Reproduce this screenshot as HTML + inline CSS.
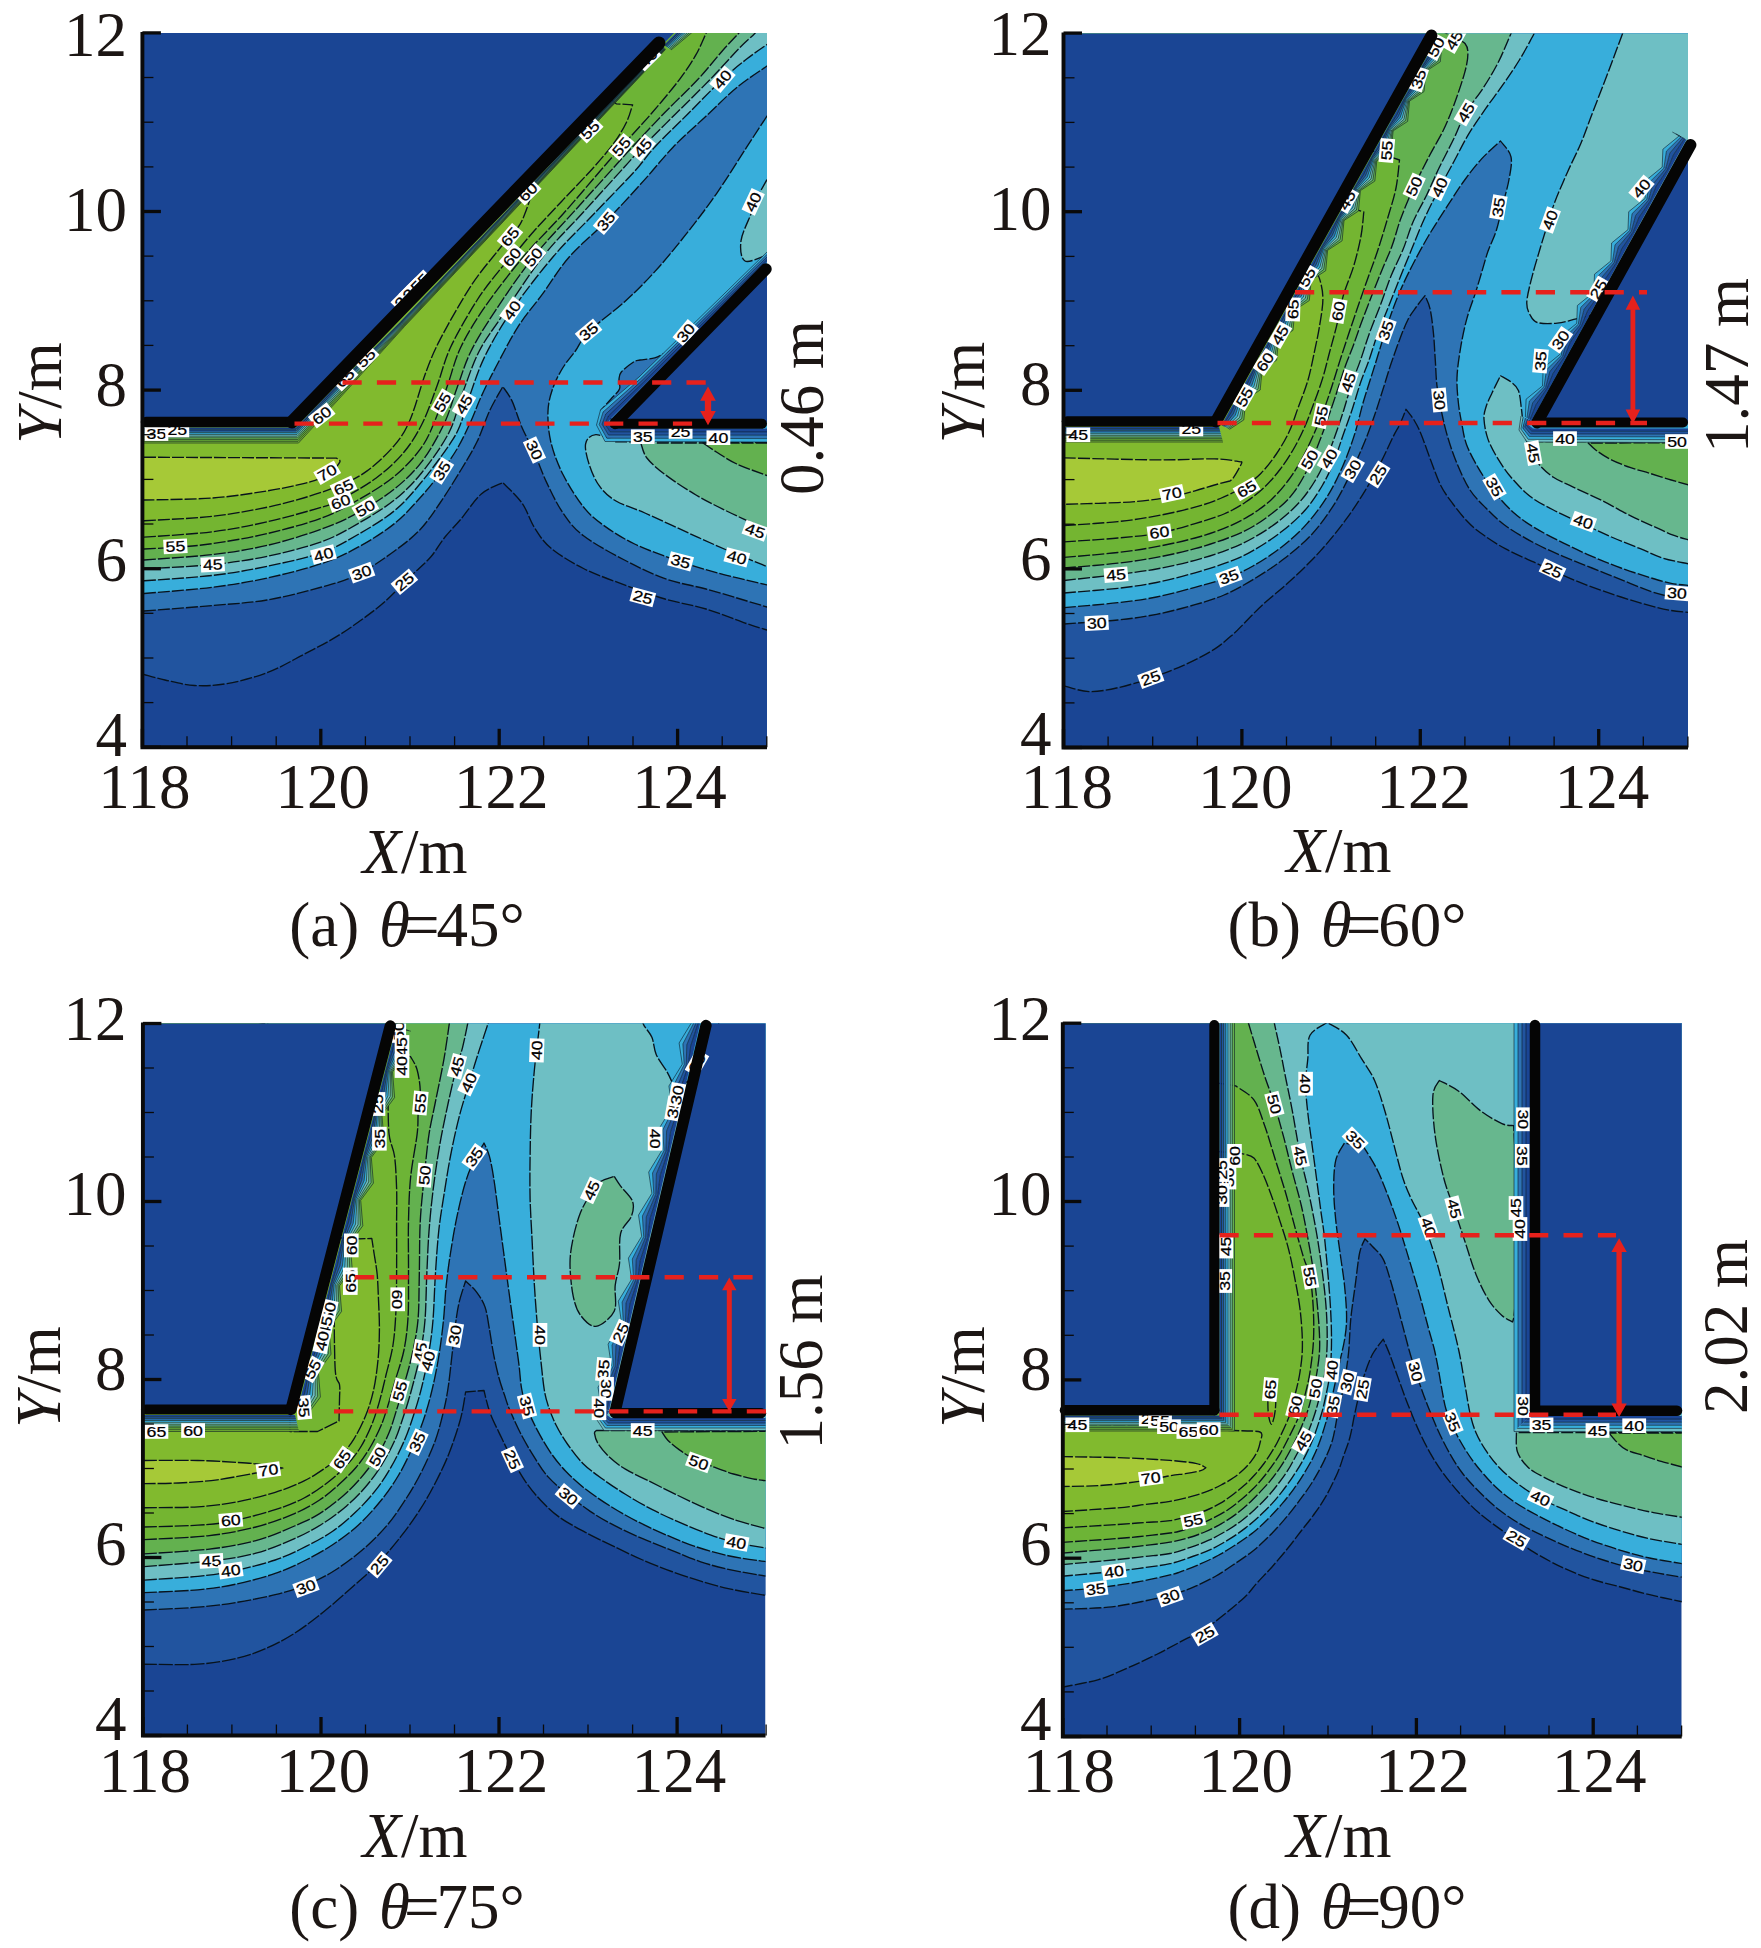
<!DOCTYPE html>
<html lang="zh"><head><meta charset="utf-8"><title>Figure</title>
<style>html,body{margin:0;padding:0;background:#fff}svg{display:block}</style></head>
<body>
<svg width="1761" height="1948" viewBox="0 0 1761 1948">
<rect width="1761" height="1948" fill="#fff"/>
<!-- panel pa -->
<clipPath id="clip0"><rect x="144" y="33" width="623" height="714"/></clipPath>
<g clip-path="url(#clip0)">
<rect x="144" y="33" width="623" height="714" fill="#1a4594"/>
<path d="M144 674.5 C147.5 675.4 156.6 678.2 165 680 C173.4 681.8 184.2 684.9 194.5 685.5 C204.8 686.1 214.9 685.7 227 683.6 C239.1 681.5 254.2 677.6 267 672.7 C279.8 667.9 291.4 660.9 303.6 654.5 C315.8 648.1 327.9 642.1 340 634.5 C352.1 626.9 366.9 616 376 609 C385.1 602 388.3 598.4 394.4 592.6 C400.5 586.8 406.6 580.3 412.6 574.4 C418.7 568.5 425.3 563.2 430.7 557 C436.1 550.8 439.9 543.3 445 537 C450.1 530.7 454.9 526.2 461 519 C467.1 511.8 474.3 500.1 481.3 494 C488.3 487.9 499.2 484.5 502.8 482.6 L502.8 482.6 C506 486 516.7 495.5 522 503 C527.3 510.5 529.7 520.1 534.5 527.6 C539.3 535.1 542.6 541.2 550.8 548 C559 554.8 571.2 562.4 583.5 568.5 C595.8 574.6 610.8 579.8 624.4 584.9 C638 590 651.4 595 665 599 C678.6 603 692.3 604.9 706 609 C719.7 613.1 736.8 620.2 747 623.7 C757.2 627.2 763.7 629 767 630 L820 630 C820 523.3 940 96.7 820 -10 C700 -116.7 220 -124.1 100 -10 C-20 104.1 100 560.4 100 674.5 Z" fill="#21549f" stroke="#08131c" stroke-width="1.35" stroke-linejoin="round" stroke-dasharray="12 2"/>
<path d="M144 611 C155.4 610.1 192.2 607.3 212.7 605.5 C233.2 603.7 248.8 603.1 267 600 C285.2 596.9 306.6 591.2 321.8 587 C337 582.8 345.9 580.5 358 574.5 C370.1 568.5 384.2 558.5 394.5 551 C404.8 543.5 412.4 537.7 420 529.7 C427.6 521.7 433.2 513 440 503 C446.8 493.1 454.7 480.2 460.9 470 C467.1 459.8 472.2 451.6 477 441.8 C481.8 432 485.2 420.2 489.5 411 C493.8 401.8 500.6 390.7 502.8 386.6 L502.8 386.6 C504.3 389 508.8 394.1 512 400.9 C515.2 407.7 518.3 419 522 427.5 C525.7 436 529.9 442.8 534 452 C538.1 461.2 541.9 472.4 546.7 482.6 C551.5 492.8 556.9 504.1 563 513 C569.1 521.9 573.3 528 583.5 535.8 C593.7 543.6 610.8 552.9 624.4 560 C638 567.1 651.4 573.9 665 578.7 C678.6 583.5 692.3 585.3 706 589 C719.7 592.7 736.8 598 747 601 C757.2 604 763.7 606 767 607 L820 607 C820 504.2 940 92.8 820 -10 C700 -112.8 220 -113.5 100 -10 C-20 93.5 100 507.5 100 611 Z" fill="#2e74b5" stroke="#08131c" stroke-width="1.35" stroke-linejoin="round" stroke-dasharray="12 2"/>
<path d="M144 593.5 C155.4 592.5 192.2 589.8 212.7 587.2 C233.2 584.6 249 582 267.2 578 C285.4 574 306.6 568.6 321.7 563.5 C336.8 558.4 345.9 553.9 358 547.2 C370.1 540.6 383.8 532.1 394.4 523.6 C405 515.1 414.1 504.4 421.7 496 C429.3 487.6 434.1 481.3 440 473.5 C445.9 465.7 451.8 457.8 457 449 C462.2 440.2 467 429.7 471 421 C475 412.3 476.9 405.9 481 397 C485.1 388.1 489.4 379.2 495.6 367.5 C501.8 355.8 510.3 338.9 518.1 326.6 C525.9 314.3 534.1 305.5 542.6 293.9 C551.1 282.3 558.6 269.1 569.2 257 C579.8 244.9 593.4 234.3 606 221.4 C618.6 208.5 633.6 191.9 644.9 179.4 C656.1 166.9 663.3 157.3 673.5 146.7 C683.7 136.1 695.7 125.9 706.2 116 C716.8 106.1 726.7 95.8 736.8 87.5 C746.9 79.2 762 69.6 767 66 L820 66 C820 53.3 940 2.7 820 -10 C700 -22.7 220 -110.6 100 -10 C-20 90.6 100 492.9 100 593.5 Z" fill="#38aedb" stroke="#08131c" stroke-width="1.35" stroke-linejoin="round" stroke-dasharray="12 2"/>
<path d="M767 116 C763.7 121.1 755.4 133.7 747 146.7 C738.6 159.7 726.6 179.1 716.4 193.8 C706.2 208.5 695.9 221.8 685.7 234.7 C675.5 247.6 665.2 260.2 655 271.4 C644.8 282.6 635.5 291.9 624.4 302 C613.3 312.1 596.8 323.5 588.6 331.7 C580.4 339.9 579.7 345 575.4 351 C571.1 357 566.8 361.3 563 367.5 C559.2 373.7 555.4 380.8 552.9 388 C550.4 395.2 548.4 402 548 411 C547.6 420 548.3 431.2 550.8 441.8 C553.3 452.4 557.5 463.6 563 474.5 C568.5 485.4 576.7 498.5 583.5 507 C590.3 515.5 595.5 519.4 604 525.6 C612.5 531.8 622.7 538.3 634.6 544 C646.5 549.7 661.9 555.2 675.5 560 C689.1 564.8 701.1 568.5 716.4 572.6 C731.6 576.8 758.6 582.9 767 584.9 L820 584.9 L820 116 Z" fill="#38aedb" stroke="#08131c" stroke-width="1.35" stroke-linejoin="round" stroke-dasharray="12 2"/>
<path d="M694 331 C692.3 333 688.5 339.3 683.7 343 C678.9 346.7 669.8 350.5 665 353 C660.2 355.5 658.9 356.7 654.7 357.9 C650.5 359.1 643.6 359.3 640 360 C636.4 360.7 636.3 360.2 633.2 362.2 C630.1 364.2 623.7 369.1 621.3 372 C618.9 374.9 619.3 376.7 619 379.5 C618.7 382.3 620.8 385.8 619.5 389 C618.2 392.2 614.1 395.5 611 399 C607.9 402.5 602.7 408.2 601 410 L612 420 L702 340 Z" fill="#2e74b5" stroke="#08131c" stroke-width="1.35" stroke-linejoin="round" stroke-dasharray="12 2"/>
<path d="M144 580.8 C155.4 579.9 192.2 577.8 212.7 575.4 C233.2 573 249 570.1 267.2 566.3 C285.4 562.5 306.6 557.9 321.7 552.6 C336.8 547.3 345.9 541.5 358 534.5 C370.1 527.5 383.8 519.6 394.4 510.8 C405 502 412.6 492.7 421.7 481.8 C430.8 470.9 442.5 454.8 448.9 445.4 C455.3 436 456.5 433.8 460 425.4 C463.5 417 465.8 406.7 470 395 C474.2 383.3 478.4 369.3 485.4 355.2 C492.4 341.1 500.8 326.7 512 310.3 C523.2 293.9 539.3 273.1 552.9 257 C566.5 240.9 580.2 228.3 593.8 214 C607.4 199.7 624.4 182.5 634.6 171.3 C644.8 160.1 646.2 156.2 655.1 146.7 C664 137.1 676.6 125.2 687.8 114 C699 102.8 712.6 88.5 722.5 79.3 C732.4 70.1 739.6 64.6 747 58.8 C754.4 53 763.7 46.9 767 44.5 L820 44.5 C820 35.4 940 -0.9 820 -10 C700 -19.1 220 -108.5 100 -10 C-20 88.5 100 482.3 100 580.8 Z" fill="#6ebfc4" stroke="#08131c" stroke-width="1.35" stroke-linejoin="round" stroke-dasharray="12 2"/>
<path d="M767 179.5 C765.3 182.6 759.7 192.2 757 198 C754.3 203.8 753.7 206.9 751 214 C748.3 221.1 742 233 741 240.8 C740 248.6 740.7 258.6 745 261 C749.3 263.4 763.3 256 767 255 L820 255 L820 179.5 Z" fill="#6ebfc4" stroke="#08131c" stroke-width="1.35" stroke-linejoin="round" stroke-dasharray="12 2"/>
<path d="M767 442 L616 441.8 L616 441.8 C612.6 440.6 600.9 434.3 595.8 434.6 C590.7 434.9 586.6 438.6 585.6 443.8 C584.6 449 587.3 458.9 589.7 466 C592.1 473.1 595.5 480.9 599.9 486.7 C604.3 492.5 608.5 496.6 616 501 C623.5 505.4 633.3 507.9 644.9 513 C656.5 518.1 672.1 525.5 685.7 531.7 C699.3 537.9 713.1 544.2 726.6 550 C740.1 555.8 760.3 563.8 767 566.5 L820 566.5 L820 442 Z" fill="#6ebfc4" stroke="#08131c" stroke-width="1.35" stroke-linejoin="round" stroke-dasharray="12 2"/>
<path d="M144 569 C155.4 568.2 192.2 566.6 212.7 564.5 C233.2 562.4 249 560.1 267.2 556.3 C285.4 552.5 306.6 547.2 321.7 541.7 C336.8 536.2 345.9 530.6 358 523.6 C370.1 516.6 383.8 508.5 394.4 500 C405 491.5 412.6 483.9 421.7 472.7 C430.8 461.5 442 446.1 448.9 432.7 C455.8 419.2 457.9 405.6 463 392 C468.1 378.4 472.8 363.6 479.3 351 C485.8 338.4 491.2 332.1 501.8 316.4 C512.4 300.7 529 274.4 542.6 257 C556.2 239.6 569.9 227 583.5 212 C597.1 197 614.5 177.9 624.4 167 C634.3 156.1 634.3 155.5 642.8 146.7 C651.3 137.9 664.2 125.2 675.5 114 C686.8 102.8 699.7 90.2 710.3 79.3 C720.9 68.4 731.4 56.3 738.9 48.6 C746.4 40.9 751.7 36.9 755.2 33 C758.7 29.1 759.2 26.3 760 25 L100 -10 L100 569 Z" fill="#67b78e" stroke="#08131c" stroke-width="1.35" stroke-linejoin="round" stroke-dasharray="12 2"/>
<path d="M640.8 443 C641.8 445.5 642.9 452.8 646.9 458 C650.9 463.2 656.8 468.3 665 474.5 C673.2 480.7 685.7 488.9 696 495 C706.3 501.1 714.8 505.2 726.6 511 C738.4 516.8 760.3 526.6 767 529.7 L820 529.7 L820 443 Z" fill="#67b78e" stroke="#08131c" stroke-width="1.35" stroke-linejoin="round" stroke-dasharray="12 2"/>
<path d="M144 560 C155.4 559.1 192.2 556.9 212.7 554.5 C233.2 552.1 249 549.6 267.2 545.4 C285.4 541.1 306.6 534.5 321.7 529 C336.8 523.5 345.9 519.4 358 512.7 C370.1 506 383.8 497.5 394.4 489 C405 480.5 413.4 472.6 421.7 461.8 C430 451 438.1 436.3 444 424 C449.9 411.7 452.5 400.2 457 388 C461.5 375.8 464.7 363.9 471.1 351 C477.5 338.1 485.2 326 495.6 310.3 C506 294.6 520.2 273.7 533.5 257 C546.8 240.3 561.9 225 575.4 210 C588.9 195 604.7 177.6 614.2 167 C623.7 156.4 624.1 155.9 632.6 146.7 C641.1 137.5 654.4 123.2 665.3 112 C676.2 100.8 688.5 89.5 698 79.3 C707.5 69.1 715.7 58.4 722.5 50.7 C729.3 43 735.1 37.3 738.9 33 C742.6 28.7 744 26.3 745 25 L100 -10 L100 560 Z" fill="#63b14f" stroke="#08131c" stroke-width="1.35" stroke-linejoin="round" stroke-dasharray="12 2"/>
<path d="M703 443 C705.2 444.5 710.8 448.5 716.4 452 C722 455.5 728.4 460.1 736.8 464 C745.2 467.9 762 473.6 767 475.5 L820 475.5 L820 443 Z" fill="#63b14f" stroke="#08131c" stroke-width="1.35" stroke-linejoin="round" stroke-dasharray="12 2"/>
<path d="M144 549 C149.4 548.7 164.9 548.1 176.3 547.2 C187.8 546.3 197.5 545.9 212.7 543.6 C227.8 541.3 249 537.9 267.2 533.6 C285.4 529.3 306.6 523.6 321.7 518 C336.8 512.4 345.9 506.9 358 500 C370.1 493.1 383.8 485.1 394.4 476.3 C405 467.5 414.8 456.9 421.7 447.2 C428.6 437.5 431.6 428.5 436 418 C440.4 407.5 443.9 395.8 448 384 C452.1 372.2 454.7 360 460.9 347 C467.1 334 475 321.2 485.4 306.2 C495.8 291.2 510.3 272.4 523.2 257 C536.1 241.6 550.2 228.3 563 214 C575.8 199.7 590.2 182.5 599.9 171.3 C609.6 160.1 612.9 156.2 621.4 146.7 C629.9 137.1 641.3 125.2 651 114 C660.7 102.8 672.1 89.2 679.6 79.3 C687.1 69.4 691.6 62.4 696 54.7 C700.4 47 703.7 38 706.2 33 C708.7 28.1 710.2 26.3 711 25 L100 -10 L100 549 Z" fill="#6db436" stroke="#08131c" stroke-width="1.35" stroke-linejoin="round" stroke-dasharray="12 2"/>
<path d="M144 537.2 C155.4 536.3 192.2 534.3 212.7 531.7 C233.2 529.1 249 525.9 267.2 521.8 C285.4 517.7 309.6 510.8 321.7 507.2 C333.8 503.6 330.8 504.9 339.9 500 C349 495.1 365.6 485.9 376.2 478 C386.8 470.1 395.9 461.7 403.5 452.7 C411.1 443.7 416.4 435.1 422 424 C427.6 412.9 432.2 398.8 437 386 C441.8 373.2 444 361.3 450.7 347 C457.4 332.7 468.7 313.3 477.2 300 C485.7 286.7 496 274.5 501.8 267.3 C507.6 260.1 506.6 263.1 512 257 C517.5 250.9 526 240 534.5 230.5 C543 221 553.1 210.5 563 199.9 C572.9 189.3 585.3 176.8 593.8 167.2 C602.3 157.6 608.8 150.1 614.2 142.6 C619.7 135.1 623.4 128.5 626.5 122.2 C629.6 115.9 631.6 107.7 632.6 104.8 L616.2 103.8 L600 90 L100 90 L100 537.2 Z" fill="#74b531" stroke="#08131c" stroke-width="1.35" stroke-linejoin="round" stroke-dasharray="12 2"/>
<path d="M144 520.8 C155.4 520 192.2 518.6 212.7 516.3 C233.2 514 252.1 510.2 267.2 507.2 C282.3 504.1 291.4 501.6 303.5 498 C315.6 494.4 329.3 489.9 339.9 485.4 C350.5 480.9 358 477.6 367.1 470.9 C376.2 464.2 387.2 453.9 394.4 445.4 C401.5 436.9 404.7 432.2 410 420 C415.3 407.8 420.9 385.5 426 372 C431.1 358.5 432.9 353.3 440.4 338.9 C447.9 324.5 461.6 300.3 471.1 285.7 C480.7 271.1 491.2 259.2 497.7 251 C504.2 242.8 506.3 241.1 510 236.7 C513.7 232.3 517.3 228.8 520 224.4 C522.7 220 524.6 214.4 526.3 210 C528 205.6 529.7 199.8 530.4 197.8 L522 190 L500 180 L100 180 L100 520.8 Z" fill="#81ba2e" stroke="#08131c" stroke-width="1.35" stroke-linejoin="round" stroke-dasharray="12 2"/>
<path d="M144 457.2 L336.3 458.1 L336.3 458.1 C336.9 458.7 340.6 459.5 339.9 461.8 C339.2 464.1 333.3 470.3 332 472 L332 472 C330.3 473 326.4 476.1 321.7 478 C316.9 479.9 312.6 481.5 303.5 483.6 C294.4 485.8 282.3 488.5 267.2 490.9 C252.1 493.3 233.2 496.5 212.7 498 C192.2 499.5 155.4 499.7 144 500 L100 500 L100 457.2 Z" fill="#a6c937" stroke="#08131c" stroke-width="1.35" stroke-linejoin="round" stroke-dasharray="12 2"/>
<polygon points="144,427.5 296,427.5 296.3,429.2 144,429.2" fill="#1a4594"/>
<polygon points="144,429.2 296.3,429.2 296.6,430.9 144,430.9" fill="#21549f"/>
<polygon points="144,430.9 296.6,430.9 296.8,432.7 144,432.7" fill="#2e74b5"/>
<polygon points="144,432.7 296.8,432.7 297.1,434.4 144,434.4" fill="#38aedb"/>
<polygon points="144,434.4 297.1,434.4 297.4,436.1 144,436.1" fill="#6ebfc4"/>
<polygon points="144,436.1 297.4,436.1 297.7,437.8 144,437.8" fill="#67b78e"/>
<polygon points="144,437.8 297.7,437.8 297.9,439.6 144,439.6" fill="#63b14f"/>
<polygon points="144,439.6 297.9,439.6 298.2,441.3 144,441.3" fill="#6db436"/>
<polygon points="144,441.3 298.2,441.3 298.5,443 144,443" fill="#74b531"/>
<polyline points="144,429.2 296.3,429.2" fill="none" stroke="#0b1a26" stroke-width="0.7" stroke-opacity="0.85"/>
<polyline points="144,430.9 296.6,430.9" fill="none" stroke="#0b1a26" stroke-width="0.7" stroke-opacity="0.85"/>
<polyline points="144,432.7 296.8,432.7" fill="none" stroke="#0b1a26" stroke-width="0.7" stroke-opacity="0.85"/>
<polyline points="144,434.4 297.1,434.4" fill="none" stroke="#0b1a26" stroke-width="0.7" stroke-opacity="0.85"/>
<polyline points="144,436.1 297.4,436.1" fill="none" stroke="#0b1a26" stroke-width="0.7" stroke-opacity="0.85"/>
<polyline points="144,437.8 297.7,437.8" fill="none" stroke="#0b1a26" stroke-width="0.7" stroke-opacity="0.85"/>
<polyline points="144,439.6 297.9,439.6" fill="none" stroke="#0b1a26" stroke-width="0.7" stroke-opacity="0.85"/>
<polyline points="144,441.3 298.2,441.3" fill="none" stroke="#0b1a26" stroke-width="0.7" stroke-opacity="0.85"/>
<polyline points="144,443 298.5,443" fill="none" stroke="#0b1a26" stroke-width="0.7" stroke-opacity="0.85"/>
<polygon points="296,427.5 334,388 400,322 663,47 663.3,47.3 400.5,322.5 334.4,389.3 296.3,429.2" fill="#1a4594"/>
<polygon points="296.3,429.2 334.4,389.3 400.5,322.5 663.3,47.3 663.6,47.6 401,323 334.9,390.7 296.6,430.9" fill="#21549f"/>
<polygon points="296.6,430.9 334.9,390.7 401,323 663.6,47.6 663.8,47.8 401.5,323.5 335.3,392 296.8,432.7" fill="#2e74b5"/>
<polygon points="296.8,432.7 335.3,392 401.5,323.5 663.8,47.8 664.1,48.1 402,324 335.8,393.3 297.1,434.4" fill="#38aedb"/>
<polygon points="297.1,434.4 335.8,393.3 402,324 664.1,48.1 664.4,48.4 402.5,324.5 336.2,394.7 297.4,436.1" fill="#6ebfc4"/>
<polygon points="297.4,436.1 336.2,394.7 402.5,324.5 664.4,48.4 664.7,48.7 403,325 336.7,396 297.7,437.8" fill="#67b78e"/>
<polygon points="297.7,437.8 336.7,396 403,325 664.7,48.7 664.9,48.9 403.5,325.5 337.1,397.3 297.9,439.6" fill="#63b14f"/>
<polygon points="297.9,439.6 337.1,397.3 403.5,325.5 664.9,48.9 665.2,49.2 404,326 337.6,398.7 298.2,441.3" fill="#6db436"/>
<polygon points="298.2,441.3 337.6,398.7 404,326 665.2,49.2 665.5,49.5 404.5,326.5 338,400 298.5,443" fill="#74b531"/>
<polyline points="296.3,429.2 334.4,389.3 400.5,322.5 663.3,47.3" fill="none" stroke="#0b1a26" stroke-width="0.7" stroke-opacity="0.85"/>
<polyline points="296.6,430.9 334.9,390.7 401,323 663.6,47.6" fill="none" stroke="#0b1a26" stroke-width="0.7" stroke-opacity="0.85"/>
<polyline points="296.8,432.7 335.3,392 401.5,323.5 663.8,47.8" fill="none" stroke="#0b1a26" stroke-width="0.7" stroke-opacity="0.85"/>
<polyline points="297.1,434.4 335.8,393.3 402,324 664.1,48.1" fill="none" stroke="#0b1a26" stroke-width="0.7" stroke-opacity="0.85"/>
<polyline points="297.4,436.1 336.2,394.7 402.5,324.5 664.4,48.4" fill="none" stroke="#0b1a26" stroke-width="0.7" stroke-opacity="0.85"/>
<polyline points="297.7,437.8 336.7,396 403,325 664.7,48.7" fill="none" stroke="#0b1a26" stroke-width="0.7" stroke-opacity="0.85"/>
<polyline points="297.9,439.6 337.1,397.3 403.5,325.5 664.9,48.9" fill="none" stroke="#0b1a26" stroke-width="0.7" stroke-opacity="0.85"/>
<polyline points="298.2,441.3 337.6,398.7 404,326 665.2,49.2" fill="none" stroke="#0b1a26" stroke-width="0.7" stroke-opacity="0.85"/>
<polyline points="298.5,443 338,400 404.5,326.5 665.5,49.5" fill="none" stroke="#0b1a26" stroke-width="0.7" stroke-opacity="0.85"/>
<polygon points="664,45 679,30 681.3,30 665,45.7" fill="#1a4594"/>
<polygon points="665,45.7 681.3,30 683.6,30 666,46.4" fill="#21549f"/>
<polygon points="666,46.4 683.6,30 685.9,30 667,47.1" fill="#2e74b5"/>
<polygon points="667,47.1 685.9,30 688.1,30 668,47.9" fill="#38aedb"/>
<polygon points="668,47.9 688.1,30 690.4,30 669,48.6" fill="#6ebfc4"/>
<polygon points="669,48.6 690.4,30 692.7,30 670,49.3" fill="#67b78e"/>
<polygon points="670,49.3 692.7,30 695,30 671,50" fill="#63b14f"/>
<polyline points="665,45.7 681.3,30" fill="none" stroke="#0b1a26" stroke-width="0.7" stroke-opacity="0.85"/>
<polyline points="666,46.4 683.6,30" fill="none" stroke="#0b1a26" stroke-width="0.7" stroke-opacity="0.85"/>
<polyline points="667,47.1 685.9,30" fill="none" stroke="#0b1a26" stroke-width="0.7" stroke-opacity="0.85"/>
<polyline points="668,47.9 688.1,30" fill="none" stroke="#0b1a26" stroke-width="0.7" stroke-opacity="0.85"/>
<polyline points="669,48.6 690.4,30" fill="none" stroke="#0b1a26" stroke-width="0.7" stroke-opacity="0.85"/>
<polyline points="670,49.3 692.7,30" fill="none" stroke="#0b1a26" stroke-width="0.7" stroke-opacity="0.85"/>
<polyline points="671,50 695,30" fill="none" stroke="#0b1a26" stroke-width="0.7" stroke-opacity="0.85"/>
<polygon points="768,261 645,384 611,418 607.5,423.5 612,428.5 768,428.5 768,431.9 610.2,431.8 604.8,423.9 608.4,416 643.5,382.2 768,258.5" fill="#1a4594"/>
<polygon points="768,258.5 643.5,382.2 608.4,416 604.8,423.9 610.2,431.8 768,431.9 768,435.2 608.5,435 602,424.2 605.8,414 642,380.5 768,256" fill="#21549f"/>
<polygon points="768,256 642,380.5 605.8,414 602,424.2 608.5,435 768,435.2 768,438.6 606.8,438.2 599.2,424.6 603.1,412 640.5,378.8 768,253.5" fill="#2e74b5"/>
<polygon points="768,253.5 640.5,378.8 603.1,412 599.2,424.6 606.8,438.2 768,438.6 768,442 605,441.5 596.5,425 600.5,410 639,377 768,251" fill="#38aedb"/>
<polyline points="768,258.5 643.5,382.2 608.4,416 604.8,423.9 610.2,431.8 768,431.9" fill="none" stroke="#0b1a26" stroke-width="0.7" stroke-opacity="0.85"/>
<polyline points="768,256 642,380.5 605.8,414 602,424.2 608.5,435 768,435.2" fill="none" stroke="#0b1a26" stroke-width="0.7" stroke-opacity="0.85"/>
<polyline points="768,253.5 640.5,378.8 603.1,412 599.2,424.6 606.8,438.2 768,438.6" fill="none" stroke="#0b1a26" stroke-width="0.7" stroke-opacity="0.85"/>
<polyline points="768,251 639,377 600.5,410 596.5,425 605,441.5 768,442" fill="none" stroke="#0b1a26" stroke-width="0.7" stroke-opacity="0.85"/>
<polygon points="140,30 677,30 292,422 140,422" fill="#1a4594"/>
<polygon points="614,422 770,266 770,422" fill="#1a4594"/>
<g transform="translate(321.7 415.4) rotate(-38)"><rect x="-11.9" y="-7.3" width="23.8" height="14.6" fill="#fff"/><text transform="scale(1.2 1)" x="0" y="5.3" text-anchor="middle" font-family='"Liberation Sans", sans-serif' font-size="14.8" fill="#000" stroke="#000" stroke-width="0.25">60</text></g>
<g transform="translate(156.4 433.6) rotate(0)"><rect x="-11.9" y="-7.3" width="23.8" height="14.6" fill="#fff"/><text transform="scale(1.2 1)" x="0" y="5.3" text-anchor="middle" font-family='"Liberation Sans", sans-serif' font-size="14.8" fill="#000" stroke="#000" stroke-width="0.25">35</text></g>
<g transform="translate(177.3 430) rotate(0)"><rect x="-11.9" y="-7.3" width="23.8" height="14.6" fill="#fff"/><text transform="scale(1.2 1)" x="0" y="5.3" text-anchor="middle" font-family='"Liberation Sans", sans-serif' font-size="14.8" fill="#000" stroke="#000" stroke-width="0.25">25</text></g>
<g transform="translate(327.2 472.7) rotate(-30)"><rect x="-11.9" y="-7.3" width="23.8" height="14.6" fill="#fff"/><text transform="scale(1.2 1)" x="0" y="5.3" text-anchor="middle" font-family='"Liberation Sans", sans-serif' font-size="14.8" fill="#000" stroke="#000" stroke-width="0.25">70</text></g>
<g transform="translate(343.5 487.2) rotate(-25)"><rect x="-11.9" y="-7.3" width="23.8" height="14.6" fill="#fff"/><text transform="scale(1.2 1)" x="0" y="5.3" text-anchor="middle" font-family='"Liberation Sans", sans-serif' font-size="14.8" fill="#000" stroke="#000" stroke-width="0.25">65</text></g>
<g transform="translate(340.8 501.8) rotate(-20)"><rect x="-11.9" y="-7.3" width="23.8" height="14.6" fill="#fff"/><text transform="scale(1.2 1)" x="0" y="5.3" text-anchor="middle" font-family='"Liberation Sans", sans-serif' font-size="14.8" fill="#000" stroke="#000" stroke-width="0.25">60</text></g>
<g transform="translate(365.3 508.1) rotate(-30)"><rect x="-11.9" y="-7.3" width="23.8" height="14.6" fill="#fff"/><text transform="scale(1.2 1)" x="0" y="5.3" text-anchor="middle" font-family='"Liberation Sans", sans-serif' font-size="14.8" fill="#000" stroke="#000" stroke-width="0.25">50</text></g>
<g transform="translate(175.4 546.3) rotate(-3)"><rect x="-11.9" y="-7.3" width="23.8" height="14.6" fill="#fff"/><text transform="scale(1.2 1)" x="0" y="5.3" text-anchor="middle" font-family='"Liberation Sans", sans-serif' font-size="14.8" fill="#000" stroke="#000" stroke-width="0.25">55</text></g>
<g transform="translate(212.7 564.5) rotate(-3)"><rect x="-11.9" y="-7.3" width="23.8" height="14.6" fill="#fff"/><text transform="scale(1.2 1)" x="0" y="5.3" text-anchor="middle" font-family='"Liberation Sans", sans-serif' font-size="14.8" fill="#000" stroke="#000" stroke-width="0.25">45</text></g>
<g transform="translate(323.5 554.5) rotate(-15)"><rect x="-11.9" y="-7.3" width="23.8" height="14.6" fill="#fff"/><text transform="scale(1.2 1)" x="0" y="5.3" text-anchor="middle" font-family='"Liberation Sans", sans-serif' font-size="14.8" fill="#000" stroke="#000" stroke-width="0.25">40</text></g>
<g transform="translate(361.7 572.6) rotate(-20)"><rect x="-11.9" y="-7.3" width="23.8" height="14.6" fill="#fff"/><text transform="scale(1.2 1)" x="0" y="5.3" text-anchor="middle" font-family='"Liberation Sans", sans-serif' font-size="14.8" fill="#000" stroke="#000" stroke-width="0.25">30</text></g>
<g transform="translate(404.4 581.7) rotate(-40)"><rect x="-11.9" y="-7.3" width="23.8" height="14.6" fill="#fff"/><text transform="scale(1.2 1)" x="0" y="5.3" text-anchor="middle" font-family='"Liberation Sans", sans-serif' font-size="14.8" fill="#000" stroke="#000" stroke-width="0.25">25</text></g>
<g transform="translate(441.7 470.9) rotate(-58)"><rect x="-11.9" y="-7.3" width="23.8" height="14.6" fill="#fff"/><text transform="scale(1.2 1)" x="0" y="5.3" text-anchor="middle" font-family='"Liberation Sans", sans-serif' font-size="14.8" fill="#000" stroke="#000" stroke-width="0.25">35</text></g>
<g transform="translate(722.5 79.3) rotate(-50)"><rect x="-11.9" y="-7.3" width="23.8" height="14.6" fill="#fff"/><text transform="scale(1.2 1)" x="0" y="5.3" text-anchor="middle" font-family='"Liberation Sans", sans-serif' font-size="14.8" fill="#000" stroke="#000" stroke-width="0.25">40</text></g>
<g transform="translate(621.4 146.7) rotate(-50)"><rect x="-11.9" y="-7.3" width="23.8" height="14.6" fill="#fff"/><text transform="scale(1.2 1)" x="0" y="5.3" text-anchor="middle" font-family='"Liberation Sans", sans-serif' font-size="14.8" fill="#000" stroke="#000" stroke-width="0.25">55</text></g>
<g transform="translate(642.8 147.8) rotate(-50)"><rect x="-11.9" y="-7.3" width="23.8" height="14.6" fill="#fff"/><text transform="scale(1.2 1)" x="0" y="5.3" text-anchor="middle" font-family='"Liberation Sans", sans-serif' font-size="14.8" fill="#000" stroke="#000" stroke-width="0.25">45</text></g>
<g transform="translate(606 221.3) rotate(-50)"><rect x="-11.9" y="-7.3" width="23.8" height="14.6" fill="#fff"/><text transform="scale(1.2 1)" x="0" y="5.3" text-anchor="middle" font-family='"Liberation Sans", sans-serif' font-size="14.8" fill="#000" stroke="#000" stroke-width="0.25">35</text></g>
<g transform="translate(510 236.7) rotate(-50)"><rect x="-11.9" y="-7.3" width="23.8" height="14.6" fill="#fff"/><text transform="scale(1.2 1)" x="0" y="5.3" text-anchor="middle" font-family='"Liberation Sans", sans-serif' font-size="14.8" fill="#000" stroke="#000" stroke-width="0.25">65</text></g>
<g transform="translate(512 257.1) rotate(-50)"><rect x="-11.9" y="-7.3" width="23.8" height="14.6" fill="#fff"/><text transform="scale(1.2 1)" x="0" y="5.3" text-anchor="middle" font-family='"Liberation Sans", sans-serif' font-size="14.8" fill="#000" stroke="#000" stroke-width="0.25">60</text></g>
<g transform="translate(533.5 257.1) rotate(-50)"><rect x="-11.9" y="-7.3" width="23.8" height="14.6" fill="#fff"/><text transform="scale(1.2 1)" x="0" y="5.3" text-anchor="middle" font-family='"Liberation Sans", sans-serif' font-size="14.8" fill="#000" stroke="#000" stroke-width="0.25">50</text></g>
<g transform="translate(512 310.3) rotate(-55)"><rect x="-11.9" y="-7.3" width="23.8" height="14.6" fill="#fff"/><text transform="scale(1.2 1)" x="0" y="5.3" text-anchor="middle" font-family='"Liberation Sans", sans-serif' font-size="14.8" fill="#000" stroke="#000" stroke-width="0.25">40</text></g>
<g transform="translate(588.6 331.7) rotate(-40)"><rect x="-11.9" y="-7.3" width="23.8" height="14.6" fill="#fff"/><text transform="scale(1.2 1)" x="0" y="5.3" text-anchor="middle" font-family='"Liberation Sans", sans-serif' font-size="14.8" fill="#000" stroke="#000" stroke-width="0.25">35</text></g>
<g transform="translate(685.7 332.8) rotate(-50)"><rect x="-11.9" y="-7.3" width="23.8" height="14.6" fill="#fff"/><text transform="scale(1.2 1)" x="0" y="5.3" text-anchor="middle" font-family='"Liberation Sans", sans-serif' font-size="14.8" fill="#000" stroke="#000" stroke-width="0.25">30</text></g>
<g transform="translate(753.2 201.9) rotate(-65)"><rect x="-11.9" y="-7.3" width="23.8" height="14.6" fill="#fff"/><text transform="scale(1.2 1)" x="0" y="5.3" text-anchor="middle" font-family='"Liberation Sans", sans-serif' font-size="14.8" fill="#000" stroke="#000" stroke-width="0.25">40</text></g>
<g transform="translate(442.5 402.3) rotate(-60)"><rect x="-11.9" y="-7.3" width="23.8" height="14.6" fill="#fff"/><text transform="scale(1.2 1)" x="0" y="5.3" text-anchor="middle" font-family='"Liberation Sans", sans-serif' font-size="14.8" fill="#000" stroke="#000" stroke-width="0.25">55</text></g>
<g transform="translate(464 404.3) rotate(-60)"><rect x="-11.9" y="-7.3" width="23.8" height="14.6" fill="#fff"/><text transform="scale(1.2 1)" x="0" y="5.3" text-anchor="middle" font-family='"Liberation Sans", sans-serif' font-size="14.8" fill="#000" stroke="#000" stroke-width="0.25">45</text></g>
<g transform="translate(534.5 450) rotate(65)"><rect x="-11.9" y="-7.3" width="23.8" height="14.6" fill="#fff"/><text transform="scale(1.2 1)" x="0" y="5.3" text-anchor="middle" font-family='"Liberation Sans", sans-serif' font-size="14.8" fill="#000" stroke="#000" stroke-width="0.25">30</text></g>
<g transform="translate(642.8 436.7) rotate(0)"><rect x="-11.9" y="-7.3" width="23.8" height="14.6" fill="#fff"/><text transform="scale(1.2 1)" x="0" y="5.3" text-anchor="middle" font-family='"Liberation Sans", sans-serif' font-size="14.8" fill="#000" stroke="#000" stroke-width="0.25">35</text></g>
<g transform="translate(680.6 431.5) rotate(0)"><rect x="-11.9" y="-7.3" width="23.8" height="14.6" fill="#fff"/><text transform="scale(1.2 1)" x="0" y="5.3" text-anchor="middle" font-family='"Liberation Sans", sans-serif' font-size="14.8" fill="#000" stroke="#000" stroke-width="0.25">25</text></g>
<g transform="translate(718.4 437.7) rotate(0)"><rect x="-11.9" y="-7.3" width="23.8" height="14.6" fill="#fff"/><text transform="scale(1.2 1)" x="0" y="5.3" text-anchor="middle" font-family='"Liberation Sans", sans-serif' font-size="14.8" fill="#000" stroke="#000" stroke-width="0.25">40</text></g>
<g transform="translate(755.2 530.7) rotate(20)"><rect x="-11.9" y="-7.3" width="23.8" height="14.6" fill="#fff"/><text transform="scale(1.2 1)" x="0" y="5.3" text-anchor="middle" font-family='"Liberation Sans", sans-serif' font-size="14.8" fill="#000" stroke="#000" stroke-width="0.25">45</text></g>
<g transform="translate(736.8 557.3) rotate(15)"><rect x="-11.9" y="-7.3" width="23.8" height="14.6" fill="#fff"/><text transform="scale(1.2 1)" x="0" y="5.3" text-anchor="middle" font-family='"Liberation Sans", sans-serif' font-size="14.8" fill="#000" stroke="#000" stroke-width="0.25">40</text></g>
<g transform="translate(680.6 561.3) rotate(15)"><rect x="-11.9" y="-7.3" width="23.8" height="14.6" fill="#fff"/><text transform="scale(1.2 1)" x="0" y="5.3" text-anchor="middle" font-family='"Liberation Sans", sans-serif' font-size="14.8" fill="#000" stroke="#000" stroke-width="0.25">35</text></g>
<g transform="translate(642.8 597.1) rotate(15)"><rect x="-11.9" y="-7.3" width="23.8" height="14.6" fill="#fff"/><text transform="scale(1.2 1)" x="0" y="5.3" text-anchor="middle" font-family='"Liberation Sans", sans-serif' font-size="14.8" fill="#000" stroke="#000" stroke-width="0.25">25</text></g>
<g transform="translate(404 299) rotate(-45)"><rect x="-11.9" y="-7.3" width="23.8" height="14.6" fill="#fff"/><text transform="scale(1.2 1)" x="0" y="5.3" text-anchor="middle" font-family='"Liberation Sans", sans-serif' font-size="14.8" fill="#000" stroke="#000" stroke-width="0.25">35</text></g>
<g transform="translate(412 291) rotate(-45)"><rect x="-11.9" y="-7.3" width="23.8" height="14.6" fill="#fff"/><text transform="scale(1.2 1)" x="0" y="5.3" text-anchor="middle" font-family='"Liberation Sans", sans-serif' font-size="14.8" fill="#000" stroke="#000" stroke-width="0.25">25</text></g>
<g transform="translate(420 283) rotate(-45)"><rect x="-11.9" y="-7.3" width="23.8" height="14.6" fill="#fff"/><text transform="scale(1.2 1)" x="0" y="5.3" text-anchor="middle" font-family='"Liberation Sans", sans-serif' font-size="14.8" fill="#000" stroke="#000" stroke-width="0.25">55</text></g>
<g transform="translate(590 130) rotate(-45)"><rect x="-11.9" y="-7.3" width="23.8" height="14.6" fill="#fff"/><text transform="scale(1.2 1)" x="0" y="5.3" text-anchor="middle" font-family='"Liberation Sans", sans-serif' font-size="14.8" fill="#000" stroke="#000" stroke-width="0.25">55</text></g>
<g transform="translate(528 192) rotate(-45)"><rect x="-11.9" y="-7.3" width="23.8" height="14.6" fill="#fff"/><text transform="scale(1.2 1)" x="0" y="5.3" text-anchor="middle" font-family='"Liberation Sans", sans-serif' font-size="14.8" fill="#000" stroke="#000" stroke-width="0.25">60</text></g>
<g transform="translate(366 358) rotate(-45)"><rect x="-11.9" y="-7.3" width="23.8" height="14.6" fill="#fff"/><text transform="scale(1.2 1)" x="0" y="5.3" text-anchor="middle" font-family='"Liberation Sans", sans-serif' font-size="14.8" fill="#000" stroke="#000" stroke-width="0.25">55</text></g>
<g transform="translate(345 378) rotate(-45)"><rect x="-11.9" y="-7.3" width="23.8" height="14.6" fill="#fff"/><text transform="scale(1.2 1)" x="0" y="5.3" text-anchor="middle" font-family='"Liberation Sans", sans-serif' font-size="14.8" fill="#000" stroke="#000" stroke-width="0.25">65</text></g>
<g transform="translate(648 58) rotate(-45)"><rect x="-11.9" y="-7.3" width="23.8" height="14.6" fill="#fff"/><text transform="scale(1.2 1)" x="0" y="5.3" text-anchor="middle" font-family='"Liberation Sans", sans-serif' font-size="14.8" fill="#000" stroke="#000" stroke-width="0.25">40</text></g>
</g>
<polyline points="146,422 292,422" fill="none" stroke="#050505" stroke-width="10.5" stroke-linecap="round" stroke-linejoin="round"/>
<polyline points="292,422 659,43" fill="none" stroke="#050505" stroke-width="13" stroke-linecap="round" stroke-linejoin="round"/>
<polyline points="762,423.8 615,423.8" fill="none" stroke="#050505" stroke-width="10" stroke-linecap="round" stroke-linejoin="round"/>
<polyline points="615,423.5 766,269" fill="none" stroke="#050505" stroke-width="11.5" stroke-linecap="round" stroke-linejoin="round"/>
<g stroke="#0a0a0a" fill="none">
<path d="M142.4 32V747.3H767" stroke-width="3.9" stroke-linejoin="miter"/>
<path d="M142.4 747.3v-18.5" stroke-width="3.3"/>
<path d="M187 747.3v-11" stroke-width="1.3"/>
<path d="M231.6 747.3v-11" stroke-width="1.3"/>
<path d="M276.2 747.3v-11" stroke-width="1.3"/>
<path d="M320.8 747.3v-18.5" stroke-width="3.3"/>
<path d="M365.4 747.3v-11" stroke-width="1.3"/>
<path d="M410 747.3v-11" stroke-width="1.3"/>
<path d="M454.6 747.3v-11" stroke-width="1.3"/>
<path d="M499.2 747.3v-18.5" stroke-width="3.3"/>
<path d="M543.8 747.3v-11" stroke-width="1.3"/>
<path d="M588.4 747.3v-11" stroke-width="1.3"/>
<path d="M633 747.3v-11" stroke-width="1.3"/>
<path d="M677.6 747.3v-18.5" stroke-width="3.3"/>
<path d="M722.2 747.3v-11" stroke-width="1.3"/>
<path d="M766.8 747.3v-11" stroke-width="1.3"/>
<path d="M142.4 747.3h18.5" stroke-width="3.3"/>
<path d="M142.4 702.6h11" stroke-width="1.3"/>
<path d="M142.4 658h11" stroke-width="1.3"/>
<path d="M142.4 613.3h11" stroke-width="1.3"/>
<path d="M142.4 568.7h18.5" stroke-width="3.3"/>
<path d="M142.4 524h11" stroke-width="1.3"/>
<path d="M142.4 479.4h11" stroke-width="1.3"/>
<path d="M142.4 434.7h11" stroke-width="1.3"/>
<path d="M142.4 390.1h18.5" stroke-width="3.3"/>
<path d="M142.4 345.4h11" stroke-width="1.3"/>
<path d="M142.4 300.8h11" stroke-width="1.3"/>
<path d="M142.4 256.1h11" stroke-width="1.3"/>
<path d="M142.4 211.5h18.5" stroke-width="3.3"/>
<path d="M142.4 166.9h11" stroke-width="1.3"/>
<path d="M142.4 122.2h11" stroke-width="1.3"/>
<path d="M142.4 77.5h11" stroke-width="1.3"/>
<path d="M142.4 32.9h18.5" stroke-width="3.3"/>
</g>
<g stroke="#e6211c" stroke-width="4.4" fill="none" stroke-dasharray="19.2 15.2">
<path d="M342.5 382.5H707.2"/>
<path d="M294.5 423.6H694"/>
</g>
<path d="M708 399.7V412.1" stroke="#e6211c" stroke-width="6.3"/>
<path d="M708 386.5l7.8 14.2h-15.6z M708 425.3l7.8 -14.2h-15.6z" fill="#e6211c"/>
<g font-family='"Liberation Serif", "Noto Serif CJK SC", serif' fill="#1c1614" font-size="63">
<text x="127" y="55.5" text-anchor="end">12</text>
<text x="127" y="230.5" text-anchor="end">10</text>
<text x="127" y="405.5" text-anchor="end">8</text>
<text x="127" y="580.5" text-anchor="end">6</text>
<text x="127" y="755.5" text-anchor="end">4</text>
<text x="144.4" y="808" text-anchor="middle">118</text>
<text x="322.8" y="808" text-anchor="middle">120</text>
<text x="501.2" y="808" text-anchor="middle">122</text>
<text x="679.6" y="808" text-anchor="middle">124</text>
<text x="415" y="872.5" text-anchor="middle"><tspan font-style="italic">X</tspan>/m</text>
<text transform="translate(60.5 393) rotate(-90)" text-anchor="middle"><tspan font-style="italic">Y</tspan>/m</text>
<text transform="translate(823 407.5) rotate(-90)" text-anchor="middle">0.46 m</text>
<text x="407" y="946" text-anchor="middle" font-size="63">(a) <tspan font-style="italic" dx="4">θ</tspan><tspan dx="-6">=</tspan><tspan dx="-3">45°</tspan></text>
</g>
<!-- panel pb -->
<clipPath id="clip1"><rect x="1064.5" y="33.5" width="623.5" height="713.5"/></clipPath>
<g clip-path="url(#clip1)">
<rect x="1064.5" y="33.5" width="623.5" height="713.5" fill="#1a4594"/>
<path d="M1064 685.8 C1068.2 686.8 1080 691.3 1089 691.6 C1098 691.9 1107.6 690 1117.9 687.7 C1128.2 685.4 1139.5 681.9 1150.8 678 C1162.1 674.1 1174.9 669.3 1185.5 664.5 C1196.1 659.7 1206.5 654.2 1214.5 649.1 C1222.5 644 1228.6 638.1 1233.8 633.6 C1239 629.1 1240.6 626.8 1245.4 622 C1250.2 617.2 1255 611.8 1262.7 604.7 C1270.4 597.6 1282 588.6 1291.7 579.6 C1301.4 570.6 1311.7 560.6 1320.7 550.6 C1329.7 540.6 1338.4 529.7 1345.8 519.7 C1353.2 509.7 1359.3 500.1 1365 490.8 C1370.7 481.5 1375.3 473 1380 464 C1384.7 455 1389.7 443.7 1393 437 C1396.3 430.3 1397.8 428.6 1400 424 C1402.2 419.4 1405 411.8 1406 409.3 L1406 409.3 C1407.3 411.1 1411.5 415.9 1414 420 C1416.5 424.1 1418.2 427.2 1421 434 C1423.8 440.8 1427.7 452.3 1431 461 C1434.3 469.7 1437.3 478.8 1441 486 C1444.7 493.2 1448.8 498.3 1453 504 C1457.2 509.7 1461.5 515.2 1466 520 C1470.5 524.8 1473.5 527.7 1480 532.5 C1486.5 537.3 1496.2 543.8 1505.2 548.7 C1514.2 553.7 1526.4 558.7 1534.1 562.2 C1541.8 565.8 1543.5 566.5 1551.5 570 C1559.5 573.5 1570.8 578.9 1582.4 583.4 C1594 587.9 1609.7 593.3 1621 597 C1632.3 600.7 1641.6 603.4 1650 605.6 C1658.4 607.9 1664.7 609.4 1671.2 610.5 C1677.7 611.6 1686 612.1 1689 612.4 L1740 612.4 C1740 508.7 1860 93.7 1740 -10 C1620 -113.7 1140 -126 1020 -10 C900 106 1020 569.8 1020 685.8 Z" fill="#21549f" stroke="#08131c" stroke-width="1.35" stroke-linejoin="round" stroke-dasharray="12 2.2"/>
<path d="M1064 624 C1073 623.3 1102.5 621.6 1117.9 620 C1133.3 618.4 1143.7 616.8 1156.5 614.3 C1169.3 611.8 1183.8 607.9 1195 604.7 C1206.2 601.5 1214.3 599.2 1224 595 C1233.7 590.8 1243.3 585.4 1253 579.6 C1262.7 573.8 1272.3 567.7 1282 560.3 C1291.7 552.9 1302.3 544.5 1311 535.2 C1319.7 525.9 1327.4 514.9 1334.2 504.3 C1341 493.7 1346.5 481.9 1351.6 471.4 C1356.7 460.8 1361.1 450.6 1365 441 C1368.9 431.4 1372 422.6 1375 414 C1378 405.4 1380.3 397.7 1383 389.3 C1385.7 380.9 1388.2 372 1391 363.8 C1393.8 355.6 1396.7 347.3 1399.5 339.9 C1402.3 332.5 1405.2 325.1 1408 319.5 C1410.8 313.9 1413.8 310.5 1416.6 306.5 C1419.4 302.5 1423.6 297.4 1425 295.6 L1425 295.6 C1425.9 297.9 1428.8 302.8 1430.2 309.3 C1431.6 315.8 1432.8 326.3 1433.6 334.8 C1434.4 343.3 1434.7 351.9 1435.3 360.4 C1435.9 368.9 1435.9 377 1437 385.9 C1438.1 394.8 1440.2 405.3 1442 414 C1443.8 422.7 1445.5 429.7 1448 438 C1450.5 446.3 1453.5 455.3 1457.2 464 C1460.9 472.7 1465.2 482.7 1470 490 C1474.8 497.3 1480 502.1 1485.9 508 C1491.8 513.9 1497.2 519.7 1505.2 525.5 C1513.2 531.3 1524.4 537.8 1534.1 542.9 C1543.8 548 1553.4 552.2 1563.1 556.4 C1572.8 560.6 1582.3 564.1 1592 568 C1601.7 571.9 1611.3 575.7 1621 579.6 C1630.7 583.5 1641.6 588.3 1650 591.2 C1658.4 594.1 1664.7 595.4 1671.2 597 C1677.7 598.6 1686 600.2 1689 600.8 L1740 600.8 C1740 499 1860 91.8 1740 -10 C1620 -111.8 1140 -115.7 1020 -10 C900 95.7 1020 518.3 1020 624 Z" fill="#2e74b5" stroke="#08131c" stroke-width="1.35" stroke-linejoin="round" stroke-dasharray="12 2.2"/>
<path d="M1064 607.6 C1073 606.8 1102.5 604.5 1117.9 602.7 C1133.3 600.9 1143.7 599.6 1156.5 597 C1169.3 594.4 1183.1 590.5 1195 587.3 C1206.9 584.1 1218.3 581.1 1228 577.6 C1237.7 574.1 1244 571.1 1253 566 C1262 560.9 1273 553.8 1282 546.7 C1291 539.6 1299.3 532.3 1307 523.6 C1314.7 514.9 1322.3 504.6 1328.4 494.6 C1334.5 484.6 1339.4 474 1343.8 463.7 C1348.2 453.4 1351.8 443.1 1355 433 C1358.2 422.9 1360.3 412.3 1363 403 C1365.7 393.7 1368.3 385.9 1371 377.4 C1373.7 368.9 1376.2 360.9 1379 351.8 C1381.8 342.7 1384.7 332.6 1388 323 C1391.3 313.4 1394.6 304 1398.6 294.5 C1402.6 285 1406.9 275.9 1412 266 C1417.1 256.1 1423 245.1 1429 235 C1435 224.9 1442 214.4 1447.9 205.2 C1453.9 196 1459.1 187.7 1464.7 180 C1470.3 172.3 1475.6 165.4 1481.6 158.9 C1487.6 152.4 1497.3 144 1500.5 141 L1500.5 141 C1502.2 143.6 1509.6 150.3 1511 156.8 C1512.4 163.3 1510.3 171.9 1508.9 180 C1507.5 188.1 1504.7 196.8 1502.6 205.2 C1500.5 213.6 1498.8 222.8 1496.3 230.5 C1493.8 238.2 1490.4 244.5 1487.9 251.5 C1485.5 258.5 1483.7 265.6 1481.6 272.6 C1479.5 279.6 1477.7 285.9 1475.2 293.6 C1472.7 301.3 1469.2 309.8 1466.8 318.9 C1464.3 328 1462.1 338.6 1460.5 348.4 C1458.9 358.2 1457.3 368.7 1457 377.8 C1456.7 386.9 1457.6 395.4 1458.4 403 C1459.2 410.6 1460.4 416.3 1461.7 423.2 C1463 430.1 1463.8 437 1466.5 444.4 C1469.2 451.8 1473.6 459.9 1478.1 467.6 C1482.6 475.3 1487.8 483.4 1493.6 490.8 C1499.4 498.2 1506.2 505.9 1512.9 512 C1519.7 518.1 1525.7 522.2 1534.1 527.4 C1542.5 532.5 1553.4 538.1 1563.1 542.9 C1572.8 547.7 1582.3 552.2 1592 556.4 C1601.7 560.6 1611.3 564.5 1621 568 C1630.7 571.5 1641.6 575 1650 577.6 C1658.4 580.2 1664.7 582.1 1671.2 583.4 C1677.7 584.7 1686 585.1 1689 585.4 L1740 585.4 C1740 486.2 1860 89.2 1740 -10 C1620 -109.2 1140 -112.9 1020 -10 C900 92.9 1020 504.7 1020 607.6 Z" fill="#38aedb" stroke="#08131c" stroke-width="1.35" stroke-linejoin="round" stroke-dasharray="12 2.2"/>
<path d="M1064 593 C1073 592.2 1102.5 590 1117.9 588.3 C1133.3 586.5 1143.7 585.1 1156.5 582.5 C1169.3 579.9 1183.1 576.2 1195 572.8 C1206.9 569.4 1218.3 565.9 1228 562.2 C1237.7 558.5 1244 555.8 1253 550.6 C1262 545.5 1273.3 538.1 1282 531.3 C1290.7 524.5 1298.4 517.7 1305.2 510 C1312 502.3 1317.8 493.2 1322.6 485 C1327.4 476.8 1330.5 469.7 1334 461 C1337.5 452.3 1340.8 441.5 1343.8 433 C1346.8 424.5 1349.2 418.3 1352 410 C1354.8 401.7 1357.6 391.3 1360.4 383 C1363.2 374.7 1366 368.7 1368.9 360.4 C1371.8 352.1 1374.8 341.7 1378 333 C1381.2 324.3 1384.4 317 1388 308 C1391.6 299 1395.6 288.7 1399.5 279 C1403.4 269.3 1407.3 259.8 1411.5 249.6 C1415.7 239.4 1420 228.2 1424.7 218 C1429.4 207.8 1434.5 197.9 1439.4 188.4 C1444.3 178.9 1449.3 170.1 1454.2 161 C1459.1 151.9 1463.6 142.5 1468.9 133.7 C1474.2 124.9 1480.2 116.5 1485.8 108.4 C1491.4 100.3 1497 93.3 1502.6 85.2 C1508.2 77.1 1514.1 68.6 1519.4 60 C1524.7 51.4 1530.8 39.5 1534.2 33.5 C1537.6 27.5 1539 25.6 1540 24 L1020 -10 L1020 593 Z" fill="#6ebfc4" stroke="#08131c" stroke-width="1.35" stroke-linejoin="round" stroke-dasharray="12 2.2"/>
<path d="M1622.6 33.5 C1620.8 38.2 1615.5 52.7 1612 62 C1608.5 71.3 1605 80.4 1601.5 89.5 C1598 98.6 1594.5 107.7 1591 116.8 C1587.5 125.9 1584.4 135.1 1580.5 144.2 C1576.6 153.3 1572 162 1567.8 171.5 C1563.6 181 1558.3 192.9 1555.2 201 C1552.1 209.1 1551.4 212.3 1548.9 220 C1546.5 227.7 1543.3 237.8 1540.5 247.3 C1537.7 256.8 1534.3 267.7 1532 276.8 C1529.7 285.9 1527.1 295.7 1526.8 302 C1526.5 308.3 1528.2 311.3 1530 314.7 C1531.8 318.1 1532.8 321.1 1537.3 322.5 C1541.8 323.9 1550.8 323.7 1557.3 323.1 C1563.8 322.5 1569.8 320.4 1576.3 318.9 C1582.8 317.4 1592.7 314.8 1596 314 L1740 314 C1740 260 1759.6 44 1740 -10 C1720.4 -64 1642.2 -10 1622.6 -10 Z" fill="#6ebfc4" stroke="#08131c" stroke-width="1.35" stroke-linejoin="round" stroke-dasharray="12 2.2"/>
<path d="M1689 564 C1684.8 563 1671.6 560.8 1663.5 558.3 C1655.4 555.8 1649 552.2 1640.3 548.7 C1631.6 545.2 1621.1 541.2 1611.4 537 C1601.8 532.8 1592.1 528.1 1582.4 523.6 C1572.7 519.1 1562.1 514.5 1553.4 510 C1544.7 505.5 1537.4 502 1530.3 496.5 C1523.2 491 1516.5 483.6 1511 477.2 C1505.5 470.8 1501.3 464.3 1497.4 457.9 C1493.5 451.5 1490 445 1487.8 438.6 C1485.6 432.2 1484.3 424.6 1484 419.3 C1483.7 414 1484.7 411.4 1486 407 C1487.3 402.6 1489.6 398.2 1492 393 C1494.4 387.8 1499.1 378.6 1500.5 375.7 L1500.5 375.7 C1502.2 376.8 1508 379.5 1511 382 C1514 384.5 1516.7 385.9 1518.4 390.5 C1520.2 395.1 1520.6 402.8 1521.5 409.4 C1522.4 415.9 1522.7 424.4 1523.6 429.8 C1524.5 435.2 1526.4 440 1527 442 L1740 442 L1740 564 Z" fill="#6ebfc4" stroke="#08131c" stroke-width="1.35" stroke-linejoin="round" stroke-dasharray="12 2.2"/>
<path d="M1064 580.5 C1072.7 579.5 1100.6 576.6 1116 574.7 C1131.4 572.8 1143.3 571.4 1156.5 569 C1169.7 566.6 1183.1 563.5 1195 560.3 C1206.9 557.1 1218.3 553.3 1228 549.6 C1237.7 545.9 1244.6 542.7 1253 538 C1261.4 533.3 1270.5 527.6 1278.2 521.6 C1285.9 515.6 1293.3 509.1 1299.4 502.3 C1305.5 495.5 1310.4 488.4 1314.9 481 C1319.4 473.6 1323.2 465.5 1326.5 458 C1329.8 450.5 1332.2 443.8 1335 436 C1337.8 428.2 1340.5 420.2 1343.3 411.5 C1346.1 402.8 1348.9 392 1351.8 383.5 C1354.7 375 1357.5 368.8 1360.4 360.4 C1363.4 352 1366.1 342.4 1369.5 333 C1372.9 323.6 1377.2 313.5 1380.8 304 C1384.4 294.5 1387.3 285.1 1391 276 C1394.7 266.9 1399.3 258.6 1403 249.6 C1406.7 240.6 1409 231.2 1413 222 C1417 212.8 1422.4 203.8 1426.8 194.7 C1431.2 185.6 1434.8 176.8 1439.4 167.3 C1444 157.8 1449.8 147 1454.2 137.9 C1458.6 128.8 1460.9 121 1465.8 112.6 C1470.7 104.2 1478.2 95.8 1483.6 87.4 C1489 79 1493.8 71 1498.4 62 C1503 53 1508.2 39.8 1511 33.5 C1513.8 27.2 1514.3 25.6 1515 24 L1020 -10 L1020 580.5 Z" fill="#67b78e" stroke="#08131c" stroke-width="1.35" stroke-linejoin="round" stroke-dasharray="12 2.2"/>
<path d="M1530.3 441.5 C1530.8 443.6 1531.6 450 1533.2 454 C1534.8 458 1536.6 461.7 1540 465.6 C1543.4 469.5 1548 473.6 1553.4 477.2 C1558.9 480.8 1564.7 483 1572.7 486.9 C1580.8 490.8 1592 495.6 1601.7 500.4 C1611.4 505.2 1621.7 511.4 1630.7 515.9 C1639.7 520.4 1648.7 524.2 1655.8 527.4 C1662.9 530.6 1667.7 533.1 1673.2 535.2 C1678.7 537.3 1686.4 539.2 1689 540 L1740 540 L1740 442 Z" fill="#67b78e" stroke="#08131c" stroke-width="1.35" stroke-linejoin="round" stroke-dasharray="12 2.2"/>
<path d="M1064 568 C1073 567.2 1102.5 565 1117.9 563.2 C1133.3 561.4 1143.7 559.8 1156.5 557.4 C1169.3 555 1183.1 551.9 1195 548.7 C1206.9 545.5 1218.3 541.7 1228 538 C1237.7 534.3 1245 531.2 1253 526.5 C1261 521.8 1269.5 515.6 1276.3 510 C1283.1 504.4 1288.1 499.9 1293.6 492.7 C1299 485.4 1304.6 475.3 1309 466.5 C1313.4 457.7 1316.8 448.1 1320 440 C1323.2 431.9 1325.2 425.8 1328 418 C1330.8 410.2 1333.7 401.5 1336.5 393 C1339.3 384.5 1342.2 375 1345 367 C1347.8 359 1350.7 352.7 1353.5 345 C1356.3 337.3 1358.9 329.3 1362 321 C1365.1 312.7 1368.7 303.5 1372 295 C1375.3 286.5 1378.7 278.2 1382 270 C1385.3 261.8 1388.8 254.7 1392 246 C1395.2 237.3 1397.3 227.9 1401 218 C1404.7 208.1 1409.5 196.5 1414.2 186.3 C1418.9 176.1 1424 166.3 1428.9 156.8 C1433.8 147.3 1439.5 138.3 1443.7 129.5 C1447.9 120.7 1450.7 113.7 1454.2 104.2 C1457.7 94.7 1462.4 81 1464.7 72.6 C1467 64.2 1467.9 58.6 1467.9 53.7 C1468 48.9 1467.2 46.1 1465 43.5 C1462.8 40.9 1456.7 38.9 1455 38 L1440 30 C1370 30 1090 -59.7 1020 30 C950 119.7 1020 478.3 1020 568 Z" fill="#63b14f" stroke="#08131c" stroke-width="1.35" stroke-linejoin="round" stroke-dasharray="12 2.2"/>
<path d="M1588.2 443 C1589.5 444.2 1592.1 447.4 1596 450.2 C1599.9 453 1605.6 457 1611.4 459.9 C1617.2 462.8 1624.3 465.4 1630.7 467.6 C1637.1 469.9 1643.2 471.3 1650 473.4 C1656.8 475.5 1664.7 478.1 1671.2 480 C1677.7 481.9 1686 484.2 1689 485 L1740 485 L1740 442.8 Z" fill="#63b14f" stroke="#08131c" stroke-width="1.35" stroke-linejoin="round" stroke-dasharray="12 2.2"/>
<path d="M1064 557.4 C1073 556.6 1102.5 554.3 1117.9 552.5 C1133.3 550.7 1143.7 549.1 1156.5 546.7 C1169.3 544.3 1183.8 541 1195 538 C1206.2 535 1215 532.1 1224 528.4 C1233 524.7 1241.5 520.6 1249.2 515.9 C1257 511.2 1264.1 506.2 1270.5 500.4 C1276.9 494.6 1282.6 487.8 1287.8 481 C1293 474.2 1297.2 467.4 1301.4 459.9 C1305.6 452.4 1309.4 444 1313 436 C1316.6 428 1319.8 420.3 1323 412 C1326.2 403.7 1329.2 394.6 1332 386 C1334.8 377.4 1337.3 368.9 1340 360.4 C1342.7 351.9 1345.6 343.3 1348.4 334.8 C1351.2 326.3 1353.9 318.4 1357 309.3 C1360.1 300.2 1363.8 289.6 1367.2 280 C1370.6 270.4 1373.9 262 1377.4 251.5 C1380.9 241 1384.9 227.6 1388 217 C1391.1 206.4 1394.1 197.5 1396 188 C1397.9 178.5 1398.9 164.7 1399.5 160 L1370 150 C1311.7 150 1078.3 82.1 1020 150 C961.7 217.9 1020 489.5 1020 557.4 Z" fill="#6db436" stroke="#08131c" stroke-width="1.35" stroke-linejoin="round" stroke-dasharray="12 2.2"/>
<path d="M1064 541.9 C1073 541.2 1102.2 539.5 1117.9 538 C1133.7 536.5 1145.7 535.6 1158.5 533.2 C1171.3 530.8 1184.1 526.8 1195 523.6 C1205.9 520.4 1215.6 517.5 1224 514 C1232.4 510.4 1238.6 506.8 1245.4 502.3 C1252.2 497.8 1258.9 492.4 1264.7 486.9 C1270.5 481.4 1275.3 475.6 1280 469.5 C1284.7 463.4 1289 456.8 1293 450 C1297 443.2 1300.5 436.3 1304 428.5 C1307.5 420.7 1310.8 411.5 1314 403 C1317.2 394.5 1320.3 385.9 1322.9 377.4 C1325.5 368.9 1327.4 360.3 1329.7 351.8 C1332 343.3 1334.2 335.7 1336.5 326.3 C1338.8 316.9 1340.5 305.5 1343.3 295.6 C1346.1 285.7 1350.5 276.6 1353.5 266.7 C1356.5 256.8 1359.3 245.1 1361 236 C1362.7 226.9 1363.3 216 1363.8 212 L1340 205 C1286.7 205 1073.3 148.8 1020 205 C966.7 261.1 1020 485.8 1020 541.9 Z" fill="#74b531" stroke="#08131c" stroke-width="1.35" stroke-linejoin="round" stroke-dasharray="12 2.2"/>
<path d="M1064 525.5 C1073 524.9 1102.5 523.2 1117.9 521.6 C1133.3 520 1143.7 518.3 1156.5 515.9 C1169.3 513.5 1184.4 510.1 1195 507.2 C1205.6 504.3 1212.2 501.9 1220.3 498.5 C1228.4 495.1 1236.7 491.1 1243.4 486.9 C1250.2 482.7 1255.4 478.8 1260.8 473.4 C1266.2 468 1271.3 461.4 1276 454.5 C1280.7 447.6 1285.3 439.8 1289 432 C1292.7 424.2 1294.8 416.7 1298 408 C1301.2 399.3 1305.3 389.4 1308 380 C1310.7 370.6 1312.5 360.8 1314.4 351.8 C1316.3 342.9 1318.1 335.1 1319.5 326.3 C1320.9 317.5 1322.9 306.9 1322.9 299 C1322.9 291.1 1321.3 284.3 1319.5 278.6 C1317.7 272.9 1313.1 267.3 1311.8 265 L1290 260 C1245 260 1065 215.8 1020 260 C975 304.2 1020 481.2 1020 525.5 Z" fill="#81ba2e" stroke="#08131c" stroke-width="1.35" stroke-linejoin="round" stroke-dasharray="12 2.2"/>
<path d="M1064 457.9 C1079.4 458.2 1131.4 459.7 1156.5 459.9 C1181.6 460.1 1200.5 458.6 1214.5 458.9 C1228.5 459.2 1236.2 461.3 1240.5 461.8 L1240.5 461.8 C1240.7 462.1 1242.6 460.9 1241.5 463.5 C1240.4 466.1 1235.7 474.3 1233.8 477.2 C1231.9 480.1 1230.6 480.4 1229.9 481 L1229.9 481 C1227.3 481.7 1220.3 483.4 1214.5 485 C1208.7 486.6 1202.1 488.9 1195 490.8 C1187.9 492.7 1181.6 494.7 1172 496.5 C1162.4 498.3 1149.4 500.3 1137.2 501.4 C1125 502.5 1110.8 502.8 1098.6 503.3 C1086.4 503.8 1069.8 504.1 1064 504.3 L1020 504.3 L1020 457.9 Z" fill="#a6c937" stroke="#08131c" stroke-width="1.35" stroke-linejoin="round" stroke-dasharray="12 2.2"/>
<polygon points="1064,427 1219,427 1219.4,428.7 1064,428.7" fill="#1a4594"/>
<polygon points="1064,428.7 1219.4,428.7 1219.9,430.3 1064,430.3" fill="#21549f"/>
<polygon points="1064,430.3 1219.9,430.3 1220.3,432 1064,432" fill="#2e74b5"/>
<polygon points="1064,432 1220.3,432 1220.8,433.7 1064,433.7" fill="#38aedb"/>
<polygon points="1064,433.7 1220.8,433.7 1221.2,435.3 1064,435.3" fill="#6ebfc4"/>
<polygon points="1064,435.3 1221.2,435.3 1221.7,437 1064,437" fill="#67b78e"/>
<polygon points="1064,437 1221.7,437 1222.1,438.7 1064,438.7" fill="#63b14f"/>
<polygon points="1064,438.7 1222.1,438.7 1222.6,440.3 1064,440.3" fill="#6db436"/>
<polygon points="1064,440.3 1222.6,440.3 1223,442 1064,442" fill="#74b531"/>
<polyline points="1064,428.7 1219.4,428.7" fill="none" stroke="#0b1a26" stroke-width="0.7" stroke-opacity="0.85"/>
<polyline points="1064,430.3 1219.9,430.3" fill="none" stroke="#0b1a26" stroke-width="0.7" stroke-opacity="0.85"/>
<polyline points="1064,432 1220.3,432" fill="none" stroke="#0b1a26" stroke-width="0.7" stroke-opacity="0.85"/>
<polyline points="1064,433.7 1220.8,433.7" fill="none" stroke="#0b1a26" stroke-width="0.7" stroke-opacity="0.85"/>
<polyline points="1064,435.3 1221.2,435.3" fill="none" stroke="#0b1a26" stroke-width="0.7" stroke-opacity="0.85"/>
<polyline points="1064,437 1221.7,437" fill="none" stroke="#0b1a26" stroke-width="0.7" stroke-opacity="0.85"/>
<polyline points="1064,438.7 1222.1,438.7" fill="none" stroke="#0b1a26" stroke-width="0.7" stroke-opacity="0.85"/>
<polyline points="1064,440.3 1222.6,440.3" fill="none" stroke="#0b1a26" stroke-width="0.7" stroke-opacity="0.85"/>
<polyline points="1064,442 1223,442" fill="none" stroke="#0b1a26" stroke-width="0.7" stroke-opacity="0.85"/>
<polygon points="1221.5,425 1229,411.6 1238.1,395.3 1245.5,381.9 1254.7,365.5 1262.1,352.2 1271.2,335.8 1278.7,322.4 1287.8,306.1 1295.3,292.7 1304.4,276.3 1311.8,263 1321,246.6 1328.4,233.2 1337.5,216.9 1345,203.5 1354.1,187.2 1361.6,173.8 1370.7,157.4 1378.2,144 1387.3,127.7 1394.7,114.3 1403.8,98 1411.3,84.6 1420.4,68.2 1427.9,54.9 1437,38.5 1437,38.5 1438.8,39.5 1437.8,38.9 1429.7,55.8 1421.2,68.7 1413.1,85.6 1404.7,98.4 1396.6,115.3 1388.1,128.2 1380,145.1 1371.6,157.9 1363.5,174.8 1355,187.6 1346.9,204.6 1338.5,217.4 1330.4,234.3 1321.9,247.1 1313.8,264.1 1305.4,276.9 1297.3,293.8 1288.8,306.6 1280.7,323.6 1272.3,336.4 1264.2,353.3 1255.7,366.1 1247.6,383.1 1239.2,395.9 1231.1,412.8 1222.6,425.6" fill="#1a4594"/>
<polygon points="1222.6,425.6 1231.1,412.8 1239.2,395.9 1247.6,383.1 1255.7,366.1 1264.2,353.3 1272.3,336.4 1280.7,323.6 1288.8,306.6 1297.3,293.8 1305.4,276.9 1313.8,264.1 1321.9,247.1 1330.4,234.3 1338.5,217.4 1346.9,204.6 1355,187.6 1363.5,174.8 1371.6,157.9 1380,145.1 1388.1,128.2 1396.6,115.3 1404.7,98.4 1413.1,85.6 1421.2,68.7 1429.7,55.8 1437.8,38.9 1438.8,39.5 1440.5,40.4 1438.5,39.3 1431.4,56.8 1422,69.1 1414.9,86.6 1405.5,98.9 1398.4,116.3 1388.9,128.6 1381.9,146.1 1372.4,158.4 1365.4,175.9 1355.9,188.1 1348.8,205.6 1339.4,217.9 1332.3,235.4 1322.9,247.7 1315.8,265.2 1306.3,277.4 1299.3,294.9 1289.8,307.2 1282.8,324.7 1273.3,337 1266.2,354.5 1256.8,366.7 1249.7,384.2 1240.3,396.5 1233.2,414 1223.8,426.2" fill="#21549f"/>
<polygon points="1223.8,426.2 1233.2,414 1240.3,396.5 1249.7,384.2 1256.8,366.7 1266.2,354.5 1273.3,337 1282.8,324.7 1289.8,307.2 1299.3,294.9 1306.3,277.4 1315.8,265.2 1322.9,247.7 1332.3,235.4 1339.4,217.9 1348.8,205.6 1355.9,188.1 1365.4,175.9 1372.4,158.4 1381.9,146.1 1388.9,128.6 1398.4,116.3 1405.5,98.9 1414.9,86.6 1422,69.1 1431.4,56.8 1438.5,39.3 1440.5,40.4 1442.2,41.4 1439.2,39.7 1433.2,57.8 1422.8,69.5 1416.7,87.6 1406.3,99.3 1400.2,117.4 1389.8,129.1 1383.7,147.1 1373.3,158.9 1367.3,176.9 1356.8,188.6 1350.8,206.7 1340.3,218.4 1334.3,236.5 1323.8,248.2 1317.8,266.3 1307.3,278 1301.3,296 1290.8,307.8 1284.8,325.8 1274.3,337.5 1268.3,355.6 1257.9,367.3 1251.8,385.4 1241.4,397.1 1235.3,415.2 1224.9,426.9" fill="#2e74b5"/>
<polygon points="1224.9,426.9 1235.3,415.2 1241.4,397.1 1251.8,385.4 1257.9,367.3 1268.3,355.6 1274.3,337.5 1284.8,325.8 1290.8,307.8 1301.3,296 1307.3,278 1317.8,266.3 1323.8,248.2 1334.3,236.5 1340.3,218.4 1350.8,206.7 1356.8,188.6 1367.3,176.9 1373.3,158.9 1383.7,147.1 1389.8,129.1 1400.2,117.4 1406.3,99.3 1416.7,87.6 1422.8,69.5 1433.2,57.8 1439.2,39.7 1442.2,41.4 1444,42.4 1440,40.2 1435,58.8 1423.5,70 1418.5,88.6 1407.1,99.8 1402.1,118.4 1390.6,129.5 1385.6,148.2 1374.2,159.3 1369.2,178 1357.7,189.1 1352.7,207.8 1341.2,218.9 1336.2,237.6 1324.8,248.7 1319.8,267.4 1308.3,278.5 1303.3,297.2 1291.8,308.3 1286.8,326.9 1275.4,338.1 1270.4,356.7 1258.9,367.9 1253.9,386.5 1242.5,397.7 1237.5,416.3 1226,427.5" fill="#38aedb"/>
<polygon points="1226,427.5 1237.5,416.3 1242.5,397.7 1253.9,386.5 1258.9,367.9 1270.4,356.7 1275.4,338.1 1286.8,326.9 1291.8,308.3 1303.3,297.2 1308.3,278.5 1319.8,267.4 1324.8,248.7 1336.2,237.6 1341.2,218.9 1352.7,207.8 1357.7,189.1 1369.2,178 1374.2,159.3 1385.6,148.2 1390.6,129.5 1402.1,118.4 1407.1,99.8 1418.5,88.6 1423.5,70 1435,58.8 1440,40.2 1444,42.4 1445.8,43.4 1440.8,40.6 1436.8,59.8 1424.3,70.4 1420.3,89.6 1407.9,100.2 1403.9,119.4 1391.5,130 1387.5,149.2 1375,159.8 1371,179 1358.6,189.6 1354.6,208.8 1342.2,219.4 1338.2,238.6 1325.7,249.3 1321.7,268.5 1309.3,279.1 1305.3,298.3 1292.9,308.9 1288.9,328.1 1276.4,338.7 1272.4,357.9 1260,368.5 1256,387.7 1243.6,398.3 1239.6,417.5 1227.1,428.1" fill="#6ebfc4"/>
<polygon points="1227.1,428.1 1239.6,417.5 1243.6,398.3 1256,387.7 1260,368.5 1272.4,357.9 1276.4,338.7 1288.9,328.1 1292.9,308.9 1305.3,298.3 1309.3,279.1 1321.7,268.5 1325.7,249.3 1338.2,238.6 1342.2,219.4 1354.6,208.8 1358.6,189.6 1371,179 1375,159.8 1387.5,149.2 1391.5,130 1403.9,119.4 1407.9,100.2 1420.3,89.6 1424.3,70.4 1436.8,59.8 1440.8,40.6 1445.8,43.4 1447.5,44.3 1441.5,41 1438.6,60.8 1425.1,70.8 1422.2,90.6 1408.7,100.6 1405.7,120.4 1392.3,130.5 1389.3,150.2 1375.9,160.3 1372.9,180.1 1359.5,190.1 1356.5,209.9 1343.1,220 1340.1,239.7 1326.7,249.8 1323.7,269.6 1310.3,279.6 1307.3,299.4 1293.9,309.4 1290.9,329.2 1277.5,339.3 1274.5,359 1261.1,369.1 1258.1,388.9 1244.7,398.9 1241.7,418.7 1228.2,428.7" fill="#67b78e"/>
<polygon points="1228.2,428.7 1241.7,418.7 1244.7,398.9 1258.1,388.9 1261.1,369.1 1274.5,359 1277.5,339.3 1290.9,329.2 1293.9,309.4 1307.3,299.4 1310.3,279.6 1323.7,269.6 1326.7,249.8 1340.1,239.7 1343.1,220 1356.5,209.9 1359.5,190.1 1372.9,180.1 1375.9,160.3 1389.3,150.2 1392.3,130.5 1405.7,120.4 1408.7,100.6 1422.2,90.6 1425.1,70.8 1438.6,60.8 1441.5,41 1447.5,44.3 1449.2,45.3 1442.2,41.4 1440.3,61.8 1425.9,71.3 1424,91.6 1409.5,101.1 1407.6,121.4 1393.1,130.9 1391.2,151.3 1376.8,160.8 1374.8,181.1 1360.4,190.6 1358.5,211 1344,220.5 1342.1,240.8 1327.6,250.3 1325.7,270.7 1311.2,280.2 1309.3,300.5 1294.9,310 1293,330.3 1278.5,339.8 1276.6,360.2 1262.1,369.7 1260.2,390 1245.8,399.5 1243.8,419.9 1229.4,429.4" fill="#63b14f"/>
<polyline points="1222.6,425.6 1231.1,412.8 1239.2,395.9 1247.6,383.1 1255.7,366.1 1264.2,353.3 1272.3,336.4 1280.7,323.6 1288.8,306.6 1297.3,293.8 1305.4,276.9 1313.8,264.1 1321.9,247.1 1330.4,234.3 1338.5,217.4 1346.9,204.6 1355,187.6 1363.5,174.8 1371.6,157.9 1380,145.1 1388.1,128.2 1396.6,115.3 1404.7,98.4 1413.1,85.6 1421.2,68.7 1429.7,55.8 1437.8,38.9 1438.8,39.5" fill="none" stroke="#0b1a26" stroke-width="0.7" stroke-opacity="0.85"/>
<polyline points="1223.8,426.2 1233.2,414 1240.3,396.5 1249.7,384.2 1256.8,366.7 1266.2,354.5 1273.3,337 1282.8,324.7 1289.8,307.2 1299.3,294.9 1306.3,277.4 1315.8,265.2 1322.9,247.7 1332.3,235.4 1339.4,217.9 1348.8,205.6 1355.9,188.1 1365.4,175.9 1372.4,158.4 1381.9,146.1 1388.9,128.6 1398.4,116.3 1405.5,98.9 1414.9,86.6 1422,69.1 1431.4,56.8 1438.5,39.3 1440.5,40.4" fill="none" stroke="#0b1a26" stroke-width="0.7" stroke-opacity="0.85"/>
<polyline points="1224.9,426.9 1235.3,415.2 1241.4,397.1 1251.8,385.4 1257.9,367.3 1268.3,355.6 1274.3,337.5 1284.8,325.8 1290.8,307.8 1301.3,296 1307.3,278 1317.8,266.3 1323.8,248.2 1334.3,236.5 1340.3,218.4 1350.8,206.7 1356.8,188.6 1367.3,176.9 1373.3,158.9 1383.7,147.1 1389.8,129.1 1400.2,117.4 1406.3,99.3 1416.7,87.6 1422.8,69.5 1433.2,57.8 1439.2,39.7 1442.2,41.4" fill="none" stroke="#0b1a26" stroke-width="0.7" stroke-opacity="0.85"/>
<polyline points="1226,427.5 1237.5,416.3 1242.5,397.7 1253.9,386.5 1258.9,367.9 1270.4,356.7 1275.4,338.1 1286.8,326.9 1291.8,308.3 1303.3,297.2 1308.3,278.5 1319.8,267.4 1324.8,248.7 1336.2,237.6 1341.2,218.9 1352.7,207.8 1357.7,189.1 1369.2,178 1374.2,159.3 1385.6,148.2 1390.6,129.5 1402.1,118.4 1407.1,99.8 1418.5,88.6 1423.5,70 1435,58.8 1440,40.2 1444,42.4" fill="none" stroke="#0b1a26" stroke-width="0.7" stroke-opacity="0.85"/>
<polyline points="1227.1,428.1 1239.6,417.5 1243.6,398.3 1256,387.7 1260,368.5 1272.4,357.9 1276.4,338.7 1288.9,328.1 1292.9,308.9 1305.3,298.3 1309.3,279.1 1321.7,268.5 1325.7,249.3 1338.2,238.6 1342.2,219.4 1354.6,208.8 1358.6,189.6 1371,179 1375,159.8 1387.5,149.2 1391.5,130 1403.9,119.4 1407.9,100.2 1420.3,89.6 1424.3,70.4 1436.8,59.8 1440.8,40.6 1445.8,43.4" fill="none" stroke="#0b1a26" stroke-width="0.7" stroke-opacity="0.85"/>
<polyline points="1228.2,428.7 1241.7,418.7 1244.7,398.9 1258.1,388.9 1261.1,369.1 1274.5,359 1277.5,339.3 1290.9,329.2 1293.9,309.4 1307.3,299.4 1310.3,279.6 1323.7,269.6 1326.7,249.8 1340.1,239.7 1343.1,220 1356.5,209.9 1359.5,190.1 1372.9,180.1 1375.9,160.3 1389.3,150.2 1392.3,130.5 1405.7,120.4 1408.7,100.6 1422.2,90.6 1425.1,70.8 1438.6,60.8 1441.5,41 1447.5,44.3" fill="none" stroke="#0b1a26" stroke-width="0.7" stroke-opacity="0.85"/>
<polyline points="1229.4,429.4 1243.8,419.9 1245.8,399.5 1260.2,390 1262.1,369.7 1276.6,360.2 1278.5,339.8 1293,330.3 1294.9,310 1309.3,300.5 1311.2,280.2 1325.7,270.7 1327.6,250.3 1342.1,240.8 1344,220.5 1358.5,211 1360.4,190.6 1374.8,181.1 1376.8,160.8 1391.2,151.3 1393.1,130.9 1407.6,121.4 1409.5,101.1 1424,91.6 1425.9,71.3 1440.3,61.8 1442.2,41.4 1449.2,45.3" fill="none" stroke="#0b1a26" stroke-width="0.7" stroke-opacity="0.85"/>
<polygon points="1531.5,420.5 1539.2,406.5 1548.7,389.3 1556.4,375.3 1565.9,358.1 1573.6,344.1 1583.1,326.9 1590.8,312.9 1600.3,295.7 1608,281.7 1617.5,264.5 1625.2,250.5 1634.7,233.3 1642.4,219.3 1651.9,202.1 1659.6,188.1 1669.1,170.9 1676.8,156.9 1686.3,139.7 1686.3,139.7 1682.8,137.8 1684.5,138.7 1673.4,154.9 1667.4,169.9 1656.2,186.2 1650.2,201.2 1639,217.4 1633,232.4 1621.8,248.6 1615.8,263.6 1604.7,279.8 1598.7,294.8 1587.5,311 1581.5,326 1570.3,342.2 1564.3,357.2 1553.1,373.4 1547.1,388.4 1536,404.7 1530,419.7" fill="#1a4594"/>
<polygon points="1530,419.7 1536,404.7 1547.1,388.4 1553.1,373.4 1564.3,357.2 1570.3,342.2 1581.5,326 1587.5,311 1598.7,294.8 1604.7,279.8 1615.8,263.6 1621.8,248.6 1633,232.4 1639,217.4 1650.2,201.2 1656.2,186.2 1667.4,169.9 1673.4,154.9 1684.5,138.7 1682.8,137.8 1679.3,135.8 1682.8,137.8 1669.9,153 1665.6,169 1652.7,184.3 1648.5,200.2 1635.6,215.5 1631.3,231.5 1618.4,246.7 1614.2,262.7 1601.3,277.9 1597,293.9 1584.1,309.2 1579.9,325.1 1567,340.4 1562.7,356.4 1549.8,371.6 1545.6,387.6 1532.7,402.8 1528.4,418.8" fill="#21549f"/>
<polygon points="1528.4,418.8 1532.7,402.8 1545.6,387.6 1549.8,371.6 1562.7,356.4 1567,340.4 1579.9,325.1 1584.1,309.2 1597,293.9 1601.3,277.9 1614.2,262.7 1618.4,246.7 1631.3,231.5 1635.6,215.5 1648.5,200.2 1652.7,184.3 1665.6,169 1669.9,153 1682.8,137.8 1679.3,135.8 1675.8,133.9 1681,136.8 1666.4,151.1 1663.9,168 1649.3,182.4 1646.8,199.3 1632.1,213.6 1629.7,230.5 1615,244.8 1612.5,261.8 1597.9,276.1 1595.4,293 1580.8,307.3 1578.3,324.2 1563.6,338.6 1561.2,355.5 1546.5,369.8 1544,386.7 1529.4,401 1526.9,418" fill="#2e74b5"/>
<polygon points="1526.9,418 1529.4,401 1544,386.7 1546.5,369.8 1561.2,355.5 1563.6,338.6 1578.3,324.2 1580.8,307.3 1595.4,293 1597.9,276.1 1612.5,261.8 1615,244.8 1629.7,230.5 1632.1,213.6 1646.8,199.3 1649.3,182.4 1663.9,168 1666.4,151.1 1681,136.8 1675.8,133.9 1672.3,132 1679.3,135.8 1662.9,149.2 1662.2,167.1 1645.8,180.5 1645.1,198.4 1628.7,211.7 1628,229.6 1611.6,243 1610.9,260.9 1594.5,274.2 1593.8,292.1 1577.4,305.5 1576.7,323.4 1560.3,336.7 1559.6,354.6 1543.2,368 1542.5,385.9 1526.1,399.2 1525.4,417.1" fill="#38aedb"/>
<polyline points="1530,419.7 1536,404.7 1547.1,388.4 1553.1,373.4 1564.3,357.2 1570.3,342.2 1581.5,326 1587.5,311 1598.7,294.8 1604.7,279.8 1615.8,263.6 1621.8,248.6 1633,232.4 1639,217.4 1650.2,201.2 1656.2,186.2 1667.4,169.9 1673.4,154.9 1684.5,138.7 1682.8,137.8" fill="none" stroke="#0b1a26" stroke-width="0.7" stroke-opacity="0.85"/>
<polyline points="1528.4,418.8 1532.7,402.8 1545.6,387.6 1549.8,371.6 1562.7,356.4 1567,340.4 1579.9,325.1 1584.1,309.2 1597,293.9 1601.3,277.9 1614.2,262.7 1618.4,246.7 1631.3,231.5 1635.6,215.5 1648.5,200.2 1652.7,184.3 1665.6,169 1669.9,153 1682.8,137.8 1679.3,135.8" fill="none" stroke="#0b1a26" stroke-width="0.7" stroke-opacity="0.85"/>
<polyline points="1526.9,418 1529.4,401 1544,386.7 1546.5,369.8 1561.2,355.5 1563.6,338.6 1578.3,324.2 1580.8,307.3 1595.4,293 1597.9,276.1 1612.5,261.8 1615,244.8 1629.7,230.5 1632.1,213.6 1646.8,199.3 1649.3,182.4 1663.9,168 1666.4,151.1 1681,136.8 1675.8,133.9" fill="none" stroke="#0b1a26" stroke-width="0.7" stroke-opacity="0.85"/>
<polyline points="1525.4,417.1 1526.1,399.2 1542.5,385.9 1543.2,368 1559.6,354.6 1560.3,336.7 1576.7,323.4 1577.4,305.5 1593.8,292.1 1594.5,274.2 1610.9,260.9 1611.6,243 1628,229.6 1628.7,211.7 1645.1,198.4 1645.8,180.5 1662.2,167.1 1662.9,149.2 1679.3,135.8 1672.3,132" fill="none" stroke="#0b1a26" stroke-width="0.7" stroke-opacity="0.85"/>
<polygon points="1532,421 1528.5,425 1533,428.5 1689,428.5 1689,431.3 1531.8,431.2 1526.6,426 1529.8,420" fill="#1a4594"/>
<polygon points="1529.8,420 1526.6,426 1531.8,431.2 1689,431.3 1689,434.1 1530.6,433.9 1524.7,427 1527.6,419" fill="#21549f"/>
<polygon points="1527.6,419 1524.7,427 1530.6,433.9 1689,434.1 1689,436.9 1529.4,436.6 1522.8,428 1525.4,418" fill="#2e74b5"/>
<polygon points="1525.4,418 1522.8,428 1529.4,436.6 1689,436.9 1689,439.7 1528.2,439.3 1520.9,429 1523.2,417" fill="#38aedb"/>
<polygon points="1523.2,417 1520.9,429 1528.2,439.3 1689,439.7 1689,442.5 1527,442 1519,430 1521,416" fill="#6ebfc4"/>
<polyline points="1529.8,420 1526.6,426 1531.8,431.2 1689,431.3" fill="none" stroke="#0b1a26" stroke-width="0.7" stroke-opacity="0.85"/>
<polyline points="1527.6,419 1524.7,427 1530.6,433.9 1689,434.1" fill="none" stroke="#0b1a26" stroke-width="0.7" stroke-opacity="0.85"/>
<polyline points="1525.4,418 1522.8,428 1529.4,436.6 1689,436.9" fill="none" stroke="#0b1a26" stroke-width="0.7" stroke-opacity="0.85"/>
<polyline points="1523.2,417 1520.9,429 1528.2,439.3 1689,439.7" fill="none" stroke="#0b1a26" stroke-width="0.7" stroke-opacity="0.85"/>
<polyline points="1521,416 1519,430 1527,442 1689,442.5" fill="none" stroke="#0b1a26" stroke-width="0.7" stroke-opacity="0.85"/>
<polygon points="1060,30 1436.5,30 1216,422 1060,422" fill="#1a4594"/>
<polygon points="1536,423 1694,139 1694,423" fill="#1a4594"/>
<g transform="translate(1454.2 40) rotate(-60)"><rect x="-11.9" y="-7.3" width="23.8" height="14.6" fill="#fff"/><text transform="scale(1.2 1)" x="0" y="5.3" text-anchor="middle" font-family='"Liberation Sans", sans-serif' font-size="14.8" fill="#000" stroke="#000" stroke-width="0.25">45</text></g>
<g transform="translate(1436 47) rotate(-62)"><rect x="-11.9" y="-7.3" width="23.8" height="14.6" fill="#fff"/><text transform="scale(1.2 1)" x="0" y="5.3" text-anchor="middle" font-family='"Liberation Sans", sans-serif' font-size="14.8" fill="#000" stroke="#000" stroke-width="0.25">50</text></g>
<g transform="translate(1418.4 79) rotate(-72)"><rect x="-11.9" y="-7.3" width="23.8" height="14.6" fill="#fff"/><text transform="scale(1.2 1)" x="0" y="5.3" text-anchor="middle" font-family='"Liberation Sans", sans-serif' font-size="14.8" fill="#000" stroke="#000" stroke-width="0.25">35</text></g>
<g transform="translate(1465.8 112.6) rotate(-60)"><rect x="-11.9" y="-7.3" width="23.8" height="14.6" fill="#fff"/><text transform="scale(1.2 1)" x="0" y="5.3" text-anchor="middle" font-family='"Liberation Sans", sans-serif' font-size="14.8" fill="#000" stroke="#000" stroke-width="0.25">45</text></g>
<g transform="translate(1386.8 150.5) rotate(-85)"><rect x="-11.9" y="-7.3" width="23.8" height="14.6" fill="#fff"/><text transform="scale(1.2 1)" x="0" y="5.3" text-anchor="middle" font-family='"Liberation Sans", sans-serif' font-size="14.8" fill="#000" stroke="#000" stroke-width="0.25">55</text></g>
<g transform="translate(1414.2 186.3) rotate(-65)"><rect x="-11.9" y="-7.3" width="23.8" height="14.6" fill="#fff"/><text transform="scale(1.2 1)" x="0" y="5.3" text-anchor="middle" font-family='"Liberation Sans", sans-serif' font-size="14.8" fill="#000" stroke="#000" stroke-width="0.25">50</text></g>
<g transform="translate(1439.5 187.3) rotate(-65)"><rect x="-11.9" y="-7.3" width="23.8" height="14.6" fill="#fff"/><text transform="scale(1.2 1)" x="0" y="5.3" text-anchor="middle" font-family='"Liberation Sans", sans-serif' font-size="14.8" fill="#000" stroke="#000" stroke-width="0.25">40</text></g>
<g transform="translate(1498.4 207.3) rotate(-80)"><rect x="-11.9" y="-7.3" width="23.8" height="14.6" fill="#fff"/><text transform="scale(1.2 1)" x="0" y="5.3" text-anchor="middle" font-family='"Liberation Sans", sans-serif' font-size="14.8" fill="#000" stroke="#000" stroke-width="0.25">35</text></g>
<g transform="translate(1550 220) rotate(-70)"><rect x="-11.9" y="-7.3" width="23.8" height="14.6" fill="#fff"/><text transform="scale(1.2 1)" x="0" y="5.3" text-anchor="middle" font-family='"Liberation Sans", sans-serif' font-size="14.8" fill="#000" stroke="#000" stroke-width="0.25">40</text></g>
<g transform="translate(1641.5 188.4) rotate(-50)"><rect x="-11.9" y="-7.3" width="23.8" height="14.6" fill="#fff"/><text transform="scale(1.2 1)" x="0" y="5.3" text-anchor="middle" font-family='"Liberation Sans", sans-serif' font-size="14.8" fill="#000" stroke="#000" stroke-width="0.25">40</text></g>
<g transform="translate(1338.3 311) rotate(-80)"><rect x="-11.9" y="-7.3" width="23.8" height="14.6" fill="#fff"/><text transform="scale(1.2 1)" x="0" y="5.3" text-anchor="middle" font-family='"Liberation Sans", sans-serif' font-size="14.8" fill="#000" stroke="#000" stroke-width="0.25">60</text></g>
<g transform="translate(1385.8 330.5) rotate(-70)"><rect x="-11.9" y="-7.3" width="23.8" height="14.6" fill="#fff"/><text transform="scale(1.2 1)" x="0" y="5.3" text-anchor="middle" font-family='"Liberation Sans", sans-serif' font-size="14.8" fill="#000" stroke="#000" stroke-width="0.25">35</text></g>
<g transform="translate(1348.2 382.3) rotate(-72)"><rect x="-11.9" y="-7.3" width="23.8" height="14.6" fill="#fff"/><text transform="scale(1.2 1)" x="0" y="5.3" text-anchor="middle" font-family='"Liberation Sans", sans-serif' font-size="14.8" fill="#000" stroke="#000" stroke-width="0.25">45</text></g>
<g transform="translate(1439.5 400) rotate(85)"><rect x="-11.9" y="-7.3" width="23.8" height="14.6" fill="#fff"/><text transform="scale(1.2 1)" x="0" y="5.3" text-anchor="middle" font-family='"Liberation Sans", sans-serif' font-size="14.8" fill="#000" stroke="#000" stroke-width="0.25">30</text></g>
<g transform="translate(1560.5 339.9) rotate(-55)"><rect x="-11.9" y="-7.3" width="23.8" height="14.6" fill="#fff"/><text transform="scale(1.2 1)" x="0" y="5.3" text-anchor="middle" font-family='"Liberation Sans", sans-serif' font-size="14.8" fill="#000" stroke="#000" stroke-width="0.25">30</text></g>
<g transform="translate(1540.5 361) rotate(-85)"><rect x="-11.9" y="-7.3" width="23.8" height="14.6" fill="#fff"/><text transform="scale(1.2 1)" x="0" y="5.3" text-anchor="middle" font-family='"Liberation Sans", sans-serif' font-size="14.8" fill="#000" stroke="#000" stroke-width="0.25">35</text></g>
<g transform="translate(1598.4 289.4) rotate(-60)"><rect x="-11.9" y="-7.3" width="23.8" height="14.6" fill="#fff"/><text transform="scale(1.2 1)" x="0" y="5.3" text-anchor="middle" font-family='"Liberation Sans", sans-serif' font-size="14.8" fill="#000" stroke="#000" stroke-width="0.25">25</text></g>
<g transform="translate(1293 309.3) rotate(-88)"><rect x="-11.9" y="-7.3" width="23.8" height="14.6" fill="#fff"/><text transform="scale(1.2 1)" x="0" y="5.3" text-anchor="middle" font-family='"Liberation Sans", sans-serif' font-size="14.8" fill="#000" stroke="#000" stroke-width="0.25">65</text></g>
<g transform="translate(1265 362) rotate(-55)"><rect x="-11.9" y="-7.3" width="23.8" height="14.6" fill="#fff"/><text transform="scale(1.2 1)" x="0" y="5.3" text-anchor="middle" font-family='"Liberation Sans", sans-serif' font-size="14.8" fill="#000" stroke="#000" stroke-width="0.25">60</text></g>
<g transform="translate(1244.5 397) rotate(-60)"><rect x="-11.9" y="-7.3" width="23.8" height="14.6" fill="#fff"/><text transform="scale(1.2 1)" x="0" y="5.3" text-anchor="middle" font-family='"Liberation Sans", sans-serif' font-size="14.8" fill="#000" stroke="#000" stroke-width="0.25">55</text></g>
<g transform="translate(1321 416) rotate(-78)"><rect x="-11.9" y="-7.3" width="23.8" height="14.6" fill="#fff"/><text transform="scale(1.2 1)" x="0" y="5.3" text-anchor="middle" font-family='"Liberation Sans", sans-serif' font-size="14.8" fill="#000" stroke="#000" stroke-width="0.25">55</text></g>
<g transform="translate(1309.6 459.5) rotate(-60)"><rect x="-11.9" y="-7.3" width="23.8" height="14.6" fill="#fff"/><text transform="scale(1.2 1)" x="0" y="5.3" text-anchor="middle" font-family='"Liberation Sans", sans-serif' font-size="14.8" fill="#000" stroke="#000" stroke-width="0.25">50</text></g>
<g transform="translate(1329 458.5) rotate(-60)"><rect x="-11.9" y="-7.3" width="23.8" height="14.6" fill="#fff"/><text transform="scale(1.2 1)" x="0" y="5.3" text-anchor="middle" font-family='"Liberation Sans", sans-serif' font-size="14.8" fill="#000" stroke="#000" stroke-width="0.25">40</text></g>
<g transform="translate(1352.7 469.4) rotate(-60)"><rect x="-11.9" y="-7.3" width="23.8" height="14.6" fill="#fff"/><text transform="scale(1.2 1)" x="0" y="5.3" text-anchor="middle" font-family='"Liberation Sans", sans-serif' font-size="14.8" fill="#000" stroke="#000" stroke-width="0.25">30</text></g>
<g transform="translate(1378 474.5) rotate(-58)"><rect x="-11.9" y="-7.3" width="23.8" height="14.6" fill="#fff"/><text transform="scale(1.2 1)" x="0" y="5.3" text-anchor="middle" font-family='"Liberation Sans", sans-serif' font-size="14.8" fill="#000" stroke="#000" stroke-width="0.25">25</text></g>
<g transform="translate(1246.6 488.9) rotate(-30)"><rect x="-11.9" y="-7.3" width="23.8" height="14.6" fill="#fff"/><text transform="scale(1.2 1)" x="0" y="5.3" text-anchor="middle" font-family='"Liberation Sans", sans-serif' font-size="14.8" fill="#000" stroke="#000" stroke-width="0.25">65</text></g>
<g transform="translate(1078.3 434.8) rotate(0)"><rect x="-11.9" y="-7.3" width="23.8" height="14.6" fill="#fff"/><text transform="scale(1.2 1)" x="0" y="5.3" text-anchor="middle" font-family='"Liberation Sans", sans-serif' font-size="14.8" fill="#000" stroke="#000" stroke-width="0.25">45</text></g>
<g transform="translate(1191.3 429) rotate(0)"><rect x="-11.9" y="-7.3" width="23.8" height="14.6" fill="#fff"/><text transform="scale(1.2 1)" x="0" y="5.3" text-anchor="middle" font-family='"Liberation Sans", sans-serif' font-size="14.8" fill="#000" stroke="#000" stroke-width="0.25">25</text></g>
<g transform="translate(1172 493.6) rotate(-12)"><rect x="-11.9" y="-7.3" width="23.8" height="14.6" fill="#fff"/><text transform="scale(1.2 1)" x="0" y="5.3" text-anchor="middle" font-family='"Liberation Sans", sans-serif' font-size="14.8" fill="#000" stroke="#000" stroke-width="0.25">70</text></g>
<g transform="translate(1159.4 532.3) rotate(-8)"><rect x="-11.9" y="-7.3" width="23.8" height="14.6" fill="#fff"/><text transform="scale(1.2 1)" x="0" y="5.3" text-anchor="middle" font-family='"Liberation Sans", sans-serif' font-size="14.8" fill="#000" stroke="#000" stroke-width="0.25">60</text></g>
<g transform="translate(1116 574.7) rotate(-5)"><rect x="-11.9" y="-7.3" width="23.8" height="14.6" fill="#fff"/><text transform="scale(1.2 1)" x="0" y="5.3" text-anchor="middle" font-family='"Liberation Sans", sans-serif' font-size="14.8" fill="#000" stroke="#000" stroke-width="0.25">45</text></g>
<g transform="translate(1229 576.7) rotate(-20)"><rect x="-11.9" y="-7.3" width="23.8" height="14.6" fill="#fff"/><text transform="scale(1.2 1)" x="0" y="5.3" text-anchor="middle" font-family='"Liberation Sans", sans-serif' font-size="14.8" fill="#000" stroke="#000" stroke-width="0.25">35</text></g>
<g transform="translate(1096.7 623) rotate(-3)"><rect x="-11.9" y="-7.3" width="23.8" height="14.6" fill="#fff"/><text transform="scale(1.2 1)" x="0" y="5.3" text-anchor="middle" font-family='"Liberation Sans", sans-serif' font-size="14.8" fill="#000" stroke="#000" stroke-width="0.25">30</text></g>
<g transform="translate(1150.8 678) rotate(-20)"><rect x="-11.9" y="-7.3" width="23.8" height="14.6" fill="#fff"/><text transform="scale(1.2 1)" x="0" y="5.3" text-anchor="middle" font-family='"Liberation Sans", sans-serif' font-size="14.8" fill="#000" stroke="#000" stroke-width="0.25">25</text></g>
<g transform="translate(1533.2 453.1) rotate(80)"><rect x="-11.9" y="-7.3" width="23.8" height="14.6" fill="#fff"/><text transform="scale(1.2 1)" x="0" y="5.3" text-anchor="middle" font-family='"Liberation Sans", sans-serif' font-size="14.8" fill="#000" stroke="#000" stroke-width="0.25">45</text></g>
<g transform="translate(1565 438.6) rotate(0)"><rect x="-11.9" y="-7.3" width="23.8" height="14.6" fill="#fff"/><text transform="scale(1.2 1)" x="0" y="5.3" text-anchor="middle" font-family='"Liberation Sans", sans-serif' font-size="14.8" fill="#000" stroke="#000" stroke-width="0.25">40</text></g>
<g transform="translate(1677 441.5) rotate(0)"><rect x="-11.9" y="-7.3" width="23.8" height="14.6" fill="#fff"/><text transform="scale(1.2 1)" x="0" y="5.3" text-anchor="middle" font-family='"Liberation Sans", sans-serif' font-size="14.8" fill="#000" stroke="#000" stroke-width="0.25">50</text></g>
<g transform="translate(1494.5 486.9) rotate(60)"><rect x="-11.9" y="-7.3" width="23.8" height="14.6" fill="#fff"/><text transform="scale(1.2 1)" x="0" y="5.3" text-anchor="middle" font-family='"Liberation Sans", sans-serif' font-size="14.8" fill="#000" stroke="#000" stroke-width="0.25">35</text></g>
<g transform="translate(1583.4 521.6) rotate(20)"><rect x="-11.9" y="-7.3" width="23.8" height="14.6" fill="#fff"/><text transform="scale(1.2 1)" x="0" y="5.3" text-anchor="middle" font-family='"Liberation Sans", sans-serif' font-size="14.8" fill="#000" stroke="#000" stroke-width="0.25">40</text></g>
<g transform="translate(1552.5 570) rotate(25)"><rect x="-11.9" y="-7.3" width="23.8" height="14.6" fill="#fff"/><text transform="scale(1.2 1)" x="0" y="5.3" text-anchor="middle" font-family='"Liberation Sans", sans-serif' font-size="14.8" fill="#000" stroke="#000" stroke-width="0.25">25</text></g>
<g transform="translate(1677 593) rotate(5)"><rect x="-11.9" y="-7.3" width="23.8" height="14.6" fill="#fff"/><text transform="scale(1.2 1)" x="0" y="5.3" text-anchor="middle" font-family='"Liberation Sans", sans-serif' font-size="14.8" fill="#000" stroke="#000" stroke-width="0.25">30</text></g>
<g transform="translate(1307 277) rotate(-60)"><rect x="-11.9" y="-7.3" width="23.8" height="14.6" fill="#fff"/><text transform="scale(1.2 1)" x="0" y="5.3" text-anchor="middle" font-family='"Liberation Sans", sans-serif' font-size="14.8" fill="#000" stroke="#000" stroke-width="0.25">55</text></g>
<g transform="translate(1280 335) rotate(-60)"><rect x="-11.9" y="-7.3" width="23.8" height="14.6" fill="#fff"/><text transform="scale(1.2 1)" x="0" y="5.3" text-anchor="middle" font-family='"Liberation Sans", sans-serif' font-size="14.8" fill="#000" stroke="#000" stroke-width="0.25">45</text></g>
<g transform="translate(1347 200) rotate(-60)"><rect x="-11.9" y="-7.3" width="23.8" height="14.6" fill="#fff"/><text transform="scale(1.2 1)" x="0" y="5.3" text-anchor="middle" font-family='"Liberation Sans", sans-serif' font-size="14.8" fill="#000" stroke="#000" stroke-width="0.25">45</text></g>
</g>
<polyline points="1067,421.5 1215,421.5" fill="none" stroke="#050505" stroke-width="10.5" stroke-linecap="round" stroke-linejoin="round"/>
<polyline points="1216,421.5 1431.5,35.5" fill="none" stroke="#050505" stroke-width="11.8" stroke-linecap="round" stroke-linejoin="round"/>
<polyline points="1683,422.5 1537,422.5" fill="none" stroke="#050505" stroke-width="10" stroke-linecap="round" stroke-linejoin="round"/>
<polyline points="1537,422.5 1690.5,145" fill="none" stroke="#050505" stroke-width="11.8" stroke-linecap="round" stroke-linejoin="round"/>
<g stroke="#0a0a0a" fill="none">
<path d="M1063.5 32.5V747.5H1688" stroke-width="3.9" stroke-linejoin="miter"/>
<path d="M1063.5 747.5v-18.5" stroke-width="3.3"/>
<path d="M1108.1 747.5v-11" stroke-width="1.3"/>
<path d="M1152.7 747.5v-11" stroke-width="1.3"/>
<path d="M1197.3 747.5v-11" stroke-width="1.3"/>
<path d="M1241.9 747.5v-18.5" stroke-width="3.3"/>
<path d="M1286.5 747.5v-11" stroke-width="1.3"/>
<path d="M1331.1 747.5v-11" stroke-width="1.3"/>
<path d="M1375.7 747.5v-11" stroke-width="1.3"/>
<path d="M1420.3 747.5v-18.5" stroke-width="3.3"/>
<path d="M1464.9 747.5v-11" stroke-width="1.3"/>
<path d="M1509.5 747.5v-11" stroke-width="1.3"/>
<path d="M1554.1 747.5v-11" stroke-width="1.3"/>
<path d="M1598.7 747.5v-18.5" stroke-width="3.3"/>
<path d="M1643.3 747.5v-11" stroke-width="1.3"/>
<path d="M1687.9 747.5v-11" stroke-width="1.3"/>
<path d="M1063.5 747.5h18.5" stroke-width="3.3"/>
<path d="M1063.5 702.9h11" stroke-width="1.3"/>
<path d="M1063.5 658.2h11" stroke-width="1.3"/>
<path d="M1063.5 613.5h11" stroke-width="1.3"/>
<path d="M1063.5 568.9h18.5" stroke-width="3.3"/>
<path d="M1063.5 524.2h11" stroke-width="1.3"/>
<path d="M1063.5 479.6h11" stroke-width="1.3"/>
<path d="M1063.5 434.9h11" stroke-width="1.3"/>
<path d="M1063.5 390.3h18.5" stroke-width="3.3"/>
<path d="M1063.5 345.7h11" stroke-width="1.3"/>
<path d="M1063.5 301h11" stroke-width="1.3"/>
<path d="M1063.5 256.4h11" stroke-width="1.3"/>
<path d="M1063.5 211.7h18.5" stroke-width="3.3"/>
<path d="M1063.5 167.1h11" stroke-width="1.3"/>
<path d="M1063.5 122.4h11" stroke-width="1.3"/>
<path d="M1063.5 77.8h11" stroke-width="1.3"/>
<path d="M1063.5 33.1h18.5" stroke-width="3.3"/>
</g>
<g stroke="#e6211c" stroke-width="4.4" fill="none" stroke-dasharray="19.2 15.2">
<path d="M1295 292.3H1647"/>
<path d="M1217.5 423H1647"/>
</g>
<path d="M1632.9 308.7V410.6" stroke="#e6211c" stroke-width="4.8"/>
<path d="M1632.9 295.5l7.3 14.2h-14.6z M1632.9 423.8l7.3 -14.2h-14.6z" fill="#e6211c"/>
<g font-family='"Liberation Serif", "Noto Serif CJK SC", serif' fill="#1c1614" font-size="63">
<text x="1051.5" y="55.4" text-anchor="end">12</text>
<text x="1051.5" y="230.4" text-anchor="end">10</text>
<text x="1051.5" y="405.4" text-anchor="end">8</text>
<text x="1051.5" y="580.4" text-anchor="end">6</text>
<text x="1051.5" y="755.4" text-anchor="end">4</text>
<text x="1066.9" y="808" text-anchor="middle">118</text>
<text x="1245.3" y="808" text-anchor="middle">120</text>
<text x="1423.7" y="808" text-anchor="middle">122</text>
<text x="1602.1" y="808" text-anchor="middle">124</text>
<text x="1339" y="872" text-anchor="middle"><tspan font-style="italic">X</tspan>/m</text>
<text transform="translate(984 392.5) rotate(-90)" text-anchor="middle"><tspan font-style="italic">Y</tspan>/m</text>
<text transform="translate(1747.5 365.5) rotate(-90)" text-anchor="middle">1.47 m</text>
<text x="1347" y="945.5" text-anchor="middle" font-size="63">(b) <tspan font-style="italic" dx="4">θ</tspan><tspan dx="-6">=</tspan><tspan dx="-3">60°</tspan></text>
</g>
<!-- panel pc -->
<clipPath id="clip2"><rect x="144" y="1023.5" width="621.5" height="712.3"/></clipPath>
<g clip-path="url(#clip2)">
<rect x="144" y="1023.5" width="621.5" height="712.3" fill="#1a4594"/>
<path d="M143 1664.2 C152.2 1664.2 182.3 1665.2 197.9 1664.2 C213.5 1663.2 225.2 1661 236.5 1658.4 C247.8 1655.8 255.8 1652.9 265.5 1648.7 C275.2 1644.5 284.9 1639.4 294.5 1633.3 C304.1 1627.2 313.8 1619.7 323.4 1612 C333 1604.3 343.4 1595 352.4 1587 C361.4 1579 369.4 1572.2 377.5 1563.8 C385.6 1555.4 393.6 1545.7 400.7 1536.7 C407.8 1527.7 414.2 1518.7 420 1509.7 C425.8 1500.7 430.6 1492 435.4 1482.7 C440.2 1473.4 444.7 1464.3 448.9 1453.7 C453.1 1443.1 457.7 1429.3 460.5 1419 C463.3 1408.7 464.8 1396.5 465.6 1392 L465.6 1392 L484 1390.5 L484 1390.5 C485 1394.3 487.2 1405.2 490.2 1413.2 C493.2 1421.2 498.3 1430.9 501.8 1438.3 C505.3 1445.7 507.5 1450.5 511.4 1457.6 C515.3 1464.7 520.2 1473.7 525 1480.8 C529.8 1487.9 534.6 1493.9 540.4 1500 C546.2 1506.1 552 1511.9 559.7 1517.4 C567.4 1522.9 577.7 1528.2 586.7 1533 C595.7 1537.8 604.5 1541.9 613.8 1546.4 C623.1 1550.9 633.1 1555.8 642.7 1560 C652.4 1564.2 662 1568 671.7 1571.5 C681.4 1575 691.1 1578.3 700.7 1581.2 C710.4 1584.1 718.6 1586.5 729.6 1588.9 C740.6 1591.3 760.8 1594.5 767 1595.6 L820 1595.6 C820 1493 940 1082.6 820 980 C700 877.4 220 866 100 980 C-20 1094 100 1550.2 100 1664.2 Z" fill="#21549f" stroke="#08131c" stroke-width="1.35" stroke-linejoin="round" stroke-dasharray="14 1.8"/>
<path d="M143 1610 C152.2 1609.5 182.3 1608.5 197.9 1607.2 C213.5 1605.9 223.6 1604.5 236.5 1602.4 C249.4 1600.3 263.6 1597.6 275.2 1594.7 C286.8 1591.8 296.4 1588.9 306 1585 C315.6 1581.1 323.7 1577.3 333 1571.5 C342.3 1565.7 353 1558 362 1550.3 C371 1542.6 379.8 1533.9 387.2 1525.2 C394.6 1516.5 400.7 1507 406.5 1498 C412.3 1489 417.1 1480.6 421.9 1471 C426.7 1461.4 431.7 1450.5 435.4 1440.2 C439.1 1429.9 441.8 1418.5 444 1409.3 C446.2 1400.1 447.2 1394 448.5 1385 C449.8 1376 450.8 1365.2 452 1355 C453.2 1344.8 454.3 1332.8 455.5 1324.1 C456.7 1315.3 457.4 1309.7 459.1 1302.5 C460.8 1295.3 464.5 1284.6 465.6 1281 L465.6 1281 C467.4 1282.8 473.2 1287.5 476.4 1291.8 C479.6 1296.1 482.9 1300.8 485 1306.9 C487.1 1313 487.9 1320.5 489.3 1328.4 C490.7 1336.3 492 1346 493.6 1354.3 C495.2 1362.6 497.2 1371.2 499 1378 C500.8 1384.8 502.8 1389.8 504.5 1395 C506.2 1400.2 506.7 1402.7 509.5 1409.3 C512.3 1415.9 516.9 1426.4 521.1 1434.4 C525.3 1442.5 530.1 1450.5 534.6 1457.6 C539.1 1464.7 542.6 1470.8 548.1 1476.9 C553.6 1483 560.3 1488.5 567.4 1494.3 C574.5 1500.1 582.9 1506.4 590.6 1511.6 C598.3 1516.8 605.1 1520.7 613.8 1525.2 C622.5 1529.7 633.1 1534.5 642.7 1538.7 C652.4 1542.9 662 1546.5 671.7 1550.3 C681.4 1554.1 691.1 1558.6 700.7 1561.8 C710.4 1565 718.6 1567.2 729.6 1569.6 C740.6 1572 760.8 1575.2 767 1576.3 L820 1576.3 C820 1476.9 940 1079.4 820 980 C700 880.6 220 875 100 980 C-20 1085 100 1505 100 1610 Z" fill="#2e74b5" stroke="#08131c" stroke-width="1.35" stroke-linejoin="round" stroke-dasharray="14 1.8"/>
<path d="M143 1592.7 C152.2 1592.2 182.3 1591.2 197.9 1589.8 C213.5 1588.3 223.6 1586.7 236.5 1584 C249.4 1581.3 263.6 1577.4 275.2 1573.4 C286.8 1569.4 296.4 1564.8 306 1560 C315.6 1555.2 324.3 1550.3 333 1544.5 C341.7 1538.7 350.1 1532.6 358.2 1525.2 C366.3 1517.8 374.6 1508.4 381.4 1500 C388.1 1491.6 393.5 1483.7 398.7 1475 C403.9 1466.3 408.1 1457.3 412.3 1448 C416.5 1438.7 420.4 1429 423.8 1419 C427.2 1409 430 1398.7 432.5 1388 C435 1377.3 437.2 1366.3 439 1355 C440.8 1343.7 442.3 1331.6 443.5 1320 C444.7 1308.4 445 1296.5 446.2 1285.3 C447.4 1274.1 448.7 1264.5 450.5 1253 C452.3 1241.5 454.5 1228.2 457 1216.3 C459.5 1204.4 462.7 1191.1 465.6 1181.8 C468.5 1172.5 471.1 1166.7 474.2 1160.2 C477.3 1153.7 482.4 1145.9 484 1143 L484 1143 C484.9 1145.2 487.7 1150.2 489.3 1155.9 C490.9 1161.7 492.2 1168.5 493.6 1177.5 C495.1 1186.5 496.6 1199 498 1209.8 C499.4 1220.6 500.9 1231.4 502.3 1242.2 C503.7 1253 505.2 1263.7 506.6 1274.5 C508.1 1285.3 509.5 1296.1 511 1306.9 C512.5 1317.7 514.2 1329.5 515.5 1339.2 C516.8 1348.9 518 1356.9 519 1365 C520 1373.1 520.3 1381.3 521.5 1388 C522.7 1394.7 523.5 1398.6 526 1405.4 C528.5 1412.2 532.5 1420.9 536.5 1428.6 C540.5 1436.3 545.3 1444.7 550.1 1451.8 C554.9 1458.9 559.7 1464.9 565.5 1471 C571.3 1477.1 577.4 1482.7 584.8 1488.5 C592.2 1494.3 601.2 1500.4 609.9 1505.9 C618.6 1511.4 627.7 1516.5 637 1521.3 C646.3 1526.1 656.2 1530.6 665.9 1534.8 C675.5 1539 684.3 1542.9 694.9 1546.4 C705.5 1549.9 717.6 1553.4 729.6 1556 C741.6 1558.6 760.8 1560.8 767 1561.8 L820 1561.8 C820 1464.8 940 1077 820 980 C700 883 220 877.9 100 980 C-20 1082.1 100 1490.6 100 1592.7 Z" fill="#38aedb" stroke="#08131c" stroke-width="1.35" stroke-linejoin="round" stroke-dasharray="14 1.8"/>
<path d="M143 1580.2 C152.2 1579.5 183.3 1577.8 197.9 1576.3 C212.5 1574.8 217.9 1574.2 230.8 1571.5 C243.7 1568.8 262.7 1564.2 275.2 1560 C287.7 1555.8 296.4 1551.2 306 1546.4 C315.6 1541.6 324.6 1536.8 333 1531 C341.4 1525.2 349.1 1518.4 356.2 1511.6 C363.3 1504.8 369.7 1497.8 375.5 1490.4 C381.3 1483 386.2 1475.6 391 1467.2 C395.8 1458.8 400.6 1449.2 404.5 1440.2 C408.4 1431.2 411.4 1421.9 414.2 1413.2 C417 1404.5 419.1 1397.7 421.5 1388 C423.9 1378.3 426.6 1366.3 428.5 1355 C430.4 1343.7 431.9 1333.4 433 1320 C434.1 1306.6 434.4 1289.3 435.4 1274.5 C436.3 1259.7 437.3 1244.7 438.7 1231.4 C440.1 1218.1 442 1207.3 444 1194.7 C446 1182.1 448 1168.9 450.5 1156 C453 1143.1 455.9 1129.7 459.1 1117.1 C462.3 1104.5 466.7 1091.3 469.9 1080.5 C473.1 1069.7 475.4 1062 478.5 1052.4 C481.6 1042.8 486.3 1029.2 488.2 1023 C490.1 1016.8 489.7 1016.3 490 1015 L100 980 L100 1580.2 Z" fill="#6ebfc4" stroke="#08131c" stroke-width="1.35" stroke-linejoin="round" stroke-dasharray="14 1.8"/>
<path d="M539.8 1015 C539.8 1016.3 540.7 1013.9 539.8 1023 C538.9 1032.1 535.8 1054.7 534.4 1069.7 C533 1084.7 531.9 1098.4 531.2 1112.8 C530.5 1127.2 530.3 1141.6 530.1 1156 C529.9 1170.4 529.8 1184.6 530.1 1199 C530.5 1213.4 531.5 1227.8 532.2 1242.2 C532.9 1256.6 533.5 1270.9 534.4 1285.3 C535.3 1299.7 536.5 1315.8 537.6 1328.4 C538.7 1341 539.8 1350.5 540.9 1360.8 C542 1371.1 543.1 1382.6 544.3 1390 C545.5 1397.4 546.2 1399.6 548.1 1405.4 C550 1411.2 552.7 1418.4 555.9 1424.8 C559.1 1431.2 562.9 1437.6 567.4 1444 C571.9 1450.4 577.1 1457.6 582.9 1463.4 C588.7 1469.2 595.1 1473.7 602.2 1478.8 C609.3 1483.9 617 1489.1 625.4 1494.3 C633.8 1499.5 643.1 1504.9 652.4 1509.7 C661.7 1514.5 671.8 1519 681.4 1523.2 C691 1527.4 701.3 1531.6 710.3 1534.8 C719.3 1538 725.9 1540.2 735.4 1542.5 C744.9 1544.8 761.7 1547.3 767 1548.3 L820 1548.3 L820 980 Z" fill="#6ebfc4" stroke="#08131c" stroke-width="1.35" stroke-linejoin="round" stroke-dasharray="14 1.8"/>
<path d="M643.3 1015 C643.3 1016.5 641.9 1020.3 643.3 1024 C644.7 1027.7 649.8 1032.2 651.9 1037.3 C654 1042.4 653.7 1048.8 656.2 1054.6 C658.7 1060.3 664.4 1067.2 667 1071.8 C669.6 1076.4 671.2 1080.3 672 1082 L710 1082 L720 1015 Z" fill="#38aedb" stroke="#08131c" stroke-width="1.35" stroke-linejoin="round" stroke-dasharray="14 1.8"/>
<path d="M143 1566.7 C154.4 1565.7 192.6 1563.2 211.4 1560.9 C230.2 1558.7 242.1 1556.9 255.9 1553.2 C269.8 1549.5 283.2 1543.7 294.5 1538.7 C305.8 1533.7 314.7 1528.7 323.4 1523.2 C332.1 1517.7 339.5 1512 346.6 1505.9 C353.7 1499.8 360.1 1493.3 365.9 1486.5 C371.7 1479.7 376.6 1473 381.4 1465.3 C386.2 1457.6 391 1448.9 394.9 1440.2 C398.8 1431.5 401.6 1421.9 404.5 1413.2 C407.4 1404.5 409.4 1397.7 412 1388 C414.6 1378.3 417.8 1366.3 420 1355 C422.2 1343.7 423.9 1333.4 425 1320 C426.1 1306.6 426.1 1289.3 426.8 1274.5 C427.5 1259.7 427.9 1245.8 429 1231.4 C430.1 1217 431.5 1202.7 433.3 1188.3 C435.1 1173.9 437.2 1159.5 439.7 1145.1 C442.2 1130.7 445.5 1115.3 448.4 1102 C451.3 1088.7 454.7 1074.4 457 1065.4 C459.3 1056.4 460.6 1055.2 462.4 1048.1 C464.2 1041 466.7 1028.5 467.8 1023 C468.9 1017.5 468.8 1016.3 469 1015 L100 980 L100 1566.7 Z" fill="#67b78e" stroke="#08131c" stroke-width="1.35" stroke-linejoin="round" stroke-dasharray="14 1.8"/>
<path d="M614.2 1176.4 C615.3 1178 617.6 1182 620.6 1186.1 C623.6 1190.2 630.7 1196.2 632.5 1201.2 C634.3 1206.2 633.4 1210.9 631.4 1216.3 C629.4 1221.7 622.6 1225.6 620.6 1233.5 C618.6 1241.4 620.4 1255.1 619.5 1263.7 C618.6 1272.3 616.1 1277.4 615.2 1285.3 C614.3 1293.2 617.4 1304.4 614.2 1311.2 C611 1318 601.4 1325.6 595.8 1326.3 C590.2 1327 584.5 1320.5 580.7 1315.5 C576.9 1310.5 575 1304.7 573.2 1296.1 C571.4 1287.5 570 1273.4 570 1263.7 C570 1254 571.4 1246.5 573.2 1237.9 C575 1229.3 577.7 1219.5 580.7 1212 C583.8 1204.5 588.3 1197.6 591.5 1192.6 C594.7 1187.6 596.3 1184.5 600.1 1181.8 C603.9 1179.1 611.9 1177.3 614.2 1176.4 Z" fill="#67b78e" stroke="#08131c" stroke-width="1.35" stroke-linejoin="round" stroke-dasharray="14 1.8"/>
<path d="M596.4 1430.5 C596.1 1431 594.2 1431.2 594.5 1433.4 C594.8 1435.7 595.7 1440 598.3 1444 C600.9 1448 605.4 1453.4 609.9 1457.6 C614.4 1461.8 619 1465.3 625.4 1469.2 C631.8 1473.1 640.1 1476.6 648.5 1480.8 C656.9 1485 666.3 1489.8 675.6 1494.3 C684.9 1498.8 694.9 1503.6 704.5 1507.8 C714.1 1512 723.1 1515.9 733.5 1519.4 C743.9 1522.9 761.4 1527.4 767 1529 L820 1529 L820 1430.5 Z" fill="#67b78e" stroke="#08131c" stroke-width="1.35" stroke-linejoin="round" stroke-dasharray="14 1.8"/>
<path d="M143 1554 C153.8 1553.2 188.8 1551.5 207.6 1549.3 C226.4 1547.1 241.4 1544.5 255.9 1540.6 C270.4 1536.7 283.9 1530.5 294.5 1526 C305.1 1521.5 311.6 1518.6 319.6 1513.6 C327.6 1508.6 335.9 1502 342.7 1496.2 C349.4 1490.4 354.3 1485.5 360.1 1478.8 C365.9 1472 372.7 1463.4 377.5 1455.7 C382.3 1448 385.9 1440.2 389.1 1432.5 C392.3 1424.8 394.3 1417.2 396.8 1409.3 C399.3 1401.4 401.5 1394 404 1385 C406.5 1376 409.7 1365.8 412 1355 C414.3 1344.2 416.8 1333.4 418 1320 C419.2 1306.6 418.9 1291.1 419.3 1274.5 C419.7 1257.9 419.4 1237.5 420.3 1220.6 C421.2 1203.7 423.2 1187.6 424.6 1173.2 C426.1 1158.8 427.2 1146.3 429 1134.4 C430.8 1122.5 432.9 1114.6 435.4 1102 C437.9 1089.4 441.7 1072.1 444 1058.9 C446.3 1045.7 448.3 1030.3 449.4 1023 C450.5 1015.7 450.3 1016.3 450.5 1015 L100 980 L100 1554 Z" fill="#63b14f" stroke="#08131c" stroke-width="1.35" stroke-linejoin="round" stroke-dasharray="14 1.8"/>
<path d="M662 1432 C663 1433.4 664.9 1437.2 667.8 1440.2 C670.7 1443.2 674.9 1446.7 679.4 1449.9 C683.9 1453.1 689.1 1456.6 694.9 1459.5 C700.7 1462.4 707.8 1464.8 714.2 1467.2 C720.6 1469.6 727.1 1472.1 733.5 1474 C739.9 1475.9 747.2 1477.7 752.8 1478.8 C758.4 1479.9 764.6 1480.5 767 1480.8 L820 1480.8 L820 1431 Z" fill="#63b14f" stroke="#08131c" stroke-width="1.35" stroke-linejoin="round" stroke-dasharray="14 1.8"/>
<path d="M143 1539.6 C153.8 1539 188.8 1537.9 207.6 1535.8 C226.4 1533.7 241.4 1530.7 255.9 1527 C270.4 1523.3 283.9 1518.1 294.5 1513.6 C305.1 1509.1 312.2 1504.8 319.6 1500 C327 1495.2 332.8 1490.1 338.9 1484.6 C345 1479.1 351 1473.3 356.2 1467.2 C361.4 1461.1 365.6 1455.1 369.8 1448 C374 1440.9 378.2 1432.5 381.4 1424.8 C384.6 1417.1 386.7 1409.4 389.1 1401.6 C391.5 1393.8 393.5 1386.6 396 1378 C398.5 1369.4 402 1360 404 1350 C406 1340 407.2 1330.6 408 1318 C408.8 1305.4 408.4 1290.7 408.5 1274.5 C408.6 1258.3 408.1 1236.8 408.5 1220.6 C408.9 1204.4 409.2 1191.9 410.6 1177.5 C412 1163.1 415.8 1145.2 417.1 1134.4 C418.4 1123.6 417.7 1120 418.2 1112.8 C418.7 1105.6 420.5 1098.4 420.3 1091.2 C420.1 1084 418.7 1075.5 417.1 1069.7 C415.5 1064 411.7 1058.9 410.6 1056.7 L385 1050 C337.5 1050 147.5 968.4 100 1050 C52.5 1131.6 100 1458 100 1539.6 Z" fill="#6db436" stroke="#08131c" stroke-width="1.35" stroke-linejoin="round" stroke-dasharray="14 1.8"/>
<path d="M143 1527 C152.2 1526.7 183.3 1526.2 197.9 1525.2 C212.5 1524.2 217.9 1523.9 230.8 1521.3 C243.7 1518.7 263 1513.6 275.2 1509.7 C287.4 1505.8 295.4 1502.5 304.1 1498 C312.8 1493.5 320.5 1487.8 327.3 1482.7 C334.1 1477.6 339.2 1473 344.7 1467.2 C350.2 1461.4 355.6 1455.1 360.1 1448 C364.6 1440.9 368.5 1432.5 371.7 1424.8 C374.9 1417.1 377 1409.9 379.4 1401.6 C381.8 1393.3 383.7 1384.4 386 1375 C388.3 1365.6 391.3 1355.8 393 1345 C394.7 1334.2 395.4 1321.8 396 1310 C396.6 1298.2 396.5 1289.4 396.6 1274.5 C396.7 1259.6 396.6 1235 396.6 1220.6 C396.6 1206.2 397 1199.1 396.6 1188.3 C396.2 1177.5 395.8 1165 394.5 1156 C393.2 1147 390.2 1144.1 389.1 1134.4 C388 1124.7 388.2 1103.8 388 1097.7 L370 1095 C325 1095 145 1023 100 1095 C55 1167 100 1455 100 1527 Z" fill="#74b531" stroke="#08131c" stroke-width="1.35" stroke-linejoin="round" stroke-dasharray="14 1.8"/>
<path d="M143 1507.8 C152.2 1507.6 182.3 1507.8 197.9 1506.8 C213.5 1505.8 223.6 1504.4 236.5 1502 C249.4 1499.6 263.9 1495.8 275.2 1492.3 C286.5 1488.8 296.1 1484.6 304.1 1480.8 C312.1 1477 317.3 1473.4 323.4 1469.2 C329.5 1465 335.6 1460.9 340.8 1455.7 C346 1450.5 350.1 1445.1 354.3 1438.3 C358.5 1431.5 362.7 1423 365.9 1415 C369.1 1407 371.6 1399.2 373.6 1390 C375.6 1380.8 377 1370 378 1360 C379 1350 379.3 1340 379.4 1330 C379.5 1320 378.9 1309.2 378.5 1300 C378.1 1290.8 377.9 1282.3 377.2 1274.5 C376.4 1266.7 374.9 1259 374 1253 C373.1 1247 372.2 1240.9 371.8 1238.5 L355 1239 C312.5 1239 142.5 1194.2 100 1239 C57.5 1283.8 100 1463 100 1507.8 Z" fill="#81ba2e" stroke="#08131c" stroke-width="1.35" stroke-linejoin="round" stroke-dasharray="14 1.8"/>
<path d="M300 1300 L334 1300 L334 1300 C334.2 1311.6 334.3 1355.3 335.2 1369.4 C336.1 1383.5 338.8 1380.1 339.5 1384.5 C340.2 1388.9 339.6 1394.1 339.6 1396 L339.6 1396 L339 1421 L339 1421 L317.6 1431.5 L317.6 1431.5 L290 1431.5 L290 1431.5 L290 1405 Z" fill="#74b531" stroke="#08131c" stroke-width="1.35" stroke-linejoin="round" stroke-dasharray="14 1.8"/>
<path d="M143 1460.5 C152.2 1460.5 182.3 1460.2 197.9 1460.5 C213.5 1460.8 226.2 1461.8 236.5 1462.4 C246.8 1463 252 1463.3 259.7 1464.3 C267.4 1465.3 279 1467.5 282.9 1468.2 L282.9 1468.2 C278.4 1469 266.9 1471.1 255.9 1473 C245 1474.9 230.1 1478.1 217.2 1479.8 C204.3 1481.5 191 1482.4 178.6 1483 C166.2 1483.6 148.9 1483.5 143 1483.6 L100 1483.6 L100 1460.5 Z" fill="#a6c937" stroke="#08131c" stroke-width="1.35" stroke-linejoin="round" stroke-dasharray="14 1.8"/>
<polygon points="143,1415 295,1415 295.4,1416.8 143,1416.8" fill="#1a4594"/>
<polygon points="143,1416.8 295.4,1416.8 295.9,1418.7 143,1418.7" fill="#21549f"/>
<polygon points="143,1418.7 295.9,1418.7 296.3,1420.5 143,1420.5" fill="#2e74b5"/>
<polygon points="143,1420.5 296.3,1420.5 296.8,1422.3 143,1422.3" fill="#38aedb"/>
<polygon points="143,1422.3 296.8,1422.3 297.2,1424.2 143,1424.2" fill="#6ebfc4"/>
<polygon points="143,1424.2 297.2,1424.2 297.7,1426 143,1426" fill="#67b78e"/>
<polygon points="143,1426 297.7,1426 298.1,1427.8 143,1427.8" fill="#63b14f"/>
<polygon points="143,1427.8 298.1,1427.8 298.6,1429.7 143,1429.7" fill="#6db436"/>
<polygon points="143,1429.7 298.6,1429.7 299,1431.5 143,1431.5" fill="#74b531"/>
<polyline points="143,1416.8 295.4,1416.8" fill="none" stroke="#0b1a26" stroke-width="0.7" stroke-opacity="0.85"/>
<polyline points="143,1418.7 295.9,1418.7" fill="none" stroke="#0b1a26" stroke-width="0.7" stroke-opacity="0.85"/>
<polyline points="143,1420.5 296.3,1420.5" fill="none" stroke="#0b1a26" stroke-width="0.7" stroke-opacity="0.85"/>
<polyline points="143,1422.3 296.8,1422.3" fill="none" stroke="#0b1a26" stroke-width="0.7" stroke-opacity="0.85"/>
<polyline points="143,1424.2 297.2,1424.2" fill="none" stroke="#0b1a26" stroke-width="0.7" stroke-opacity="0.85"/>
<polyline points="143,1426 297.7,1426" fill="none" stroke="#0b1a26" stroke-width="0.7" stroke-opacity="0.85"/>
<polyline points="143,1427.8 298.1,1427.8" fill="none" stroke="#0b1a26" stroke-width="0.7" stroke-opacity="0.85"/>
<polyline points="143,1429.7 298.6,1429.7" fill="none" stroke="#0b1a26" stroke-width="0.7" stroke-opacity="0.85"/>
<polyline points="143,1431.5 299,1431.5" fill="none" stroke="#0b1a26" stroke-width="0.7" stroke-opacity="0.85"/>
<polygon points="297,1411.4 302,1392.2 308,1368.7 313,1349.5 319.1,1326.1 324,1306.9 330.1,1283.4 335.1,1264.2 341.1,1240.7 346.1,1221.5 352.2,1198.1 357.1,1178.9 363.2,1155.4 368.2,1136.2 374.2,1112.7 379.2,1093.5 385.3,1070.1 390.2,1050.9 396.3,1027.4 396.3,1027.4 398.4,1027.9 397.3,1027.7 392.4,1051.4 386.3,1070.3 381.4,1094.1 375.3,1113 370.4,1136.8 364.4,1155.7 359.5,1179.5 353.4,1198.4 348.5,1222.1 342.4,1241.1 337.5,1264.8 331.4,1283.7 326.5,1307.5 320.5,1326.4 315.6,1350.2 309.5,1369.1 304.6,1392.9 298.5,1411.8" fill="#1a4594"/>
<polygon points="298.5,1411.8 304.6,1392.9 309.5,1369.1 315.6,1350.2 320.5,1326.4 326.5,1307.5 331.4,1283.7 337.5,1264.8 342.4,1241.1 348.5,1222.1 353.4,1198.4 359.5,1179.5 364.4,1155.7 370.4,1136.8 375.3,1113 381.4,1094.1 386.3,1070.3 392.4,1051.4 397.3,1027.7 398.4,1027.9 400.4,1028.5 398.2,1027.9 394.5,1052 387.3,1070.6 383.6,1094.7 376.4,1113.3 372.7,1137.4 365.5,1156 361.8,1180.1 354.6,1198.7 350.9,1222.8 343.7,1241.4 340,1265.5 332.8,1284.1 329,1308.2 321.9,1326.8 318.1,1350.9 311,1369.5 307.2,1393.6 300,1412.2" fill="#21549f"/>
<polygon points="300,1412.2 307.2,1393.6 311,1369.5 318.1,1350.9 321.9,1326.8 329,1308.2 332.8,1284.1 340,1265.5 343.7,1241.4 350.9,1222.8 354.6,1198.7 361.8,1180.1 365.5,1156 372.7,1137.4 376.4,1113.3 383.6,1094.7 387.3,1070.6 394.5,1052 398.2,1027.9 400.4,1028.5 402.5,1029 399.2,1028.2 396.6,1052.5 388.4,1070.9 385.8,1095.2 377.5,1113.6 374.9,1138 366.7,1156.3 364.1,1180.7 355.8,1199 353.2,1223.4 345,1241.7 342.4,1266.1 334.1,1284.4 331.5,1308.8 323.3,1327.2 320.7,1351.5 312.4,1369.9 309.8,1394.2 301.6,1412.6" fill="#2e74b5"/>
<polygon points="301.6,1412.6 309.8,1394.2 312.4,1369.9 320.7,1351.5 323.3,1327.2 331.5,1308.8 334.1,1284.4 342.4,1266.1 345,1241.7 353.2,1223.4 355.8,1199 364.1,1180.7 366.7,1156.3 374.9,1138 377.5,1113.6 385.8,1095.2 388.4,1070.9 396.6,1052.5 399.2,1028.2 402.5,1029 404.6,1029.5 400.2,1028.4 398.8,1053.1 389.4,1071.1 388,1095.8 378.6,1113.9 377.2,1138.5 367.8,1156.6 366.4,1181.3 357,1199.3 355.6,1224 346.2,1242.1 344.8,1266.7 335.4,1284.8 334,1309.5 324.7,1327.5 323.3,1352.2 313.9,1370.2 312.5,1394.9 303.1,1413" fill="#38aedb"/>
<polygon points="303.1,1413 312.5,1394.9 313.9,1370.2 323.3,1352.2 324.7,1327.5 334,1309.5 335.4,1284.8 344.8,1266.7 346.2,1242.1 355.6,1224 357,1199.3 366.4,1181.3 367.8,1156.6 377.2,1138.5 378.6,1113.9 388,1095.8 389.4,1071.1 398.8,1053.1 400.2,1028.4 404.6,1029.5 406.7,1030.1 401.1,1028.7 400.9,1053.6 390.4,1071.4 390.2,1096.4 379.7,1114.1 379.5,1139.1 369,1156.9 368.7,1181.9 358.2,1199.6 358,1224.6 347.5,1242.4 347.3,1267.4 336.8,1285.1 336.6,1310.1 326.1,1327.9 325.8,1352.9 315.3,1370.6 315.1,1395.6 304.6,1413.4" fill="#6ebfc4"/>
<polygon points="304.6,1413.4 315.1,1395.6 315.3,1370.6 325.8,1352.9 326.1,1327.9 336.6,1310.1 336.8,1285.1 347.3,1267.4 347.5,1242.4 358,1224.6 358.2,1199.6 368.7,1181.9 369,1156.9 379.5,1139.1 379.7,1114.1 390.2,1096.4 390.4,1071.4 400.9,1053.6 401.1,1028.7 406.7,1030.1 408.7,1030.6 402.1,1028.9 403,1054.2 391.4,1071.7 392.4,1096.9 380.8,1114.4 381.7,1139.7 370.1,1157.2 371.1,1182.5 359.4,1200 360.4,1225.2 348.8,1242.7 349.7,1268 338.1,1285.5 339.1,1310.8 327.5,1328.2 328.4,1353.5 316.8,1371 317.7,1396.3 306.1,1413.8" fill="#67b78e"/>
<polygon points="306.1,1413.8 317.7,1396.3 316.8,1371 328.4,1353.5 327.5,1328.2 339.1,1310.8 338.1,1285.5 349.7,1268 348.8,1242.7 360.4,1225.2 359.4,1200 371.1,1182.5 370.1,1157.2 381.7,1139.7 380.8,1114.4 392.4,1096.9 391.4,1071.7 403,1054.2 402.1,1028.9 408.7,1030.6 410.8,1031.2 403.1,1029.2 405.2,1054.7 392.5,1071.9 394.6,1097.5 381.9,1114.7 384,1140.3 371.3,1157.5 373.4,1183.1 360.7,1200.3 362.8,1225.8 350.1,1243 352.2,1268.6 339.5,1285.8 341.6,1311.4 328.9,1328.6 331,1354.2 318.3,1371.4 320.4,1397 307.6,1414.2" fill="#63b14f"/>
<polyline points="298.5,1411.8 304.6,1392.9 309.5,1369.1 315.6,1350.2 320.5,1326.4 326.5,1307.5 331.4,1283.7 337.5,1264.8 342.4,1241.1 348.5,1222.1 353.4,1198.4 359.5,1179.5 364.4,1155.7 370.4,1136.8 375.3,1113 381.4,1094.1 386.3,1070.3 392.4,1051.4 397.3,1027.7 398.4,1027.9" fill="none" stroke="#0b1a26" stroke-width="0.7" stroke-opacity="0.85"/>
<polyline points="300,1412.2 307.2,1393.6 311,1369.5 318.1,1350.9 321.9,1326.8 329,1308.2 332.8,1284.1 340,1265.5 343.7,1241.4 350.9,1222.8 354.6,1198.7 361.8,1180.1 365.5,1156 372.7,1137.4 376.4,1113.3 383.6,1094.7 387.3,1070.6 394.5,1052 398.2,1027.9 400.4,1028.5" fill="none" stroke="#0b1a26" stroke-width="0.7" stroke-opacity="0.85"/>
<polyline points="301.6,1412.6 309.8,1394.2 312.4,1369.9 320.7,1351.5 323.3,1327.2 331.5,1308.8 334.1,1284.4 342.4,1266.1 345,1241.7 353.2,1223.4 355.8,1199 364.1,1180.7 366.7,1156.3 374.9,1138 377.5,1113.6 385.8,1095.2 388.4,1070.9 396.6,1052.5 399.2,1028.2 402.5,1029" fill="none" stroke="#0b1a26" stroke-width="0.7" stroke-opacity="0.85"/>
<polyline points="303.1,1413 312.5,1394.9 313.9,1370.2 323.3,1352.2 324.7,1327.5 334,1309.5 335.4,1284.8 344.8,1266.7 346.2,1242.1 355.6,1224 357,1199.3 366.4,1181.3 367.8,1156.6 377.2,1138.5 378.6,1113.9 388,1095.8 389.4,1071.1 398.8,1053.1 400.2,1028.4 404.6,1029.5" fill="none" stroke="#0b1a26" stroke-width="0.7" stroke-opacity="0.85"/>
<polyline points="304.6,1413.4 315.1,1395.6 315.3,1370.6 325.8,1352.9 326.1,1327.9 336.6,1310.1 336.8,1285.1 347.3,1267.4 347.5,1242.4 358,1224.6 358.2,1199.6 368.7,1181.9 369,1156.9 379.5,1139.1 379.7,1114.1 390.2,1096.4 390.4,1071.4 400.9,1053.6 401.1,1028.7 406.7,1030.1" fill="none" stroke="#0b1a26" stroke-width="0.7" stroke-opacity="0.85"/>
<polyline points="306.1,1413.8 317.7,1396.3 316.8,1371 328.4,1353.5 327.5,1328.2 339.1,1310.8 338.1,1285.5 349.7,1268 348.8,1242.7 360.4,1225.2 359.4,1200 371.1,1182.5 370.1,1157.2 381.7,1139.7 380.8,1114.4 392.4,1096.9 391.4,1071.7 403,1054.2 402.1,1028.9 408.7,1030.6" fill="none" stroke="#0b1a26" stroke-width="0.7" stroke-opacity="0.85"/>
<polyline points="307.6,1414.2 320.4,1397 318.3,1371.4 331,1354.2 328.9,1328.6 341.6,1311.4 339.5,1285.8 352.2,1268.6 350.1,1243 362.8,1225.8 360.7,1200.3 373.4,1183.1 371.3,1157.5 384,1140.3 381.9,1114.7 394.6,1097.5 392.5,1071.9 405.2,1054.7 403.1,1029.2 410.8,1031.2" fill="none" stroke="#0b1a26" stroke-width="0.7" stroke-opacity="0.85"/>
<polygon points="609,1410.2 613.6,1390.8 619.1,1367.2 623.7,1347.8 629.3,1324.2 633.8,1304.8 639.4,1281.1 644,1261.8 649.5,1238.1 654.1,1218.8 659.7,1195.1 664.2,1175.7 669.8,1152.1 674.4,1132.7 679.9,1109 684.5,1089.7 690.1,1066 694.6,1046.7 700.2,1023 700.2,1023 696.3,1022.1 698.3,1022.5 690.7,1045.7 688.1,1065.6 680.6,1088.8 678,1108.6 670.5,1131.8 667.9,1151.6 660.3,1174.8 657.7,1194.6 650.2,1217.8 647.6,1237.7 640.1,1260.9 637.5,1280.7 629.9,1303.9 627.3,1323.7 619.8,1346.9 617.2,1366.7 609.7,1389.9 607.1,1409.7" fill="#1a4594"/>
<polygon points="607.1,1409.7 609.7,1389.9 617.2,1366.7 619.8,1346.9 627.3,1323.7 629.9,1303.9 637.5,1280.7 640.1,1260.9 647.6,1237.7 650.2,1217.8 657.7,1194.6 660.3,1174.8 667.9,1151.6 670.5,1131.8 678,1108.6 680.6,1088.8 688.1,1065.6 690.7,1045.7 698.3,1022.5 696.3,1022.1 692.4,1021.2 696.3,1022.1 686.8,1044.8 686.2,1065.1 676.7,1087.8 676,1108.1 666.6,1130.9 665.9,1151.1 656.4,1173.9 655.8,1194.2 646.3,1216.9 645.6,1237.2 636.2,1259.9 635.5,1280.2 626,1303 625.4,1323.2 615.9,1346 615.2,1366.3 605.8,1389 605.1,1409.3" fill="#21549f"/>
<polygon points="605.1,1409.3 605.8,1389 615.2,1366.3 615.9,1346 625.4,1323.2 626,1303 635.5,1280.2 636.2,1259.9 645.6,1237.2 646.3,1216.9 655.8,1194.2 656.4,1173.9 665.9,1151.1 666.6,1130.9 676,1108.1 676.7,1087.8 686.2,1065.1 686.8,1044.8 696.3,1022.1 692.4,1021.2 688.5,1020.2 694.4,1021.6 682.9,1043.9 684.2,1064.6 672.8,1086.9 674.1,1107.7 662.7,1130 664,1150.7 652.5,1173 653.8,1193.7 642.4,1216 643.7,1236.7 632.3,1259 633.6,1279.8 622.1,1302 623.4,1322.8 612,1345.1 613.3,1365.8 601.9,1388.1 603.2,1408.8" fill="#2e74b5"/>
<polygon points="603.2,1408.8 601.9,1388.1 613.3,1365.8 612,1345.1 623.4,1322.8 622.1,1302 633.6,1279.8 632.3,1259 643.7,1236.7 642.4,1216 653.8,1193.7 652.5,1173 664,1150.7 662.7,1130 674.1,1107.7 672.8,1086.9 684.2,1064.6 682.9,1043.9 694.4,1021.6 688.5,1020.2 684.6,1019.3 692.4,1021.2 679.1,1043 682.3,1064.2 668.9,1086 672.1,1107.2 658.8,1129 662,1150.2 648.7,1172.1 651.9,1193.3 638.5,1215.1 641.7,1236.3 628.4,1258.1 631.6,1279.3 618.3,1301.1 621.5,1322.3 608.1,1344.1 611.3,1365.3 598,1387.2 601.2,1408.4" fill="#38aedb"/>
<polyline points="607.1,1409.7 609.7,1389.9 617.2,1366.7 619.8,1346.9 627.3,1323.7 629.9,1303.9 637.5,1280.7 640.1,1260.9 647.6,1237.7 650.2,1217.8 657.7,1194.6 660.3,1174.8 667.9,1151.6 670.5,1131.8 678,1108.6 680.6,1088.8 688.1,1065.6 690.7,1045.7 698.3,1022.5 696.3,1022.1" fill="none" stroke="#0b1a26" stroke-width="0.7" stroke-opacity="0.85"/>
<polyline points="605.1,1409.3 605.8,1389 615.2,1366.3 615.9,1346 625.4,1323.2 626,1303 635.5,1280.2 636.2,1259.9 645.6,1237.2 646.3,1216.9 655.8,1194.2 656.4,1173.9 665.9,1151.1 666.6,1130.9 676,1108.1 676.7,1087.8 686.2,1065.1 686.8,1044.8 696.3,1022.1 692.4,1021.2" fill="none" stroke="#0b1a26" stroke-width="0.7" stroke-opacity="0.85"/>
<polyline points="603.2,1408.8 601.9,1388.1 613.3,1365.8 612,1345.1 623.4,1322.8 622.1,1302 633.6,1279.8 632.3,1259 643.7,1236.7 642.4,1216 653.8,1193.7 652.5,1173 664,1150.7 662.7,1130 674.1,1107.7 672.8,1086.9 684.2,1064.6 682.9,1043.9 694.4,1021.6 688.5,1020.2" fill="none" stroke="#0b1a26" stroke-width="0.7" stroke-opacity="0.85"/>
<polyline points="601.2,1408.4 598,1387.2 611.3,1365.3 608.1,1344.1 621.5,1322.3 618.3,1301.1 631.6,1279.3 628.4,1258.1 641.7,1236.3 638.5,1215.1 651.9,1193.3 648.7,1172.1 662,1150.2 658.8,1129 672.1,1107.2 668.9,1086 682.3,1064.2 679.1,1043 692.4,1021.2 684.6,1019.3" fill="none" stroke="#0b1a26" stroke-width="0.7" stroke-opacity="0.85"/>
<polygon points="609.6,1411 607,1415 611,1418 767,1418 767,1420.5 609.6,1420.5 605,1416 607.3,1410.4" fill="#1a4594"/>
<polygon points="607.3,1410.4 605,1416 609.6,1420.5 767,1420.5 767,1423 608.2,1423 603,1417 605,1409.8" fill="#21549f"/>
<polygon points="605,1409.8 603,1417 608.2,1423 767,1423 767,1425.5 606.8,1425.5 601,1418 602.6,1409.2" fill="#2e74b5"/>
<polygon points="602.6,1409.2 601,1418 606.8,1425.5 767,1425.5 767,1428 605.4,1428 599,1419 600.3,1408.6" fill="#38aedb"/>
<polygon points="600.3,1408.6 599,1419 605.4,1428 767,1428 767,1430.5 604,1430.5 597,1420 598,1408" fill="#6ebfc4"/>
<polyline points="607.3,1410.4 605,1416 609.6,1420.5 767,1420.5" fill="none" stroke="#0b1a26" stroke-width="0.7" stroke-opacity="0.85"/>
<polyline points="605,1409.8 603,1417 608.2,1423 767,1423" fill="none" stroke="#0b1a26" stroke-width="0.7" stroke-opacity="0.85"/>
<polyline points="602.6,1409.2 601,1418 606.8,1425.5 767,1425.5" fill="none" stroke="#0b1a26" stroke-width="0.7" stroke-opacity="0.85"/>
<polyline points="600.3,1408.6 599,1419 605.4,1428 767,1428" fill="none" stroke="#0b1a26" stroke-width="0.7" stroke-opacity="0.85"/>
<polyline points="598,1408 597,1420 604,1430.5 767,1430.5" fill="none" stroke="#0b1a26" stroke-width="0.7" stroke-opacity="0.85"/>
<polygon points="140,1020 392,1020 291,1410 140,1410" fill="#1a4594"/>
<polygon points="614.5,1411 707,1020 770,1020 770,1411" fill="#1a4594"/>
<g transform="translate(398.8 1030.9) rotate(-90)"><rect x="-11.9" y="-7.3" width="23.8" height="14.6" fill="#fff"/><text transform="scale(1.2 1)" x="0" y="5.3" text-anchor="middle" font-family='"Liberation Sans", sans-serif' font-size="14.8" fill="#000" stroke="#000" stroke-width="0.25">50</text></g>
<g transform="translate(402 1047) rotate(-90)"><rect x="-11.9" y="-7.3" width="23.8" height="14.6" fill="#fff"/><text transform="scale(1.2 1)" x="0" y="5.3" text-anchor="middle" font-family='"Liberation Sans", sans-serif' font-size="14.8" fill="#000" stroke="#000" stroke-width="0.25">45</text></g>
<g transform="translate(402 1066) rotate(-90)"><rect x="-11.9" y="-7.3" width="23.8" height="14.6" fill="#fff"/><text transform="scale(1.2 1)" x="0" y="5.3" text-anchor="middle" font-family='"Liberation Sans", sans-serif' font-size="14.8" fill="#000" stroke="#000" stroke-width="0.25">40</text></g>
<g transform="translate(420.3 1103.1) rotate(-85)"><rect x="-11.9" y="-7.3" width="23.8" height="14.6" fill="#fff"/><text transform="scale(1.2 1)" x="0" y="5.3" text-anchor="middle" font-family='"Liberation Sans", sans-serif' font-size="14.8" fill="#000" stroke="#000" stroke-width="0.25">55</text></g>
<g transform="translate(457 1066.4) rotate(-75)"><rect x="-11.9" y="-7.3" width="23.8" height="14.6" fill="#fff"/><text transform="scale(1.2 1)" x="0" y="5.3" text-anchor="middle" font-family='"Liberation Sans", sans-serif' font-size="14.8" fill="#000" stroke="#000" stroke-width="0.25">45</text></g>
<g transform="translate(468.8 1082.6) rotate(-65)"><rect x="-11.9" y="-7.3" width="23.8" height="14.6" fill="#fff"/><text transform="scale(1.2 1)" x="0" y="5.3" text-anchor="middle" font-family='"Liberation Sans", sans-serif' font-size="14.8" fill="#000" stroke="#000" stroke-width="0.25">40</text></g>
<g transform="translate(536.8 1050.3) rotate(-88)"><rect x="-11.9" y="-7.3" width="23.8" height="14.6" fill="#fff"/><text transform="scale(1.2 1)" x="0" y="5.3" text-anchor="middle" font-family='"Liberation Sans", sans-serif' font-size="14.8" fill="#000" stroke="#000" stroke-width="0.25">40</text></g>
<g transform="translate(379.4 1138.7) rotate(-90)"><rect x="-11.9" y="-7.3" width="23.8" height="14.6" fill="#fff"/><text transform="scale(1.2 1)" x="0" y="5.3" text-anchor="middle" font-family='"Liberation Sans", sans-serif' font-size="14.8" fill="#000" stroke="#000" stroke-width="0.25">35</text></g>
<g transform="translate(378 1104) rotate(-90)"><rect x="-11.9" y="-7.3" width="23.8" height="14.6" fill="#fff"/><text transform="scale(1.2 1)" x="0" y="5.3" text-anchor="middle" font-family='"Liberation Sans", sans-serif' font-size="14.8" fill="#000" stroke="#000" stroke-width="0.25">25</text></g>
<g transform="translate(424.6 1175.3) rotate(-85)"><rect x="-11.9" y="-7.3" width="23.8" height="14.6" fill="#fff"/><text transform="scale(1.2 1)" x="0" y="5.3" text-anchor="middle" font-family='"Liberation Sans", sans-serif' font-size="14.8" fill="#000" stroke="#000" stroke-width="0.25">50</text></g>
<g transform="translate(474.2 1157) rotate(-55)"><rect x="-11.9" y="-7.3" width="23.8" height="14.6" fill="#fff"/><text transform="scale(1.2 1)" x="0" y="5.3" text-anchor="middle" font-family='"Liberation Sans", sans-serif' font-size="14.8" fill="#000" stroke="#000" stroke-width="0.25">35</text></g>
<g transform="translate(351.3 1245.4) rotate(-90)"><rect x="-11.9" y="-7.3" width="23.8" height="14.6" fill="#fff"/><text transform="scale(1.2 1)" x="0" y="5.3" text-anchor="middle" font-family='"Liberation Sans", sans-serif' font-size="14.8" fill="#000" stroke="#000" stroke-width="0.25">60</text></g>
<g transform="translate(350.3 1279.5) rotate(-90)"><rect x="-11.9" y="-7.3" width="23.8" height="14.6" fill="#fff"/><text transform="scale(1.2 1)" x="0" y="5.3" text-anchor="middle" font-family='"Liberation Sans", sans-serif' font-size="14.8" fill="#000" stroke="#000" stroke-width="0.25">65</text></g>
<g transform="translate(350.3 1283) rotate(-90)"><rect x="-11.9" y="-7.3" width="23.8" height="14.6" fill="#fff"/><text transform="scale(1.2 1)" x="0" y="5.3" text-anchor="middle" font-family='"Liberation Sans", sans-serif' font-size="14.8" fill="#000" stroke="#000" stroke-width="0.25">65</text></g>
<g transform="translate(397.7 1299.3) rotate(90)"><rect x="-11.9" y="-7.3" width="23.8" height="14.6" fill="#fff"/><text transform="scale(1.2 1)" x="0" y="5.3" text-anchor="middle" font-family='"Liberation Sans", sans-serif' font-size="14.8" fill="#000" stroke="#000" stroke-width="0.25">60</text></g>
<g transform="translate(329 1312) rotate(-78)"><rect x="-11.9" y="-7.3" width="23.8" height="14.6" fill="#fff"/><text transform="scale(1.2 1)" x="0" y="5.3" text-anchor="middle" font-family='"Liberation Sans", sans-serif' font-size="14.8" fill="#000" stroke="#000" stroke-width="0.25">50</text></g>
<g transform="translate(325.5 1326) rotate(-78)"><rect x="-11.9" y="-7.3" width="23.8" height="14.6" fill="#fff"/><text transform="scale(1.2 1)" x="0" y="5.3" text-anchor="middle" font-family='"Liberation Sans", sans-serif' font-size="14.8" fill="#000" stroke="#000" stroke-width="0.25">45</text></g>
<g transform="translate(322 1341) rotate(-78)"><rect x="-11.9" y="-7.3" width="23.8" height="14.6" fill="#fff"/><text transform="scale(1.2 1)" x="0" y="5.3" text-anchor="middle" font-family='"Liberation Sans", sans-serif' font-size="14.8" fill="#000" stroke="#000" stroke-width="0.25">40</text></g>
<g transform="translate(454.8 1334.9) rotate(-80)"><rect x="-11.9" y="-7.3" width="23.8" height="14.6" fill="#fff"/><text transform="scale(1.2 1)" x="0" y="5.3" text-anchor="middle" font-family='"Liberation Sans", sans-serif' font-size="14.8" fill="#000" stroke="#000" stroke-width="0.25">30</text></g>
<g transform="translate(420.3 1352.1) rotate(-80)"><rect x="-11.9" y="-7.3" width="23.8" height="14.6" fill="#fff"/><text transform="scale(1.2 1)" x="0" y="5.3" text-anchor="middle" font-family='"Liberation Sans", sans-serif' font-size="14.8" fill="#000" stroke="#000" stroke-width="0.25">45</text></g>
<g transform="translate(427.9 1360.8) rotate(-75)"><rect x="-11.9" y="-7.3" width="23.8" height="14.6" fill="#fff"/><text transform="scale(1.2 1)" x="0" y="5.3" text-anchor="middle" font-family='"Liberation Sans", sans-serif' font-size="14.8" fill="#000" stroke="#000" stroke-width="0.25">40</text></g>
<g transform="translate(399.8 1391) rotate(-75)"><rect x="-11.9" y="-7.3" width="23.8" height="14.6" fill="#fff"/><text transform="scale(1.2 1)" x="0" y="5.3" text-anchor="middle" font-family='"Liberation Sans", sans-serif' font-size="14.8" fill="#000" stroke="#000" stroke-width="0.25">55</text></g>
<g transform="translate(303.9 1407.5) rotate(85)"><rect x="-11.9" y="-7.3" width="23.8" height="14.6" fill="#fff"/><text transform="scale(1.2 1)" x="0" y="5.3" text-anchor="middle" font-family='"Liberation Sans", sans-serif' font-size="14.8" fill="#000" stroke="#000" stroke-width="0.25">35</text></g>
<g transform="translate(312.5 1369.4) rotate(-60)"><rect x="-11.9" y="-7.3" width="23.8" height="14.6" fill="#fff"/><text transform="scale(1.2 1)" x="0" y="5.3" text-anchor="middle" font-family='"Liberation Sans", sans-serif' font-size="14.8" fill="#000" stroke="#000" stroke-width="0.25">55</text></g>
<g transform="translate(540 1334.9) rotate(90)"><rect x="-11.9" y="-7.3" width="23.8" height="14.6" fill="#fff"/><text transform="scale(1.2 1)" x="0" y="5.3" text-anchor="middle" font-family='"Liberation Sans", sans-serif' font-size="14.8" fill="#000" stroke="#000" stroke-width="0.25">40</text></g>
<g transform="translate(527 1406) rotate(75)"><rect x="-11.9" y="-7.3" width="23.8" height="14.6" fill="#fff"/><text transform="scale(1.2 1)" x="0" y="5.3" text-anchor="middle" font-family='"Liberation Sans", sans-serif' font-size="14.8" fill="#000" stroke="#000" stroke-width="0.25">35</text></g>
<g transform="translate(591.5 1190.4) rotate(-65)"><rect x="-11.9" y="-7.3" width="23.8" height="14.6" fill="#fff"/><text transform="scale(1.2 1)" x="0" y="5.3" text-anchor="middle" font-family='"Liberation Sans", sans-serif' font-size="14.8" fill="#000" stroke="#000" stroke-width="0.25">45</text></g>
<g transform="translate(655.1 1138.7) rotate(90)"><rect x="-11.9" y="-7.3" width="23.8" height="14.6" fill="#fff"/><text transform="scale(1.2 1)" x="0" y="5.3" text-anchor="middle" font-family='"Liberation Sans", sans-serif' font-size="14.8" fill="#000" stroke="#000" stroke-width="0.25">40</text></g>
<g transform="translate(673.5 1108.5) rotate(-80)"><rect x="-11.9" y="-7.3" width="23.8" height="14.6" fill="#fff"/><text transform="scale(1.2 1)" x="0" y="5.3" text-anchor="middle" font-family='"Liberation Sans", sans-serif' font-size="14.8" fill="#000" stroke="#000" stroke-width="0.25">35</text></g>
<g transform="translate(677 1095) rotate(-80)"><rect x="-11.9" y="-7.3" width="23.8" height="14.6" fill="#fff"/><text transform="scale(1.2 1)" x="0" y="5.3" text-anchor="middle" font-family='"Liberation Sans", sans-serif' font-size="14.8" fill="#000" stroke="#000" stroke-width="0.25">30</text></g>
<g transform="translate(697 1063) rotate(-60)"><rect x="-11.9" y="-7.3" width="23.8" height="14.6" fill="#fff"/><text transform="scale(1.2 1)" x="0" y="5.3" text-anchor="middle" font-family='"Liberation Sans", sans-serif' font-size="14.8" fill="#000" stroke="#000" stroke-width="0.25">25</text></g>
<g transform="translate(620.6 1332.7) rotate(-65)"><rect x="-11.9" y="-7.3" width="23.8" height="14.6" fill="#fff"/><text transform="scale(1.2 1)" x="0" y="5.3" text-anchor="middle" font-family='"Liberation Sans", sans-serif' font-size="14.8" fill="#000" stroke="#000" stroke-width="0.25">25</text></g>
<g transform="translate(603.4 1369.4) rotate(-85)"><rect x="-11.9" y="-7.3" width="23.8" height="14.6" fill="#fff"/><text transform="scale(1.2 1)" x="0" y="5.3" text-anchor="middle" font-family='"Liberation Sans", sans-serif' font-size="14.8" fill="#000" stroke="#000" stroke-width="0.25">35</text></g>
<g transform="translate(606.6 1388.8) rotate(90)"><rect x="-11.9" y="-7.3" width="23.8" height="14.6" fill="#fff"/><text transform="scale(1.2 1)" x="0" y="5.3" text-anchor="middle" font-family='"Liberation Sans", sans-serif' font-size="14.8" fill="#000" stroke="#000" stroke-width="0.25">30</text></g>
<g transform="translate(599 1408.2) rotate(90)"><rect x="-11.9" y="-7.3" width="23.8" height="14.6" fill="#fff"/><text transform="scale(1.2 1)" x="0" y="5.3" text-anchor="middle" font-family='"Liberation Sans", sans-serif' font-size="14.8" fill="#000" stroke="#000" stroke-width="0.25">40</text></g>
<g transform="translate(156.4 1431.5) rotate(0)"><rect x="-11.9" y="-7.3" width="23.8" height="14.6" fill="#fff"/><text transform="scale(1.2 1)" x="0" y="5.3" text-anchor="middle" font-family='"Liberation Sans", sans-serif' font-size="14.8" fill="#000" stroke="#000" stroke-width="0.25">65</text></g>
<g transform="translate(193.1 1430.5) rotate(0)"><rect x="-11.9" y="-7.3" width="23.8" height="14.6" fill="#fff"/><text transform="scale(1.2 1)" x="0" y="5.3" text-anchor="middle" font-family='"Liberation Sans", sans-serif' font-size="14.8" fill="#000" stroke="#000" stroke-width="0.25">60</text></g>
<g transform="translate(268.4 1470.1) rotate(-8)"><rect x="-11.9" y="-7.3" width="23.8" height="14.6" fill="#fff"/><text transform="scale(1.2 1)" x="0" y="5.3" text-anchor="middle" font-family='"Liberation Sans", sans-serif' font-size="14.8" fill="#000" stroke="#000" stroke-width="0.25">70</text></g>
<g transform="translate(341.8 1459.5) rotate(-55)"><rect x="-11.9" y="-7.3" width="23.8" height="14.6" fill="#fff"/><text transform="scale(1.2 1)" x="0" y="5.3" text-anchor="middle" font-family='"Liberation Sans", sans-serif' font-size="14.8" fill="#000" stroke="#000" stroke-width="0.25">65</text></g>
<g transform="translate(377.5 1456.6) rotate(-60)"><rect x="-11.9" y="-7.3" width="23.8" height="14.6" fill="#fff"/><text transform="scale(1.2 1)" x="0" y="5.3" text-anchor="middle" font-family='"Liberation Sans", sans-serif' font-size="14.8" fill="#000" stroke="#000" stroke-width="0.25">50</text></g>
<g transform="translate(417.1 1442.1) rotate(-65)"><rect x="-11.9" y="-7.3" width="23.8" height="14.6" fill="#fff"/><text transform="scale(1.2 1)" x="0" y="5.3" text-anchor="middle" font-family='"Liberation Sans", sans-serif' font-size="14.8" fill="#000" stroke="#000" stroke-width="0.25">35</text></g>
<g transform="translate(230.8 1520.3) rotate(-5)"><rect x="-11.9" y="-7.3" width="23.8" height="14.6" fill="#fff"/><text transform="scale(1.2 1)" x="0" y="5.3" text-anchor="middle" font-family='"Liberation Sans", sans-serif' font-size="14.8" fill="#000" stroke="#000" stroke-width="0.25">60</text></g>
<g transform="translate(211.4 1560.9) rotate(-3)"><rect x="-11.9" y="-7.3" width="23.8" height="14.6" fill="#fff"/><text transform="scale(1.2 1)" x="0" y="5.3" text-anchor="middle" font-family='"Liberation Sans", sans-serif' font-size="14.8" fill="#000" stroke="#000" stroke-width="0.25">45</text></g>
<g transform="translate(230.8 1570.5) rotate(-8)"><rect x="-11.9" y="-7.3" width="23.8" height="14.6" fill="#fff"/><text transform="scale(1.2 1)" x="0" y="5.3" text-anchor="middle" font-family='"Liberation Sans", sans-serif' font-size="14.8" fill="#000" stroke="#000" stroke-width="0.25">40</text></g>
<g transform="translate(306 1587) rotate(-20)"><rect x="-11.9" y="-7.3" width="23.8" height="14.6" fill="#fff"/><text transform="scale(1.2 1)" x="0" y="5.3" text-anchor="middle" font-family='"Liberation Sans", sans-serif' font-size="14.8" fill="#000" stroke="#000" stroke-width="0.25">30</text></g>
<g transform="translate(379.4 1564.7) rotate(-50)"><rect x="-11.9" y="-7.3" width="23.8" height="14.6" fill="#fff"/><text transform="scale(1.2 1)" x="0" y="5.3" text-anchor="middle" font-family='"Liberation Sans", sans-serif' font-size="14.8" fill="#000" stroke="#000" stroke-width="0.25">25</text></g>
<g transform="translate(642.7 1430.5) rotate(0)"><rect x="-11.9" y="-7.3" width="23.8" height="14.6" fill="#fff"/><text transform="scale(1.2 1)" x="0" y="5.3" text-anchor="middle" font-family='"Liberation Sans", sans-serif' font-size="14.8" fill="#000" stroke="#000" stroke-width="0.25">45</text></g>
<g transform="translate(698.7 1462.4) rotate(20)"><rect x="-11.9" y="-7.3" width="23.8" height="14.6" fill="#fff"/><text transform="scale(1.2 1)" x="0" y="5.3" text-anchor="middle" font-family='"Liberation Sans", sans-serif' font-size="14.8" fill="#000" stroke="#000" stroke-width="0.25">50</text></g>
<g transform="translate(512.4 1459.5) rotate(65)"><rect x="-11.9" y="-7.3" width="23.8" height="14.6" fill="#fff"/><text transform="scale(1.2 1)" x="0" y="5.3" text-anchor="middle" font-family='"Liberation Sans", sans-serif' font-size="14.8" fill="#000" stroke="#000" stroke-width="0.25">25</text></g>
<g transform="translate(568.4 1496.2) rotate(40)"><rect x="-11.9" y="-7.3" width="23.8" height="14.6" fill="#fff"/><text transform="scale(1.2 1)" x="0" y="5.3" text-anchor="middle" font-family='"Liberation Sans", sans-serif' font-size="14.8" fill="#000" stroke="#000" stroke-width="0.25">30</text></g>
<g transform="translate(736.4 1542.5) rotate(10)"><rect x="-11.9" y="-7.3" width="23.8" height="14.6" fill="#fff"/><text transform="scale(1.2 1)" x="0" y="5.3" text-anchor="middle" font-family='"Liberation Sans", sans-serif' font-size="14.8" fill="#000" stroke="#000" stroke-width="0.25">40</text></g>
</g>
<polyline points="146,1409.5 291,1409.5" fill="none" stroke="#050505" stroke-width="10" stroke-linecap="round" stroke-linejoin="round"/>
<polyline points="291,1409.5 390.3,1026" fill="none" stroke="#050505" stroke-width="11.3" stroke-linecap="round" stroke-linejoin="round"/>
<polyline points="761,1413.2 615,1413.2" fill="none" stroke="#050505" stroke-width="10.3" stroke-linecap="round" stroke-linejoin="round"/>
<polyline points="615,1412 706,1025.5" fill="none" stroke="#050505" stroke-width="11.3" stroke-linecap="round" stroke-linejoin="round"/>
<g stroke="#0a0a0a" fill="none">
<path d="M142.9 1022.5V1735.5H765.5" stroke-width="3.9" stroke-linejoin="miter"/>
<path d="M142.9 1735.5v-18.5" stroke-width="3.3"/>
<path d="M187.4 1735.5v-11" stroke-width="1.3"/>
<path d="M231.9 1735.5v-11" stroke-width="1.3"/>
<path d="M276.4 1735.5v-11" stroke-width="1.3"/>
<path d="M321 1735.5v-18.5" stroke-width="3.3"/>
<path d="M365.5 1735.5v-11" stroke-width="1.3"/>
<path d="M410 1735.5v-11" stroke-width="1.3"/>
<path d="M454.5 1735.5v-11" stroke-width="1.3"/>
<path d="M499 1735.5v-18.5" stroke-width="3.3"/>
<path d="M543.5 1735.5v-11" stroke-width="1.3"/>
<path d="M588 1735.5v-11" stroke-width="1.3"/>
<path d="M632.6 1735.5v-11" stroke-width="1.3"/>
<path d="M677.1 1735.5v-18.5" stroke-width="3.3"/>
<path d="M721.6 1735.5v-11" stroke-width="1.3"/>
<path d="M766.1 1735.5v-11" stroke-width="1.3"/>
<path d="M142.9 1735.5h18.5" stroke-width="3.3"/>
<path d="M142.9 1691h11" stroke-width="1.3"/>
<path d="M142.9 1646.5h11" stroke-width="1.3"/>
<path d="M142.9 1602h11" stroke-width="1.3"/>
<path d="M142.9 1557.5h18.5" stroke-width="3.3"/>
<path d="M142.9 1513h11" stroke-width="1.3"/>
<path d="M142.9 1468.5h11" stroke-width="1.3"/>
<path d="M142.9 1424h11" stroke-width="1.3"/>
<path d="M142.9 1379.5h18.5" stroke-width="3.3"/>
<path d="M142.9 1335h11" stroke-width="1.3"/>
<path d="M142.9 1290.5h11" stroke-width="1.3"/>
<path d="M142.9 1246h11" stroke-width="1.3"/>
<path d="M142.9 1201.5h18.5" stroke-width="3.3"/>
<path d="M142.9 1157h11" stroke-width="1.3"/>
<path d="M142.9 1112.5h11" stroke-width="1.3"/>
<path d="M142.9 1068h11" stroke-width="1.3"/>
<path d="M142.9 1023.5h18.5" stroke-width="3.3"/>
</g>
<g stroke="#e6211c" stroke-width="4.4" fill="none" stroke-dasharray="19.2 15.2">
<path d="M355 1277.3H754.5"/>
<path d="M334 1411.4H766"/>
</g>
<path d="M729.3 1289.2V1400" stroke="#e6211c" stroke-width="5"/>
<path d="M729.3 1277.6l7.2 12.6h-14.4z M729.3 1411.6l7.2 -12.6h-14.4z" fill="#e6211c"/>
<g font-family='"Liberation Serif", "Noto Serif CJK SC", serif' fill="#1c1614" font-size="63">
<text x="126.5" y="1040" text-anchor="end">12</text>
<text x="126.5" y="1214.9" text-anchor="end">10</text>
<text x="126.5" y="1389.8" text-anchor="end">8</text>
<text x="126.5" y="1564.7" text-anchor="end">6</text>
<text x="126.5" y="1739.6" text-anchor="end">4</text>
<text x="144.9" y="1792.3" text-anchor="middle">118</text>
<text x="323" y="1792.3" text-anchor="middle">120</text>
<text x="501" y="1792.3" text-anchor="middle">122</text>
<text x="679.1" y="1792.3" text-anchor="middle">124</text>
<text x="415" y="1856.6" text-anchor="middle"><tspan font-style="italic">X</tspan>/m</text>
<text transform="translate(60.3 1377) rotate(-90)" text-anchor="middle"><tspan font-style="italic">Y</tspan>/m</text>
<text transform="translate(822 1362) rotate(-90)" text-anchor="middle">1.56 m</text>
<text x="407" y="1928.2" text-anchor="middle" font-size="63">(c) <tspan font-style="italic" dx="4">θ</tspan><tspan dx="-6">=</tspan><tspan dx="-3">75°</tspan></text>
</g>
<!-- panel pd -->
<clipPath id="clip3"><rect x="1062.5" y="1023.3" width="619.2" height="713.1"/></clipPath>
<g clip-path="url(#clip3)">
<rect x="1062.5" y="1023.3" width="619.2" height="713.1" fill="#1a4594"/>
<path d="M1061 1687.4 C1067.3 1686.1 1087.5 1682.8 1098.6 1679.6 C1109.7 1676.4 1117.9 1672.2 1127.6 1668 C1137.2 1663.8 1146.8 1659.3 1156.5 1654.5 C1166.2 1649.7 1177.5 1643.3 1185.5 1639.1 C1193.5 1634.9 1195.5 1635.9 1204.8 1629.4 C1214.1 1622.9 1232.9 1607.7 1241.6 1600 C1250.3 1592.3 1251.8 1588.6 1256.9 1583.1 C1262 1577.5 1266.9 1572.7 1272.2 1566.7 C1277.5 1560.7 1283.6 1553.4 1288.6 1547.3 C1293.5 1541.2 1297.8 1535.3 1301.9 1530 C1306 1524.7 1309.2 1521.1 1313.1 1515.6 C1317 1510.1 1321.3 1504.3 1325.4 1497.2 C1329.5 1490.1 1334.5 1479.7 1337.6 1472.7 C1340.7 1465.7 1341.7 1461.2 1343.8 1455.3 C1345.9 1449.3 1348.2 1443.8 1350 1437 C1351.8 1430.2 1353 1421.8 1354.5 1414.8 C1356 1407.8 1357.4 1401.5 1359 1395 C1360.6 1388.5 1361.8 1382.8 1364 1376 C1366.2 1369.2 1369.3 1360.4 1372.5 1354.3 C1375.7 1348.2 1381.5 1341.7 1383.3 1339.2 L1383.3 1339.2 C1384.4 1341.7 1387.6 1348.8 1389.7 1354.3 C1391.8 1359.8 1393.9 1366 1396 1372 C1398.1 1378 1400.5 1384.4 1402.5 1390 C1404.5 1395.6 1405.7 1399 1408.3 1405.4 C1410.9 1411.8 1414.4 1420.9 1417.9 1428.6 C1421.4 1436.3 1425.3 1444.4 1429.5 1451.8 C1433.7 1459.2 1437.8 1465.9 1443 1473 C1448.2 1480.1 1454.3 1487.5 1460.4 1494.3 C1466.5 1501.1 1472.6 1507.5 1479.7 1513.6 C1486.8 1519.7 1497.1 1526.8 1502.9 1531 C1508.7 1535.2 1509.3 1535.2 1514.5 1538.7 C1519.7 1542.2 1525.8 1547.4 1533.8 1552.2 C1541.8 1557 1553 1563.1 1562.7 1567.6 C1572.4 1572.1 1582 1576 1591.7 1579.2 C1601.4 1582.4 1611.1 1584.4 1620.7 1587 C1630.3 1589.6 1639.2 1592.2 1649.6 1594.7 C1660 1597.2 1677.4 1600.8 1683 1602 L1740 1602 C1740 1498.3 1860 1083.7 1740 980 C1620 876.3 1140 862.1 1020 980 C900 1097.9 1020 1569.5 1020 1687.4 Z" fill="#21549f" stroke="#08131c" stroke-width="1.35" stroke-linejoin="round" stroke-dasharray="12 2.2"/>
<path d="M1061 1609.2 C1068.9 1608.9 1094 1608.7 1108.3 1607.2 C1122.6 1605.8 1136.6 1602.6 1146.9 1600.5 C1157.2 1598.4 1164.1 1596.2 1170 1594.7 C1175.9 1593.2 1178 1592.7 1182.3 1591.3 C1186.6 1589.9 1190 1588.8 1195.6 1586.2 C1201.2 1583.7 1209.2 1579.9 1216 1576 C1222.8 1572.1 1229.9 1567.1 1236.4 1562.7 C1242.9 1558.3 1248.7 1554.5 1254.8 1549.4 C1260.9 1544.3 1267.6 1537.8 1273.2 1532 C1278.8 1526.2 1283.8 1520.4 1288.6 1514.6 C1293.4 1508.8 1297.8 1502.8 1301.9 1497.2 C1306 1491.6 1309.4 1487 1313.1 1480.9 C1316.8 1474.8 1321.1 1467.2 1324.3 1460.4 C1327.5 1453.6 1330.3 1447.6 1332.5 1440 C1334.7 1432.4 1336 1422.3 1337.6 1414.8 C1339.2 1407.3 1340.6 1402.1 1342 1395 C1343.4 1387.9 1344.9 1379.5 1346 1372 C1347.1 1364.5 1348 1359.1 1348.8 1350 C1349.6 1340.9 1349.8 1328.4 1350.9 1317.6 C1352 1306.8 1353.8 1296.1 1355.2 1285.3 C1356.7 1274.5 1358 1260.7 1359.6 1253 C1361.2 1245.3 1364 1241.3 1364.9 1239 L1364.9 1239 C1366.2 1240.2 1369.4 1243.1 1372.5 1246.5 C1375.6 1249.9 1380.1 1252.9 1383.3 1259.4 C1386.5 1265.9 1389 1275.6 1391.9 1285.3 C1394.8 1295 1397.6 1306.8 1400.5 1317.6 C1403.4 1328.4 1406.6 1341 1409.1 1350 C1411.6 1359 1413.5 1364.8 1415.6 1371.5 C1417.7 1378.2 1419.8 1384.3 1421.8 1390 C1423.8 1395.7 1425 1399 1427.6 1405.4 C1430.2 1411.8 1433.7 1420.9 1437.2 1428.6 C1440.7 1436.3 1444.6 1444.4 1448.8 1451.8 C1453 1459.2 1457.1 1466.2 1462.3 1473 C1467.5 1479.8 1473.6 1486.2 1479.7 1492.3 C1485.8 1498.4 1491.9 1504.2 1499 1509.7 C1506.1 1515.2 1513.8 1520.4 1522.2 1525.2 C1530.6 1530 1540.2 1534.5 1549.2 1538.7 C1558.2 1542.9 1567.3 1546.8 1576.3 1550.3 C1585.3 1553.8 1594.3 1557.1 1603.3 1560 C1612.3 1562.9 1621 1565.4 1630.3 1567.6 C1639.6 1569.8 1650.5 1571.8 1659.3 1573.4 C1668.1 1575 1679 1576.7 1683 1577.3 L1740 1577.3 C1740 1477.8 1860 1079.5 1740 980 C1620 880.5 1140 875.1 1020 980 C900 1084.9 1020 1504.3 1020 1609.2 Z" fill="#2e74b5" stroke="#08131c" stroke-width="1.35" stroke-linejoin="round" stroke-dasharray="12 2.2"/>
<path d="M1061 1590.8 C1067 1590.3 1084 1589.4 1096.7 1587.9 C1109.4 1586.4 1125 1584.2 1137.2 1582 C1149.4 1579.8 1162.8 1576.6 1170 1574.9 C1177.2 1573.2 1175.4 1573.6 1180.2 1571.9 C1185 1570.2 1192.3 1567.4 1198.6 1564.7 C1204.9 1562 1211.7 1558.9 1218 1555.5 C1224.3 1552.1 1230.4 1548.2 1236.4 1544.3 C1242.4 1540.4 1248.3 1536.4 1253.8 1532 C1259.3 1527.6 1264.4 1522.5 1269.2 1517.7 C1274 1512.9 1278.3 1508.2 1282.4 1503.4 C1286.5 1498.6 1290.1 1494 1293.7 1489.1 C1297.3 1484.1 1300.7 1479 1303.9 1473.7 C1307.1 1468.4 1310.4 1463 1313.1 1457.4 C1315.8 1451.8 1317.8 1447.1 1320.3 1440 C1322.8 1432.9 1325.9 1422.6 1328 1414.8 C1330.1 1407 1331.2 1401.3 1333 1393 C1334.8 1384.7 1337.1 1373.8 1339 1365 C1340.9 1356.2 1343.2 1347.9 1344.5 1340 C1345.8 1332.1 1346.6 1326.7 1346.6 1317.6 C1346.6 1308.5 1345.6 1296.1 1344.5 1285.3 C1343.4 1274.5 1341.5 1263.8 1340.1 1253 C1338.6 1242.2 1336.9 1231.4 1335.8 1220.6 C1334.7 1209.8 1333.7 1198.4 1333.7 1188.3 C1333.7 1178.2 1334 1167.8 1335.8 1160.2 C1337.6 1152.7 1343 1145.9 1344.5 1143 L1363.9 1147.3 C1366.1 1150.9 1372.8 1161 1376.8 1168.9 C1380.8 1176.8 1384 1185.4 1387.6 1194.7 C1391.2 1204 1394.8 1214.1 1398.4 1224.9 C1402 1235.7 1405.5 1247.5 1409.1 1259.4 C1412.7 1271.3 1416.7 1284.6 1419.9 1296.1 C1423.1 1307.6 1426.2 1319.8 1428.5 1328.4 C1430.8 1337.1 1432.3 1341.1 1434 1348 C1435.7 1354.9 1437.2 1363 1438.5 1370 C1439.8 1377 1440.8 1383.5 1442 1390 C1443.2 1396.5 1444.2 1403.2 1446 1409.3 C1447.8 1415.4 1449.7 1420.2 1452.7 1426.7 C1455.8 1433.2 1460.1 1441.2 1464.3 1448 C1468.5 1454.8 1472.6 1460.8 1477.8 1467.2 C1483 1473.6 1489.1 1480.7 1495.2 1486.5 C1501.3 1492.3 1507.4 1497.2 1514.5 1502 C1521.6 1506.8 1529.2 1511 1537.6 1515.5 C1546 1520 1555.7 1524.8 1564.7 1529 C1573.7 1533.2 1582.4 1537 1591.7 1540.6 C1601 1544.1 1611.1 1547.4 1620.7 1550.3 C1630.3 1553.2 1639.2 1555.8 1649.6 1558 C1660 1560.2 1677.4 1562.8 1683 1563.8 L1740 1563.8 C1740 1466.5 1860 1077.3 1740 980 C1620 882.7 1140 878.2 1020 980 C900 1081.8 1020 1489 1020 1590.8 Z" fill="#38aedb" stroke="#08131c" stroke-width="1.35" stroke-linejoin="round" stroke-dasharray="12 2.2"/>
<path d="M1061 1576.3 C1069.8 1575.5 1100.1 1573 1114.1 1571.5 C1128.1 1570 1135.7 1568.8 1145 1567.5 C1154.3 1566.2 1162.1 1565.5 1170 1563.7 C1177.9 1561.9 1185.7 1558.9 1192.5 1556.5 C1199.3 1554.1 1204.8 1552.3 1210.9 1549.4 C1217 1546.5 1223.5 1542.8 1229.3 1539.2 C1235.1 1535.6 1240.5 1531.8 1245.6 1527.9 C1250.7 1524 1255.6 1519.7 1260 1515.6 C1264.4 1511.5 1268.5 1507.5 1272.2 1503.4 C1275.9 1499.3 1279 1495.5 1282.4 1491.1 C1285.8 1486.7 1289.3 1481.9 1292.7 1476.8 C1296.1 1471.7 1299.6 1466.5 1302.9 1460.4 C1306.2 1454.3 1309.5 1447.6 1312.6 1440 C1315.6 1432.4 1319 1422.3 1321.2 1414.8 C1323.4 1407.3 1324.5 1402.1 1326 1395 C1327.5 1387.9 1329.1 1381.2 1330 1372 C1330.9 1362.8 1331.5 1352 1331.5 1340 C1331.5 1328 1331.1 1316.3 1330 1300 C1328.9 1283.7 1326.5 1257.2 1325 1242.2 C1323.5 1227.2 1322.1 1220.6 1320.7 1209.8 C1319.3 1199 1317.8 1188.3 1316.4 1177.5 C1315 1166.7 1313.5 1155.9 1312.1 1145.1 C1310.7 1134.3 1308.9 1123 1307.8 1112.8 C1306.7 1102.6 1305.6 1092.7 1305.6 1083.7 C1305.6 1074.7 1307.1 1067 1307.8 1058.9 C1308.5 1050.8 1306.8 1041.3 1310 1035.2 C1313.2 1029.1 1324.3 1024.6 1327.2 1022.5 L1327.2 1022.5 C1330.4 1024.6 1340.8 1029.1 1346.6 1035.2 C1352.3 1041.3 1357 1051.4 1361.7 1058.9 C1366.4 1066.5 1370.6 1071.5 1374.6 1080.5 C1378.5 1089.5 1382.2 1102 1385.4 1112.8 C1388.6 1123.6 1391.1 1134.3 1394 1145.1 C1396.9 1155.9 1399.8 1168.5 1402.7 1177.5 C1405.6 1186.5 1407.7 1191.1 1411.3 1199 C1414.9 1206.9 1419.9 1214.1 1424.2 1224.9 C1428.5 1235.7 1433.2 1250 1437.2 1263.7 C1441.2 1277.4 1444.4 1292.5 1448 1306.9 C1451.6 1321.3 1455.9 1337 1458.7 1350 C1461.5 1363 1463.1 1374.5 1465 1385 C1466.9 1395.5 1468.2 1405.3 1470 1413.2 C1471.8 1421.1 1473.3 1426.4 1475.9 1432.5 C1478.5 1438.6 1481.7 1444.1 1485.5 1449.9 C1489.3 1455.7 1493.8 1461.7 1499 1467.2 C1504.2 1472.7 1509.6 1477.6 1516.4 1482.7 C1523.2 1487.8 1531.5 1493.6 1539.6 1498.1 C1547.6 1502.6 1556 1505.8 1564.7 1509.7 C1573.4 1513.6 1582.4 1517.8 1591.7 1521.3 C1601 1524.8 1611.1 1528.1 1620.7 1531 C1630.3 1533.9 1639.2 1536.5 1649.6 1538.7 C1660 1541 1677.4 1543.5 1683 1544.5 L1740 1544.5 C1740 1450.4 1860 1074.1 1740 980 C1620 885.9 1140 880.6 1020 980 C900 1079.4 1020 1476.9 1020 1576.3 Z" fill="#6ebfc4" stroke="#08131c" stroke-width="1.35" stroke-linejoin="round" stroke-dasharray="12 2.2"/>
<path d="M1061 1564.7 C1070.5 1563.8 1103.9 1560.9 1117.9 1559.5 C1131.9 1558.1 1136.3 1557.5 1145 1556.5 C1153.7 1555.5 1162.4 1555 1170 1553.5 C1177.6 1552 1183.9 1549.5 1190.4 1547.3 C1196.9 1545.1 1202.8 1542.9 1208.8 1540.2 C1214.8 1537.5 1220.7 1534.2 1226.2 1531 C1231.7 1527.8 1236.8 1524.3 1241.6 1520.7 C1246.4 1517.1 1250.5 1513.4 1254.8 1509.5 C1259 1505.6 1263.3 1501.3 1267.1 1497.2 C1270.8 1493.1 1273.9 1489.4 1277.3 1485 C1280.7 1480.6 1284.3 1475.8 1287.6 1470.7 C1290.8 1465.6 1293.7 1459.9 1296.8 1454.3 C1299.9 1448.7 1303 1443.6 1306 1437 C1309 1430.4 1312.2 1421.8 1314.5 1414.8 C1316.8 1407.8 1318.2 1402.1 1320 1395 C1321.8 1387.9 1323.8 1381.2 1325 1372 C1326.2 1362.8 1327.1 1352 1327.2 1340 C1327.3 1328 1326.8 1314.5 1325.5 1300 C1324.2 1285.5 1321.6 1266.2 1319.7 1253 C1317.8 1239.8 1316.3 1231.4 1314.3 1220.6 C1312.3 1209.8 1310.1 1199.1 1307.8 1188.3 C1305.5 1177.5 1302.8 1168.5 1300.3 1155.9 C1297.8 1143.3 1295 1125.4 1292.7 1112.8 C1290.4 1100.2 1288.4 1091.3 1286.2 1080.5 C1284 1069.7 1281.8 1057.6 1279.8 1048.1 C1277.8 1038.6 1275.5 1028.8 1274.4 1023.3 C1273.3 1017.8 1273.2 1016.4 1273 1015 L1020 980 L1020 1564.7 Z" fill="#67b78e" stroke="#08131c" stroke-width="1.35" stroke-linejoin="round" stroke-dasharray="12 2.2"/>
<path d="M1439.3 1080.5 C1438.2 1083 1433.6 1086.6 1432.9 1095.6 C1432.2 1104.6 1433.2 1120.8 1435 1134.4 C1436.8 1148.1 1440.4 1164.9 1443.6 1177.5 C1446.8 1190.1 1450.8 1199 1454.4 1209.8 C1458 1220.6 1461.6 1231.4 1465.2 1242.2 C1468.8 1253 1472 1264.8 1476 1274.5 C1480 1284.2 1484.6 1293.6 1488.9 1300.4 C1493.2 1307.2 1498 1311.9 1501.9 1315.5 C1505.9 1319.1 1510.8 1320.9 1512.6 1322 L1512.6 1322 C1513 1319.5 1514.1 1320.2 1514.8 1306.9 C1515.5 1293.6 1516.8 1263.8 1517 1242.2 C1517.2 1220.6 1516.5 1196.9 1515.9 1177.5 C1515.4 1158.1 1514.1 1134.3 1513.7 1125.7 L1513.7 1125.7 C1511.7 1125.3 1507.5 1126.1 1501.9 1123.6 C1496.3 1121.1 1487.5 1116 1480.3 1110.6 C1473.1 1105.2 1465.5 1096.2 1458.7 1091.2 C1451.9 1086.2 1442.5 1082.3 1439.3 1080.5 Z" fill="#67b78e" stroke="#08131c" stroke-width="1.35" stroke-linejoin="round" stroke-dasharray="12 2.2"/>
<path d="M1516.4 1432.5 C1516.6 1435.7 1515.5 1446 1517.4 1451.8 C1519.3 1457.6 1523.7 1463 1528 1467.2 C1532.3 1471.4 1536.7 1473.4 1543.4 1476.9 C1550.2 1480.5 1559.8 1485 1568.5 1488.5 C1577.2 1492 1586.3 1495.2 1595.6 1498.1 C1604.9 1501 1614.8 1503.5 1624.5 1505.9 C1634.2 1508.3 1643.8 1510.7 1653.5 1512.6 C1663.2 1514.5 1678.1 1516.6 1683 1517.4 L1740 1517.4 L1740 1432.5 Z" fill="#67b78e" stroke="#08131c" stroke-width="1.35" stroke-linejoin="round" stroke-dasharray="12 2.2"/>
<path d="M1061 1553.2 C1070.5 1552.4 1103.9 1549.7 1117.9 1548.4 C1131.9 1547.1 1136.3 1546.5 1145 1545.5 C1153.7 1544.5 1162.9 1543.4 1170 1542.2 C1177.1 1541 1181.6 1539.8 1187.4 1538.1 C1193.2 1536.4 1199.2 1534.4 1204.8 1532 C1210.4 1529.6 1216 1526.7 1221.1 1523.8 C1226.2 1520.9 1230.8 1518 1235.4 1514.6 C1240 1511.2 1244.6 1507.2 1248.7 1503.4 C1252.8 1499.7 1256.4 1495.8 1260 1492.1 C1263.6 1488.3 1267 1484.8 1270.2 1480.9 C1273.4 1477 1276.5 1472.9 1279.4 1468.6 C1282.3 1464.3 1284.8 1460.4 1287.6 1455.3 C1290.4 1450.2 1293.4 1444.8 1296.5 1438 C1299.6 1431.2 1303.7 1422 1306.3 1414.8 C1308.9 1407.6 1310.2 1402.1 1312 1395 C1313.8 1387.9 1315.7 1380.3 1317 1372 C1318.3 1363.7 1319.6 1355.8 1319.7 1345 C1319.8 1334.2 1318.6 1319.4 1317.5 1306.9 C1316.4 1294.4 1314.8 1281.7 1313.2 1270.2 C1311.6 1258.7 1309.8 1248.7 1307.8 1237.9 C1305.8 1227.1 1303.8 1216.3 1301.3 1205.5 C1298.8 1194.7 1295.6 1184.3 1292.7 1173.2 C1289.8 1162.1 1287.1 1150.2 1284.1 1138.7 C1281 1127.2 1277.6 1114.6 1274.4 1104.2 C1271.2 1093.8 1267.8 1085.6 1264.7 1076.2 C1261.6 1066.8 1258.7 1056.9 1256 1048.1 C1253.3 1039.3 1250.2 1028.8 1248.5 1023.3 C1246.8 1017.8 1246.4 1016.4 1246 1015 L1020 980 L1020 1553.2 Z" fill="#63b14f" stroke="#08131c" stroke-width="1.35" stroke-linejoin="round" stroke-dasharray="12 2.2"/>
<path d="M1609 1433 C1610.3 1434.5 1613.9 1439.3 1616.8 1442.1 C1619.7 1444.9 1622 1447.6 1626.5 1449.9 C1631 1452.2 1638 1453.8 1643.8 1455.7 C1649.6 1457.6 1654.7 1459.5 1661.2 1461.4 C1667.7 1463.3 1679.4 1466.2 1683 1467.2 L1740 1467.2 L1740 1433 Z" fill="#63b14f" stroke="#08131c" stroke-width="1.35" stroke-linejoin="round" stroke-dasharray="12 2.2"/>
<path d="M1061 1542.5 C1070.5 1541.8 1103.9 1539.6 1117.9 1538.5 C1131.9 1537.4 1136.3 1536.9 1145 1536 C1153.7 1535.1 1164.1 1533.8 1170 1533 C1175.9 1532.2 1175.4 1532.4 1180.2 1531 C1185 1529.6 1193 1527 1198.6 1524.8 C1204.2 1522.6 1209 1520.2 1214 1517.7 C1219 1515.2 1223.7 1512.6 1228.3 1509.5 C1232.9 1506.4 1237.5 1502.7 1241.6 1499.3 C1245.7 1495.9 1249.2 1492.7 1252.8 1489.1 C1256.4 1485.5 1259.8 1481.7 1263 1477.8 C1266.2 1473.9 1269.3 1469.7 1272.2 1465.6 C1275.1 1461.5 1277.7 1457.9 1280.4 1453.3 C1283.1 1448.7 1285.3 1444.4 1288.5 1438 C1291.7 1431.6 1296.8 1422 1299.5 1414.8 C1302.2 1407.6 1303.2 1402.1 1305 1395 C1306.8 1387.9 1308.6 1381.2 1310 1372 C1311.4 1362.8 1313 1350.8 1313.5 1340 C1314 1329.2 1313.8 1317.5 1313.2 1306.9 C1312.6 1296.4 1311.6 1285 1310 1276.7 C1308.4 1268.4 1306 1265.6 1303.5 1257.3 C1301 1249 1297.8 1237.5 1294.9 1227.1 C1292 1216.7 1289.4 1205.8 1286.2 1194.7 C1283 1183.6 1279.1 1171.7 1275.5 1160.2 C1271.9 1148.7 1268.3 1135.8 1264.7 1125.7 C1261.1 1115.7 1258.8 1106.5 1253.9 1099.9 C1249.1 1093.3 1238.6 1088.2 1235.6 1085.9 L1225 1084 C1190.8 1084 1054.2 1007.6 1020 1084 C985.8 1160.4 1020 1466.1 1020 1542.5 Z" fill="#6db436" stroke="#08131c" stroke-width="1.35" stroke-linejoin="round" stroke-dasharray="12 2.2"/>
<path d="M1061 1528 C1070.5 1527.4 1103.9 1525.4 1117.9 1524.5 C1131.9 1523.6 1136.3 1523.1 1145 1522.5 C1153.7 1521.9 1162.4 1521.9 1170 1520.7 C1177.6 1519.5 1184.4 1517.3 1190.4 1515.6 C1196.4 1513.9 1200.8 1512.5 1205.8 1510.5 C1210.8 1508.5 1215.5 1506.1 1220.1 1503.4 C1224.7 1500.7 1229.3 1497.3 1233.4 1494.2 C1237.5 1491.1 1241 1488.2 1244.6 1485 C1248.2 1481.8 1251.6 1478.4 1254.8 1474.8 C1258 1471.2 1261.1 1467.4 1264 1463.5 C1266.9 1459.6 1269.6 1455.5 1272.2 1451.2 C1274.8 1447 1276.6 1444.1 1279.5 1438 C1282.4 1431.9 1287.2 1422 1289.8 1414.8 C1292.4 1407.6 1293.3 1402.1 1295 1395 C1296.7 1387.9 1298.8 1380.2 1300 1372 C1301.2 1363.8 1302.4 1355.8 1302.4 1345.7 C1302.5 1335.6 1301.5 1322.4 1300.3 1311.2 C1299 1300 1296.9 1289.2 1294.9 1278.8 C1292.9 1268.4 1290.9 1258.3 1288.4 1248.6 C1285.9 1238.9 1282.7 1229.6 1279.8 1220.6 C1276.9 1211.6 1274 1202.6 1271.1 1194.7 C1268.2 1186.8 1265.4 1179.3 1262.5 1173.2 C1259.6 1167.1 1257.1 1161.3 1253.9 1158.1 C1250.7 1154.9 1244.9 1154.5 1243.1 1153.8 L1225 1152 C1190.8 1152 1054.2 1089.3 1020 1152 C985.8 1214.7 1020 1465.3 1020 1528 Z" fill="#74b531" stroke="#08131c" stroke-width="1.35" stroke-linejoin="round" stroke-dasharray="12 2.2"/>
<path d="M1061 1511.6 C1070.5 1511 1103.9 1509 1117.9 1507.8 C1131.9 1506.6 1136.3 1505.6 1145 1504.5 C1153.7 1503.4 1162.1 1502.7 1170 1501.3 C1177.9 1499.9 1186.2 1497.9 1192.5 1496.2 C1198.8 1494.5 1203 1493 1207.8 1491.1 C1212.6 1489.2 1216.8 1487.2 1221.1 1485 C1225.4 1482.8 1229.7 1480.4 1233.4 1477.8 C1237.2 1475.2 1240.5 1472.5 1243.6 1469.6 C1246.7 1466.7 1249.4 1463.6 1251.8 1460.4 C1254.2 1457.2 1256.5 1453.4 1257.9 1450.2 C1259.4 1447 1259.8 1443.6 1260.5 1441 C1261.2 1438.4 1262 1436.3 1261.9 1434.8 C1261.8 1433.3 1261.6 1432.6 1260 1432 C1258.4 1431.4 1253.5 1431.2 1252.2 1431 L1252.2 1431 C1213.5 1431 1058.7 1417.6 1020 1431 C981.3 1444.4 1020 1498.2 1020 1511.6 Z" fill="#81ba2e" stroke="#08131c" stroke-width="1.35" stroke-linejoin="round" stroke-dasharray="12 2.2"/>
<path d="M1268 1385 C1268 1389.5 1267.6 1405.5 1268.2 1412 C1268.8 1418.5 1270.3 1424.5 1271.5 1424.2 C1272.7 1423.9 1274.5 1416.5 1275.3 1410 C1276 1403.5 1275.9 1389.2 1276 1385 Z" fill="#81ba2e" stroke="#08131c" stroke-width="1.35" stroke-linejoin="round" stroke-dasharray="12 2.2"/>
<path d="M1061 1456.6 C1070.5 1456.8 1102 1457.1 1117.9 1457.6 C1133.8 1458.1 1147.8 1459 1156.5 1459.5 C1165.2 1460 1163.5 1459.8 1170 1460.4 C1176.5 1461 1189.6 1462.1 1195.6 1463.3 C1201.6 1464.5 1204.1 1466.9 1205.8 1467.6 L1205.8 1467.6 C1205 1468.1 1204.1 1469.7 1200.7 1470.7 C1197.3 1471.7 1190.4 1472.9 1185.3 1473.7 C1180.2 1474.5 1178 1474.5 1170 1475.8 C1162 1477.1 1149.1 1480.1 1137.2 1481.7 C1125.3 1483.3 1111.3 1484.8 1098.6 1485.6 C1085.9 1486.4 1067.3 1486.3 1061 1486.5 L1020 1486.5 L1020 1456.6 Z" fill="#a6c937" stroke="#08131c" stroke-width="1.35" stroke-linejoin="round" stroke-dasharray="12 2.2"/>
<polygon points="1061,1415.5 1219.3,1415.5 1221,1417.2 1061,1417.2" fill="#1a4594"/>
<polygon points="1061,1417.2 1221,1417.2 1222.7,1418.9 1061,1418.9" fill="#21549f"/>
<polygon points="1061,1418.9 1222.7,1418.9 1224.4,1420.7 1061,1420.7" fill="#2e74b5"/>
<polygon points="1061,1420.7 1224.4,1420.7 1226.1,1422.4 1061,1422.4" fill="#38aedb"/>
<polygon points="1061,1422.4 1226.1,1422.4 1227.7,1424.1 1061,1424.1" fill="#6ebfc4"/>
<polygon points="1061,1424.1 1227.7,1424.1 1229.4,1425.8 1061,1425.8" fill="#67b78e"/>
<polygon points="1061,1425.8 1229.4,1425.8 1231.1,1427.6 1061,1427.6" fill="#63b14f"/>
<polygon points="1061,1427.6 1231.1,1427.6 1232.8,1429.3 1061,1429.3" fill="#6db436"/>
<polygon points="1061,1429.3 1232.8,1429.3 1234.5,1431 1061,1431" fill="#74b531"/>
<polyline points="1061,1417.2 1221,1417.2" fill="none" stroke="#0b1a26" stroke-width="0.7" stroke-opacity="0.85"/>
<polyline points="1061,1418.9 1222.7,1418.9" fill="none" stroke="#0b1a26" stroke-width="0.7" stroke-opacity="0.85"/>
<polyline points="1061,1420.7 1224.4,1420.7" fill="none" stroke="#0b1a26" stroke-width="0.7" stroke-opacity="0.85"/>
<polyline points="1061,1422.4 1226.1,1422.4" fill="none" stroke="#0b1a26" stroke-width="0.7" stroke-opacity="0.85"/>
<polyline points="1061,1424.1 1227.7,1424.1" fill="none" stroke="#0b1a26" stroke-width="0.7" stroke-opacity="0.85"/>
<polyline points="1061,1425.8 1229.4,1425.8" fill="none" stroke="#0b1a26" stroke-width="0.7" stroke-opacity="0.85"/>
<polyline points="1061,1427.6 1231.1,1427.6" fill="none" stroke="#0b1a26" stroke-width="0.7" stroke-opacity="0.85"/>
<polyline points="1061,1429.3 1232.8,1429.3" fill="none" stroke="#0b1a26" stroke-width="0.7" stroke-opacity="0.85"/>
<polyline points="1061,1431 1234.5,1431" fill="none" stroke="#0b1a26" stroke-width="0.7" stroke-opacity="0.85"/>
<polygon points="1219.3,1415.5 1219.3,1020 1221.5,1020 1221.5,1417.7" fill="#1a4594"/>
<polygon points="1221.5,1417.7 1221.5,1020 1223.6,1020 1223.6,1419.9" fill="#21549f"/>
<polygon points="1223.6,1419.9 1223.6,1020 1225.8,1020 1225.8,1422.1" fill="#2e74b5"/>
<polygon points="1225.8,1422.1 1225.8,1020 1228,1020 1228,1424.4" fill="#38aedb"/>
<polygon points="1228,1424.4 1228,1020 1230.2,1020 1230.2,1426.6" fill="#6ebfc4"/>
<polygon points="1230.2,1426.6 1230.2,1020 1232.3,1020 1232.3,1428.8" fill="#67b78e"/>
<polygon points="1232.3,1428.8 1232.3,1020 1234.5,1020 1234.5,1431" fill="#63b14f"/>
<polyline points="1221.5,1417.7 1221.5,1020" fill="none" stroke="#0b1a26" stroke-width="0.7" stroke-opacity="0.85"/>
<polyline points="1223.6,1419.9 1223.6,1020" fill="none" stroke="#0b1a26" stroke-width="0.7" stroke-opacity="0.85"/>
<polyline points="1225.8,1422.1 1225.8,1020" fill="none" stroke="#0b1a26" stroke-width="0.7" stroke-opacity="0.85"/>
<polyline points="1228,1424.4 1228,1020" fill="none" stroke="#0b1a26" stroke-width="0.7" stroke-opacity="0.85"/>
<polyline points="1230.2,1426.6 1230.2,1020" fill="none" stroke="#0b1a26" stroke-width="0.7" stroke-opacity="0.85"/>
<polyline points="1232.3,1428.8 1232.3,1020" fill="none" stroke="#0b1a26" stroke-width="0.7" stroke-opacity="0.85"/>
<polyline points="1234.5,1431 1234.5,1020" fill="none" stroke="#0b1a26" stroke-width="0.7" stroke-opacity="0.85"/>
<polygon points="1530,1020 1530,1416 1526,1419.9 1526,1020" fill="#1a4594"/>
<polygon points="1526,1020 1526,1419.9 1522,1423.8 1522,1020" fill="#21549f"/>
<polygon points="1522,1020 1522,1423.8 1518,1427.6 1518,1020" fill="#2e74b5"/>
<polygon points="1518,1020 1518,1427.6 1514,1431.5 1514,1020" fill="#38aedb"/>
<polyline points="1526,1020 1526,1419.9" fill="none" stroke="#0b1a26" stroke-width="0.7" stroke-opacity="0.85"/>
<polyline points="1522,1020 1522,1423.8" fill="none" stroke="#0b1a26" stroke-width="0.7" stroke-opacity="0.85"/>
<polyline points="1518,1020 1518,1427.6" fill="none" stroke="#0b1a26" stroke-width="0.7" stroke-opacity="0.85"/>
<polyline points="1514,1020 1514,1431.5" fill="none" stroke="#0b1a26" stroke-width="0.7" stroke-opacity="0.85"/>
<polygon points="1530,1416 1683,1416 1683,1419.1 1526.8,1419.1" fill="#1a4594"/>
<polygon points="1526.8,1419.1 1683,1419.1 1683,1422.2 1523.6,1422.2" fill="#21549f"/>
<polygon points="1523.6,1422.2 1683,1422.2 1683,1425.3 1520.4,1425.3" fill="#2e74b5"/>
<polygon points="1520.4,1425.3 1683,1425.3 1683,1428.4 1517.2,1428.4" fill="#38aedb"/>
<polygon points="1517.2,1428.4 1683,1428.4 1683,1431.5 1514,1431.5" fill="#6ebfc4"/>
<polyline points="1526.8,1419.1 1683,1419.1" fill="none" stroke="#0b1a26" stroke-width="0.7" stroke-opacity="0.85"/>
<polyline points="1523.6,1422.2 1683,1422.2" fill="none" stroke="#0b1a26" stroke-width="0.7" stroke-opacity="0.85"/>
<polyline points="1520.4,1425.3 1683,1425.3" fill="none" stroke="#0b1a26" stroke-width="0.7" stroke-opacity="0.85"/>
<polyline points="1517.2,1428.4 1683,1428.4" fill="none" stroke="#0b1a26" stroke-width="0.7" stroke-opacity="0.85"/>
<polyline points="1514,1431.5 1683,1431.5" fill="none" stroke="#0b1a26" stroke-width="0.7" stroke-opacity="0.85"/>
<polygon points="1058,1019 1214,1019 1214,1410 1058,1410" fill="#1a4594"/>
<polygon points="1535,1019 1690,1019 1690,1410 1535,1410" fill="#1a4594"/>
<g transform="translate(1305.6 1083.7) rotate(90)"><rect x="-11.9" y="-7.3" width="23.8" height="14.6" fill="#fff"/><text transform="scale(1.2 1)" x="0" y="5.3" text-anchor="middle" font-family='"Liberation Sans", sans-serif' font-size="14.8" fill="#000" stroke="#000" stroke-width="0.25">40</text></g>
<g transform="translate(1274.4 1104.2) rotate(75)"><rect x="-11.9" y="-7.3" width="23.8" height="14.6" fill="#fff"/><text transform="scale(1.2 1)" x="0" y="5.3" text-anchor="middle" font-family='"Liberation Sans", sans-serif' font-size="14.8" fill="#000" stroke="#000" stroke-width="0.25">50</text></g>
<g transform="translate(1300.3 1155.9) rotate(78)"><rect x="-11.9" y="-7.3" width="23.8" height="14.6" fill="#fff"/><text transform="scale(1.2 1)" x="0" y="5.3" text-anchor="middle" font-family='"Liberation Sans", sans-serif' font-size="14.8" fill="#000" stroke="#000" stroke-width="0.25">45</text></g>
<g transform="translate(1355.2 1139.8) rotate(45)"><rect x="-11.9" y="-7.3" width="23.8" height="14.6" fill="#fff"/><text transform="scale(1.2 1)" x="0" y="5.3" text-anchor="middle" font-family='"Liberation Sans", sans-serif' font-size="14.8" fill="#000" stroke="#000" stroke-width="0.25">35</text></g>
<g transform="translate(1234.5 1155.9) rotate(-90)"><rect x="-11.9" y="-7.3" width="23.8" height="14.6" fill="#fff"/><text transform="scale(1.2 1)" x="0" y="5.3" text-anchor="middle" font-family='"Liberation Sans", sans-serif' font-size="14.8" fill="#000" stroke="#000" stroke-width="0.25">60</text></g>
<g transform="translate(1229 1177.5) rotate(-90)"><rect x="-11.9" y="-7.3" width="23.8" height="14.6" fill="#fff"/><text transform="scale(1.2 1)" x="0" y="5.3" text-anchor="middle" font-family='"Liberation Sans", sans-serif' font-size="14.8" fill="#000" stroke="#000" stroke-width="0.25">50</text></g>
<g transform="translate(1225.9 1246.5) rotate(-90)"><rect x="-11.9" y="-7.3" width="23.8" height="14.6" fill="#fff"/><text transform="scale(1.2 1)" x="0" y="5.3" text-anchor="middle" font-family='"Liberation Sans", sans-serif' font-size="14.8" fill="#000" stroke="#000" stroke-width="0.25">45</text></g>
<g transform="translate(1224.8 1281) rotate(-90)"><rect x="-11.9" y="-7.3" width="23.8" height="14.6" fill="#fff"/><text transform="scale(1.2 1)" x="0" y="5.3" text-anchor="middle" font-family='"Liberation Sans", sans-serif' font-size="14.8" fill="#000" stroke="#000" stroke-width="0.25">35</text></g>
<g transform="translate(1310 1276.7) rotate(80)"><rect x="-11.9" y="-7.3" width="23.8" height="14.6" fill="#fff"/><text transform="scale(1.2 1)" x="0" y="5.3" text-anchor="middle" font-family='"Liberation Sans", sans-serif' font-size="14.8" fill="#000" stroke="#000" stroke-width="0.25">55</text></g>
<g transform="translate(1523.4 1119.3) rotate(90)"><rect x="-11.9" y="-7.3" width="23.8" height="14.6" fill="#fff"/><text transform="scale(1.2 1)" x="0" y="5.3" text-anchor="middle" font-family='"Liberation Sans", sans-serif' font-size="14.8" fill="#000" stroke="#000" stroke-width="0.25">30</text></g>
<g transform="translate(1522.3 1155.9) rotate(90)"><rect x="-11.9" y="-7.3" width="23.8" height="14.6" fill="#fff"/><text transform="scale(1.2 1)" x="0" y="5.3" text-anchor="middle" font-family='"Liberation Sans", sans-serif' font-size="14.8" fill="#000" stroke="#000" stroke-width="0.25">35</text></g>
<g transform="translate(1454.4 1208.7) rotate(75)"><rect x="-11.9" y="-7.3" width="23.8" height="14.6" fill="#fff"/><text transform="scale(1.2 1)" x="0" y="5.3" text-anchor="middle" font-family='"Liberation Sans", sans-serif' font-size="14.8" fill="#000" stroke="#000" stroke-width="0.25">45</text></g>
<g transform="translate(1428.5 1227.1) rotate(70)"><rect x="-11.9" y="-7.3" width="23.8" height="14.6" fill="#fff"/><text transform="scale(1.2 1)" x="0" y="5.3" text-anchor="middle" font-family='"Liberation Sans", sans-serif' font-size="14.8" fill="#000" stroke="#000" stroke-width="0.25">40</text></g>
<g transform="translate(1516 1208) rotate(-90)"><rect x="-11.9" y="-7.3" width="23.8" height="14.6" fill="#fff"/><text transform="scale(1.2 1)" x="0" y="5.3" text-anchor="middle" font-family='"Liberation Sans", sans-serif' font-size="14.8" fill="#000" stroke="#000" stroke-width="0.25">45</text></g>
<g transform="translate(1520 1229) rotate(-90)"><rect x="-11.9" y="-7.3" width="23.8" height="14.6" fill="#fff"/><text transform="scale(1.2 1)" x="0" y="5.3" text-anchor="middle" font-family='"Liberation Sans", sans-serif' font-size="14.8" fill="#000" stroke="#000" stroke-width="0.25">40</text></g>
<g transform="translate(1270.3 1389.5) rotate(-85)"><rect x="-11.9" y="-7.3" width="23.8" height="14.6" fill="#fff"/><text transform="scale(1.2 1)" x="0" y="5.3" text-anchor="middle" font-family='"Liberation Sans", sans-serif' font-size="14.8" fill="#000" stroke="#000" stroke-width="0.25">65</text></g>
<g transform="translate(1295.3 1405.6) rotate(-75)"><rect x="-11.9" y="-7.3" width="23.8" height="14.6" fill="#fff"/><text transform="scale(1.2 1)" x="0" y="5.3" text-anchor="middle" font-family='"Liberation Sans", sans-serif' font-size="14.8" fill="#000" stroke="#000" stroke-width="0.25">60</text></g>
<g transform="translate(1315.5 1388.3) rotate(-80)"><rect x="-11.9" y="-7.3" width="23.8" height="14.6" fill="#fff"/><text transform="scale(1.2 1)" x="0" y="5.3" text-anchor="middle" font-family='"Liberation Sans", sans-serif' font-size="14.8" fill="#000" stroke="#000" stroke-width="0.25">50</text></g>
<g transform="translate(1332 1370) rotate(-85)"><rect x="-11.9" y="-7.3" width="23.8" height="14.6" fill="#fff"/><text transform="scale(1.2 1)" x="0" y="5.3" text-anchor="middle" font-family='"Liberation Sans", sans-serif' font-size="14.8" fill="#000" stroke="#000" stroke-width="0.25">40</text></g>
<g transform="translate(1333 1405.5) rotate(-79)"><rect x="-11.9" y="-7.3" width="23.8" height="14.6" fill="#fff"/><text transform="scale(1.2 1)" x="0" y="5.3" text-anchor="middle" font-family='"Liberation Sans", sans-serif' font-size="14.8" fill="#000" stroke="#000" stroke-width="0.25">35</text></g>
<g transform="translate(1347.2 1382.2) rotate(-75)"><rect x="-11.9" y="-7.3" width="23.8" height="14.6" fill="#fff"/><text transform="scale(1.2 1)" x="0" y="5.3" text-anchor="middle" font-family='"Liberation Sans", sans-serif' font-size="14.8" fill="#000" stroke="#000" stroke-width="0.25">30</text></g>
<g transform="translate(1362.5 1389) rotate(-80)"><rect x="-11.9" y="-7.3" width="23.8" height="14.6" fill="#fff"/><text transform="scale(1.2 1)" x="0" y="5.3" text-anchor="middle" font-family='"Liberation Sans", sans-serif' font-size="14.8" fill="#000" stroke="#000" stroke-width="0.25">25</text></g>
<g transform="translate(1415.6 1371.5) rotate(75)"><rect x="-11.9" y="-7.3" width="23.8" height="14.6" fill="#fff"/><text transform="scale(1.2 1)" x="0" y="5.3" text-anchor="middle" font-family='"Liberation Sans", sans-serif' font-size="14.8" fill="#000" stroke="#000" stroke-width="0.25">30</text></g>
<g transform="translate(1523.4 1406) rotate(90)"><rect x="-11.9" y="-7.3" width="23.8" height="14.6" fill="#fff"/><text transform="scale(1.2 1)" x="0" y="5.3" text-anchor="middle" font-family='"Liberation Sans", sans-serif' font-size="14.8" fill="#000" stroke="#000" stroke-width="0.25">30</text></g>
<g transform="translate(1452.5 1422) rotate(68)"><rect x="-11.9" y="-7.3" width="23.8" height="14.6" fill="#fff"/><text transform="scale(1.2 1)" x="0" y="5.3" text-anchor="middle" font-family='"Liberation Sans", sans-serif' font-size="14.8" fill="#000" stroke="#000" stroke-width="0.25">35</text></g>
<g transform="translate(1303.4 1441) rotate(-60)"><rect x="-11.9" y="-7.3" width="23.8" height="14.6" fill="#fff"/><text transform="scale(1.2 1)" x="0" y="5.3" text-anchor="middle" font-family='"Liberation Sans", sans-serif' font-size="14.8" fill="#000" stroke="#000" stroke-width="0.25">45</text></g>
<g transform="translate(1077.4 1424.8) rotate(0)"><rect x="-11.9" y="-7.3" width="23.8" height="14.6" fill="#fff"/><text transform="scale(1.2 1)" x="0" y="5.3" text-anchor="middle" font-family='"Liberation Sans", sans-serif' font-size="14.8" fill="#000" stroke="#000" stroke-width="0.25">45</text></g>
<g transform="translate(1150.8 1419) rotate(0)"><rect x="-11.9" y="-7.3" width="23.8" height="14.6" fill="#fff"/><text transform="scale(1.2 1)" x="0" y="5.3" text-anchor="middle" font-family='"Liberation Sans", sans-serif' font-size="14.8" fill="#000" stroke="#000" stroke-width="0.25">25</text></g>
<g transform="translate(1160 1421) rotate(0)"><rect x="-11.9" y="-7.3" width="23.8" height="14.6" fill="#fff"/><text transform="scale(1.2 1)" x="0" y="5.3" text-anchor="middle" font-family='"Liberation Sans", sans-serif' font-size="14.8" fill="#000" stroke="#000" stroke-width="0.25">55</text></g>
<g transform="translate(1169 1426.7) rotate(0)"><rect x="-11.9" y="-7.3" width="23.8" height="14.6" fill="#fff"/><text transform="scale(1.2 1)" x="0" y="5.3" text-anchor="middle" font-family='"Liberation Sans", sans-serif' font-size="14.8" fill="#000" stroke="#000" stroke-width="0.25">50</text></g>
<g transform="translate(1188.4 1431.5) rotate(0)"><rect x="-11.9" y="-7.3" width="23.8" height="14.6" fill="#fff"/><text transform="scale(1.2 1)" x="0" y="5.3" text-anchor="middle" font-family='"Liberation Sans", sans-serif' font-size="14.8" fill="#000" stroke="#000" stroke-width="0.25">65</text></g>
<g transform="translate(1208.7 1429.6) rotate(0)"><rect x="-11.9" y="-7.3" width="23.8" height="14.6" fill="#fff"/><text transform="scale(1.2 1)" x="0" y="5.3" text-anchor="middle" font-family='"Liberation Sans", sans-serif' font-size="14.8" fill="#000" stroke="#000" stroke-width="0.25">60</text></g>
<g transform="translate(1150.8 1477.9) rotate(-8)"><rect x="-11.9" y="-7.3" width="23.8" height="14.6" fill="#fff"/><text transform="scale(1.2 1)" x="0" y="5.3" text-anchor="middle" font-family='"Liberation Sans", sans-serif' font-size="14.8" fill="#000" stroke="#000" stroke-width="0.25">70</text></g>
<g transform="translate(1193.2 1520.3) rotate(-12)"><rect x="-11.9" y="-7.3" width="23.8" height="14.6" fill="#fff"/><text transform="scale(1.2 1)" x="0" y="5.3" text-anchor="middle" font-family='"Liberation Sans", sans-serif' font-size="14.8" fill="#000" stroke="#000" stroke-width="0.25">55</text></g>
<g transform="translate(1114.1 1571.5) rotate(-8)"><rect x="-11.9" y="-7.3" width="23.8" height="14.6" fill="#fff"/><text transform="scale(1.2 1)" x="0" y="5.3" text-anchor="middle" font-family='"Liberation Sans", sans-serif' font-size="14.8" fill="#000" stroke="#000" stroke-width="0.25">40</text></g>
<g transform="translate(1095.7 1588.9) rotate(-8)"><rect x="-11.9" y="-7.3" width="23.8" height="14.6" fill="#fff"/><text transform="scale(1.2 1)" x="0" y="5.3" text-anchor="middle" font-family='"Liberation Sans", sans-serif' font-size="14.8" fill="#000" stroke="#000" stroke-width="0.25">35</text></g>
<g transform="translate(1170 1596.6) rotate(-20)"><rect x="-11.9" y="-7.3" width="23.8" height="14.6" fill="#fff"/><text transform="scale(1.2 1)" x="0" y="5.3" text-anchor="middle" font-family='"Liberation Sans", sans-serif' font-size="14.8" fill="#000" stroke="#000" stroke-width="0.25">30</text></g>
<g transform="translate(1204.8 1634.3) rotate(-30)"><rect x="-11.9" y="-7.3" width="23.8" height="14.6" fill="#fff"/><text transform="scale(1.2 1)" x="0" y="5.3" text-anchor="middle" font-family='"Liberation Sans", sans-serif' font-size="14.8" fill="#000" stroke="#000" stroke-width="0.25">25</text></g>
<g transform="translate(1541.5 1424.8) rotate(0)"><rect x="-11.9" y="-7.3" width="23.8" height="14.6" fill="#fff"/><text transform="scale(1.2 1)" x="0" y="5.3" text-anchor="middle" font-family='"Liberation Sans", sans-serif' font-size="14.8" fill="#000" stroke="#000" stroke-width="0.25">35</text></g>
<g transform="translate(1597.5 1430.5) rotate(0)"><rect x="-11.9" y="-7.3" width="23.8" height="14.6" fill="#fff"/><text transform="scale(1.2 1)" x="0" y="5.3" text-anchor="middle" font-family='"Liberation Sans", sans-serif' font-size="14.8" fill="#000" stroke="#000" stroke-width="0.25">45</text></g>
<g transform="translate(1634.2 1425.7) rotate(0)"><rect x="-11.9" y="-7.3" width="23.8" height="14.6" fill="#fff"/><text transform="scale(1.2 1)" x="0" y="5.3" text-anchor="middle" font-family='"Liberation Sans", sans-serif' font-size="14.8" fill="#000" stroke="#000" stroke-width="0.25">40</text></g>
<g transform="translate(1540.5 1498.1) rotate(25)"><rect x="-11.9" y="-7.3" width="23.8" height="14.6" fill="#fff"/><text transform="scale(1.2 1)" x="0" y="5.3" text-anchor="middle" font-family='"Liberation Sans", sans-serif' font-size="14.8" fill="#000" stroke="#000" stroke-width="0.25">40</text></g>
<g transform="translate(1516.4 1538.7) rotate(30)"><rect x="-11.9" y="-7.3" width="23.8" height="14.6" fill="#fff"/><text transform="scale(1.2 1)" x="0" y="5.3" text-anchor="middle" font-family='"Liberation Sans", sans-serif' font-size="14.8" fill="#000" stroke="#000" stroke-width="0.25">25</text></g>
<g transform="translate(1633.2 1564.7) rotate(12)"><rect x="-11.9" y="-7.3" width="23.8" height="14.6" fill="#fff"/><text transform="scale(1.2 1)" x="0" y="5.3" text-anchor="middle" font-family='"Liberation Sans", sans-serif' font-size="14.8" fill="#000" stroke="#000" stroke-width="0.25">30</text></g>
<g transform="translate(1222 1170) rotate(-90)"><rect x="-11.9" y="-7.3" width="23.8" height="14.6" fill="#fff"/><text transform="scale(1.2 1)" x="0" y="5.3" text-anchor="middle" font-family='"Liberation Sans", sans-serif' font-size="14.8" fill="#000" stroke="#000" stroke-width="0.25">25</text></g>
<g transform="translate(1222 1195) rotate(-90)"><rect x="-11.9" y="-7.3" width="23.8" height="14.6" fill="#fff"/><text transform="scale(1.2 1)" x="0" y="5.3" text-anchor="middle" font-family='"Liberation Sans", sans-serif' font-size="14.8" fill="#000" stroke="#000" stroke-width="0.25">30</text></g>
</g>
<polyline points="1065,1410.3 1214.3,1410.3" fill="none" stroke="#050505" stroke-width="10.5" stroke-linecap="round" stroke-linejoin="round"/>
<polyline points="1214.3,1410.3 1214.3,1025" fill="none" stroke="#050505" stroke-width="10" stroke-linecap="round" stroke-linejoin="round"/>
<polyline points="1677,1410.8 1535,1410.8" fill="none" stroke="#050505" stroke-width="10.5" stroke-linecap="round" stroke-linejoin="round"/>
<polyline points="1535,1410.8 1535,1025" fill="none" stroke="#050505" stroke-width="10.5" stroke-linecap="round" stroke-linejoin="round"/>
<g stroke="#0a0a0a" fill="none">
<path d="M1062.8 1022.3V1736.5H1681.7" stroke-width="3.9" stroke-linejoin="miter"/>
<path d="M1062.8 1736.5v-18.5" stroke-width="3.3"/>
<path d="M1107 1736.5v-11" stroke-width="1.3"/>
<path d="M1151.2 1736.5v-11" stroke-width="1.3"/>
<path d="M1195.4 1736.5v-11" stroke-width="1.3"/>
<path d="M1239.6 1736.5v-18.5" stroke-width="3.3"/>
<path d="M1283.8 1736.5v-11" stroke-width="1.3"/>
<path d="M1328 1736.5v-11" stroke-width="1.3"/>
<path d="M1372.2 1736.5v-11" stroke-width="1.3"/>
<path d="M1416.4 1736.5v-18.5" stroke-width="3.3"/>
<path d="M1460.6 1736.5v-11" stroke-width="1.3"/>
<path d="M1504.8 1736.5v-11" stroke-width="1.3"/>
<path d="M1549 1736.5v-11" stroke-width="1.3"/>
<path d="M1593.2 1736.5v-18.5" stroke-width="3.3"/>
<path d="M1637.4 1736.5v-11" stroke-width="1.3"/>
<path d="M1681.6 1736.5v-11" stroke-width="1.3"/>
<path d="M1062.8 1736.5h18.5" stroke-width="3.3"/>
<path d="M1062.8 1691.9h11" stroke-width="1.3"/>
<path d="M1062.8 1647.3h11" stroke-width="1.3"/>
<path d="M1062.8 1602.8h11" stroke-width="1.3"/>
<path d="M1062.8 1558.2h18.5" stroke-width="3.3"/>
<path d="M1062.8 1513.6h11" stroke-width="1.3"/>
<path d="M1062.8 1469h11" stroke-width="1.3"/>
<path d="M1062.8 1424.4h11" stroke-width="1.3"/>
<path d="M1062.8 1379.9h18.5" stroke-width="3.3"/>
<path d="M1062.8 1335.3h11" stroke-width="1.3"/>
<path d="M1062.8 1290.7h11" stroke-width="1.3"/>
<path d="M1062.8 1246.1h11" stroke-width="1.3"/>
<path d="M1062.8 1201.5h18.5" stroke-width="3.3"/>
<path d="M1062.8 1157h11" stroke-width="1.3"/>
<path d="M1062.8 1112.4h11" stroke-width="1.3"/>
<path d="M1062.8 1067.8h11" stroke-width="1.3"/>
<path d="M1062.8 1023.2h18.5" stroke-width="3.3"/>
</g>
<g stroke="#e6211c" stroke-width="4.4" fill="none" stroke-dasharray="19.2 15.2">
<path d="M1219.5 1235.3H1616"/>
<path d="M1219.5 1414.7H1616"/>
</g>
<path d="M1619.1 1250.9V1404.4" stroke="#e6211c" stroke-width="5.3"/>
<path d="M1619.1 1238.3l7.7 13.6h-15.4z M1619.1 1417l7.7 -13.6h-15.4z" fill="#e6211c"/>
<g font-family='"Liberation Serif", "Noto Serif CJK SC", serif' fill="#1c1614" font-size="63">
<text x="1051.5" y="1040" text-anchor="end">12</text>
<text x="1051.5" y="1214.9" text-anchor="end">10</text>
<text x="1051.5" y="1389.8" text-anchor="end">8</text>
<text x="1051.5" y="1564.7" text-anchor="end">6</text>
<text x="1051.5" y="1739.6" text-anchor="end">4</text>
<text x="1068.9" y="1792.3" text-anchor="middle">118</text>
<text x="1245.7" y="1792.3" text-anchor="middle">120</text>
<text x="1422.5" y="1792.3" text-anchor="middle">122</text>
<text x="1599.3" y="1792.3" text-anchor="middle">124</text>
<text x="1339" y="1856.6" text-anchor="middle"><tspan font-style="italic">X</tspan>/m</text>
<text transform="translate(984 1377) rotate(-90)" text-anchor="middle"><tspan font-style="italic">Y</tspan>/m</text>
<text transform="translate(1746.5 1326.5) rotate(-90)" text-anchor="middle">2.02 m</text>
<text x="1347" y="1928.2" text-anchor="middle" font-size="63">(d) <tspan font-style="italic" dx="4">θ</tspan><tspan dx="-6">=</tspan><tspan dx="-3">90°</tspan></text>
</g>
</svg>
</body></html>
